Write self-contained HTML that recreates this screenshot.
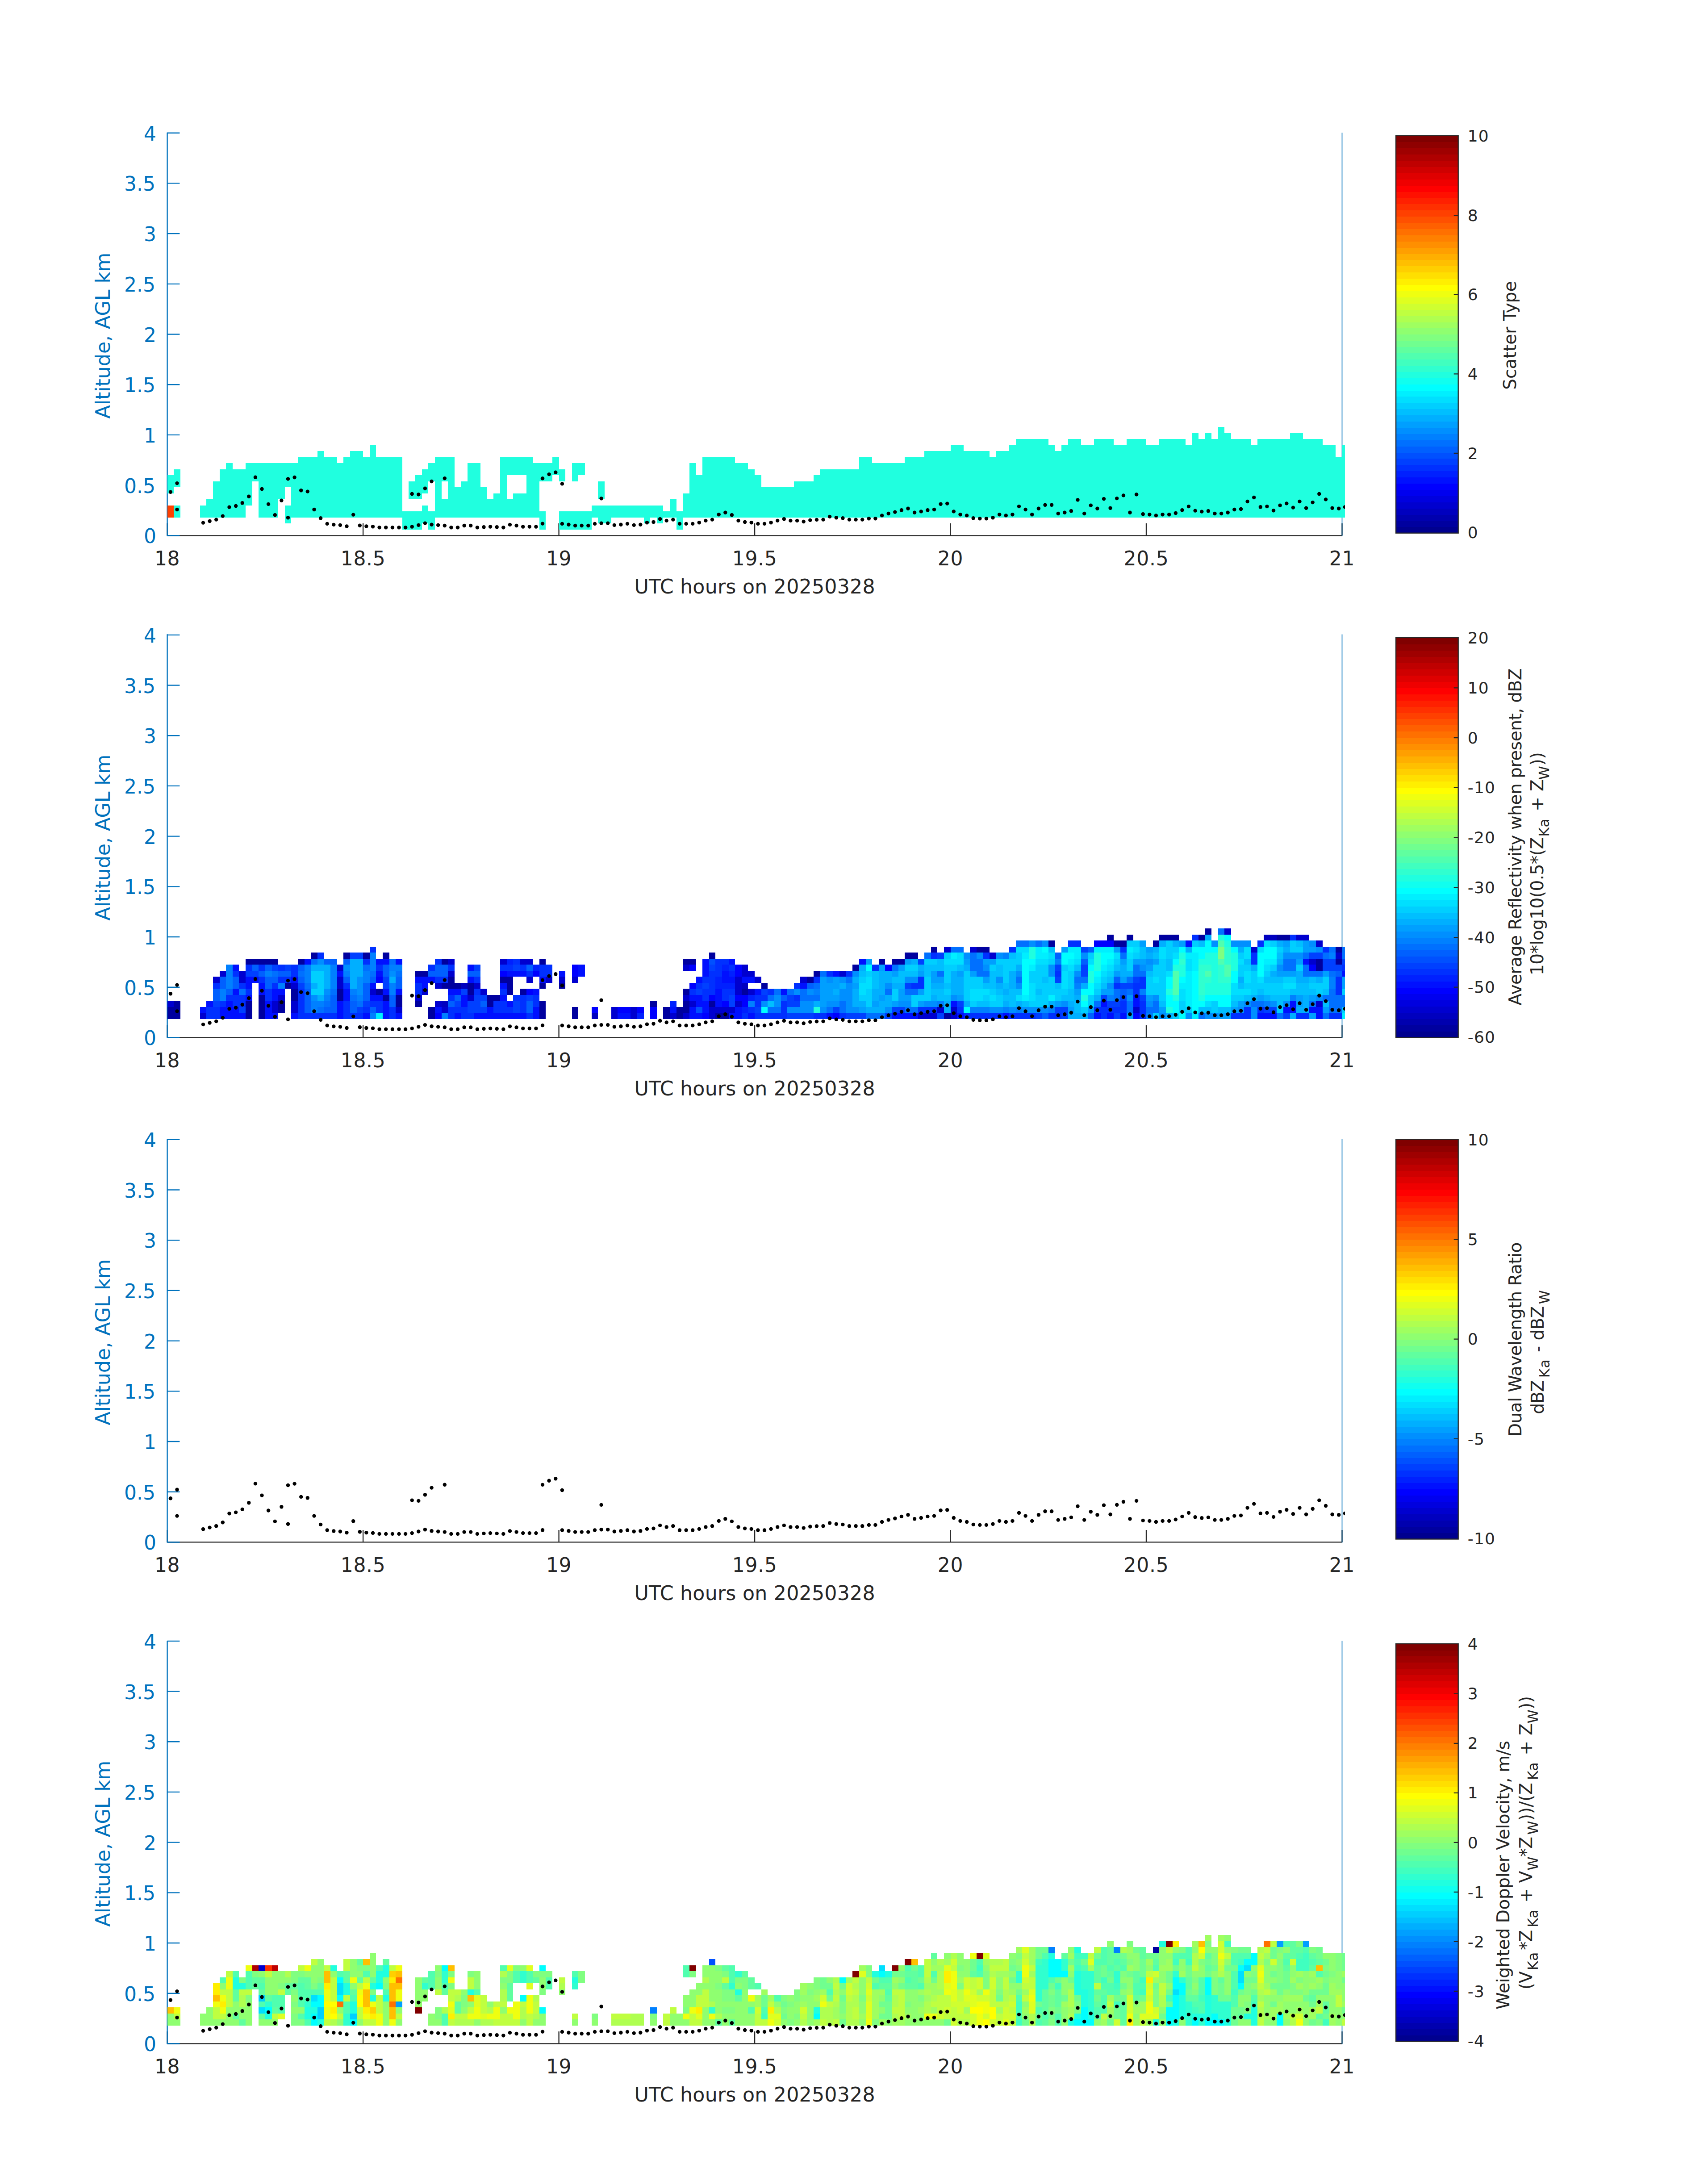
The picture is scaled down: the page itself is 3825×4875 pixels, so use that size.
<!DOCTYPE html>
<html><head><meta charset="utf-8"><title>Radar scatter type, reflectivity, DWR and Doppler velocity</title>
<style>html,body{margin:0;padding:0;background:#fff}svg{display:block}text{font-family:'DejaVu Sans','Liberation Sans',sans-serif}</style></head><body>
<svg width="3825" height="4875" viewBox="0 0 3825 4875">
<rect width="3825" height="4875" fill="#fff"/>
<defs>
<clipPath id="cp0"><rect x="374.6" y="298" width="2637.4" height="901.3"/></clipPath>
<clipPath id="cp1"><rect x="374.6" y="1421.5" width="2637.4" height="901.9"/></clipPath>
<clipPath id="cp2"><rect x="374.6" y="2551.5" width="2637.4" height="901.9"/></clipPath>
<clipPath id="cp3"><rect x="374.6" y="3675.4" width="2637.4" height="901"/></clipPath>
</defs>
<path d="M374.6 1199.3v-27.5M813.1 1199.3v-27.5M1251.6 1199.3v-27.5M1690.1 1199.3v-27.5M2128.5 1199.3v-27.5M2567 1199.3v-27.5M3005.5 1199.3v-27.5" stroke="#262626" stroke-width="2.35" fill="none"/>
<path d="M374.6 1199.3h27.8M374.6 1086.6h27.8M374.6 973.9h27.8M374.6 861.2h27.8M374.6 748.5h27.8M374.6 635.8h27.8M374.6 523.1h27.8M374.6 410.4h27.8M374.6 297.7h27.8" stroke="#0072BD" stroke-width="2.35" fill="none"/>
<path d="M374.6 2323.4v-27.5M813.1 2323.4v-27.5M1251.6 2323.4v-27.5M1690.1 2323.4v-27.5M2128.5 2323.4v-27.5M2567 2323.4v-27.5M3005.5 2323.4v-27.5" stroke="#262626" stroke-width="2.35" fill="none"/>
<path d="M374.6 2323.4h27.8M374.6 2210.7h27.8M374.6 2098h27.8M374.6 1985.3h27.8M374.6 1872.6h27.8M374.6 1759.9h27.8M374.6 1647.2h27.8M374.6 1534.5h27.8M374.6 1421.8h27.8" stroke="#0072BD" stroke-width="2.35" fill="none"/>
<path d="M374.6 3453.4v-27.5M813.1 3453.4v-27.5M1251.6 3453.4v-27.5M1690.1 3453.4v-27.5M2128.5 3453.4v-27.5M2567 3453.4v-27.5M3005.5 3453.4v-27.5" stroke="#262626" stroke-width="2.35" fill="none"/>
<path d="M374.6 3453.4h27.8M374.6 3340.7h27.8M374.6 3228h27.8M374.6 3115.3h27.8M374.6 3002.6h27.8M374.6 2889.9h27.8M374.6 2777.2h27.8M374.6 2664.5h27.8M374.6 2551.8h27.8" stroke="#0072BD" stroke-width="2.35" fill="none"/>
<path d="M374.6 4576.4v-27.5M813.1 4576.4v-27.5M1251.6 4576.4v-27.5M1690.1 4576.4v-27.5M2128.5 4576.4v-27.5M2567 4576.4v-27.5M3005.5 4576.4v-27.5" stroke="#262626" stroke-width="2.35" fill="none"/>
<path d="M374.6 4576.4h27.8M374.6 4463.7h27.8M374.6 4351h27.8M374.6 4238.3h27.8M374.6 4125.6h27.8M374.6 4012.9h27.8M374.6 3900.2h27.8M374.6 3787.5h27.8M374.6 3674.8h27.8" stroke="#0072BD" stroke-width="2.35" fill="none"/>
<path d="M374.6 1199.3H3005.5" stroke="#262626" stroke-width="2.35" fill="none"/>
<path d="M3005.5 297V1200.5" stroke="#0072BD" stroke-width="1.7" fill="none"/>
<path d="M374.6 296.8V1200.5M374.6 1199.3h27.8" stroke="#0072BD" stroke-width="2.35" fill="none"/>
<g fill="#0072BD" font-size="44" text-anchor="end">
<text x="349.9" y="1216.3">0</text>
<text x="348.1" y="1103.6">0.5</text>
<text x="349.9" y="990.9">1</text>
<text x="348.1" y="878.2">1.5</text>
<text x="349.9" y="765.5">2</text>
<text x="348.1" y="652.8">2.5</text>
<text x="349.9" y="540.1">3</text>
<text x="348.1" y="427.4">3.5</text>
<text x="349.9" y="314.7">4</text>
</g>
<text transform="translate(245.9 937.5) rotate(-90)" fill="#0072BD" font-size="44.4" letter-spacing="-0.11">Altitude, AGL km</text>
<g fill="#262626" font-size="44" text-anchor="middle" letter-spacing="0.7">
<text x="374.6" y="1265.6">18</text>
<text x="813.1" y="1265.6">18.5</text>
<text x="1251.6" y="1265.6">19</text>
<text x="1690.1" y="1265.6">19.5</text>
<text x="2128.5" y="1265.6">20</text>
<text x="2567" y="1265.6">20.5</text>
<text x="3005.5" y="1265.6">21</text>
</g>
<text x="1420.4" y="1328.9" fill="#262626" font-size="44.3" letter-spacing="0.20">UTC hours on 20250328</text>
<path d="M374.6 2323.4H3005.5" stroke="#262626" stroke-width="2.35" fill="none"/>
<path d="M3005.5 1420.5V2324.6" stroke="#0072BD" stroke-width="1.7" fill="none"/>
<path d="M374.6 1420.3V2324.6M374.6 2323.4h27.8" stroke="#0072BD" stroke-width="2.35" fill="none"/>
<g fill="#0072BD" font-size="44" text-anchor="end">
<text x="349.9" y="2340.4">0</text>
<text x="348.1" y="2227.7">0.5</text>
<text x="349.9" y="2115">1</text>
<text x="348.1" y="2002.3">1.5</text>
<text x="349.9" y="1889.6">2</text>
<text x="348.1" y="1776.9">2.5</text>
<text x="349.9" y="1664.2">3</text>
<text x="348.1" y="1551.5">3.5</text>
<text x="349.9" y="1438.8">4</text>
</g>
<text transform="translate(245.9 2061.6) rotate(-90)" fill="#0072BD" font-size="44.4" letter-spacing="-0.11">Altitude, AGL km</text>
<g fill="#262626" font-size="44" text-anchor="middle" letter-spacing="0.7">
<text x="374.6" y="2389.7">18</text>
<text x="813.1" y="2389.7">18.5</text>
<text x="1251.6" y="2389.7">19</text>
<text x="1690.1" y="2389.7">19.5</text>
<text x="2128.5" y="2389.7">20</text>
<text x="2567" y="2389.7">20.5</text>
<text x="3005.5" y="2389.7">21</text>
</g>
<text x="1420.4" y="2453" fill="#262626" font-size="44.3" letter-spacing="0.20">UTC hours on 20250328</text>
<path d="M374.6 3453.4H3005.5" stroke="#262626" stroke-width="2.35" fill="none"/>
<path d="M3005.5 2550.5V3454.6" stroke="#0072BD" stroke-width="1.7" fill="none"/>
<path d="M374.6 2550.3V3454.6M374.6 3453.4h27.8" stroke="#0072BD" stroke-width="2.35" fill="none"/>
<g fill="#0072BD" font-size="44" text-anchor="end">
<text x="349.9" y="3470.4">0</text>
<text x="348.1" y="3357.7">0.5</text>
<text x="349.9" y="3245">1</text>
<text x="348.1" y="3132.3">1.5</text>
<text x="349.9" y="3019.6">2</text>
<text x="348.1" y="2906.9">2.5</text>
<text x="349.9" y="2794.2">3</text>
<text x="348.1" y="2681.5">3.5</text>
<text x="349.9" y="2568.8">4</text>
</g>
<text transform="translate(245.9 3191.6) rotate(-90)" fill="#0072BD" font-size="44.4" letter-spacing="-0.11">Altitude, AGL km</text>
<g fill="#262626" font-size="44" text-anchor="middle" letter-spacing="0.7">
<text x="374.6" y="3519.7">18</text>
<text x="813.1" y="3519.7">18.5</text>
<text x="1251.6" y="3519.7">19</text>
<text x="1690.1" y="3519.7">19.5</text>
<text x="2128.5" y="3519.7">20</text>
<text x="2567" y="3519.7">20.5</text>
<text x="3005.5" y="3519.7">21</text>
</g>
<text x="1420.4" y="3583" fill="#262626" font-size="44.3" letter-spacing="0.20">UTC hours on 20250328</text>
<path d="M374.6 4576.4H3005.5" stroke="#262626" stroke-width="2.35" fill="none"/>
<path d="M3005.5 3674.4V4577.6" stroke="#0072BD" stroke-width="1.7" fill="none"/>
<path d="M374.6 3674.2V4577.6M374.6 4576.4h27.8" stroke="#0072BD" stroke-width="2.35" fill="none"/>
<g fill="#0072BD" font-size="44" text-anchor="end">
<text x="349.9" y="4593.4">0</text>
<text x="348.1" y="4480.7">0.5</text>
<text x="349.9" y="4368">1</text>
<text x="348.1" y="4255.3">1.5</text>
<text x="349.9" y="4142.6">2</text>
<text x="348.1" y="4029.9">2.5</text>
<text x="349.9" y="3917.2">3</text>
<text x="348.1" y="3804.5">3.5</text>
<text x="349.9" y="3691.8">4</text>
</g>
<text transform="translate(245.9 4314.6) rotate(-90)" fill="#0072BD" font-size="44.4" letter-spacing="-0.11">Altitude, AGL km</text>
<g fill="#262626" font-size="44" text-anchor="middle" letter-spacing="0.7">
<text x="374.6" y="4642.7">18</text>
<text x="813.1" y="4642.7">18.5</text>
<text x="1251.6" y="4642.7">19</text>
<text x="1690.1" y="4642.7">19.5</text>
<text x="2128.5" y="4642.7">20</text>
<text x="2567" y="4642.7">20.5</text>
<text x="3005.5" y="4642.7">21</text>
</g>
<text x="1420.4" y="4706" fill="#262626" font-size="44.3" letter-spacing="0.20">UTC hours on 20250328</text>
<g shape-rendering="crispEdges" clip-path="url(#cp0)">
<path fill="#20FFDF" d="M374.6 1064.2H389.2V1104.7H374.6ZM389.2 1131.8H403.8V1158.8H389.2ZM389.2 1050.6H403.8V1091.2H389.2ZM447.7 1131.8H462.3V1158.8H447.7ZM462.3 1118.2H476.9V1158.8H462.3ZM476.9 1077.7H491.5V1158.8H476.9ZM491.5 1050.6H506.1V1158.8H491.5ZM506.1 1037.1H520.8V1158.8H506.1ZM520.8 1050.6H535.4V1158.8H520.8ZM535.4 1050.6H550V1158.8H535.4ZM550 1037.1H564.6V1131.8H550ZM564.6 1037.1H579.2V1077.7H564.6ZM579.2 1037.1H593.8V1158.8H579.2ZM593.8 1037.1H608.5V1158.8H593.8ZM608.5 1037.1H623.1V1158.8H608.5ZM623.1 1037.1H637.7V1118.2H623.1ZM637.7 1131.8H652.3V1172.3H637.7ZM637.7 1037.1H652.3V1091.2H637.7ZM652.3 1037.1H666.9V1158.8H652.3ZM666.9 1023.6H681.5V1158.8H666.9ZM681.5 1023.6H696.2V1158.8H681.5ZM696.2 1023.6H710.8V1158.8H696.2ZM710.8 1010.1H725.4V1158.8H710.8ZM725.4 1023.6H740V1158.8H725.4ZM740 1023.6H754.6V1158.8H740ZM754.6 1037.1H769.2V1158.8H754.6ZM769.2 1023.6H783.9V1158.8H769.2ZM783.9 1010.1H798.5V1158.8H783.9ZM798.5 1010.1H813.1V1158.8H798.5ZM813.1 1023.6H827.7V1158.8H813.1ZM827.7 996.6H842.3V1158.8H827.7ZM842.3 1023.6H856.9V1158.8H842.3ZM856.9 1023.6H871.5V1158.8H856.9ZM871.5 1023.6H886.2V1158.8H871.5ZM886.2 1023.6H900.8V1158.8H886.2ZM900.8 1145.3H915.4V1185.8H900.8ZM915.4 1145.3H930V1185.8H915.4ZM915.4 1077.7H930V1118.2H915.4ZM930 1145.3H944.6V1185.8H930ZM930 1064.2H944.6V1118.2H930ZM944.6 1131.8H959.2V1172.3H944.6ZM944.6 1050.6H959.2V1104.7H944.6ZM959.2 1145.3H973.9V1185.8H959.2ZM959.2 1037.1H973.9V1077.7H959.2ZM973.9 1023.6H988.5V1158.8H973.9ZM988.5 1118.2H1003.1V1158.8H988.5ZM988.5 1023.6H1003.1V1077.7H988.5ZM1003.1 1023.6H1017.7V1158.8H1003.1ZM1017.7 1091.2H1032.3V1158.8H1017.7ZM1032.3 1077.7H1046.9V1158.8H1032.3ZM1046.9 1037.1H1061.6V1158.8H1046.9ZM1061.6 1037.1H1076.2V1158.8H1061.6ZM1076.2 1091.2H1090.8V1158.8H1076.2ZM1090.8 1118.2H1105.4V1158.8H1090.8ZM1105.4 1104.7H1120V1158.8H1105.4ZM1120 1023.6H1134.6V1158.8H1120ZM1134.6 1118.2H1149.3V1158.8H1134.6ZM1134.6 1023.6H1149.3V1064.2H1134.6ZM1149.3 1104.7H1163.9V1158.8H1149.3ZM1149.3 1023.6H1163.9V1064.2H1149.3ZM1163.9 1104.7H1178.5V1158.8H1163.9ZM1163.9 1023.6H1178.5V1064.2H1163.9ZM1178.5 1023.6H1193.1V1158.8H1178.5ZM1193.1 1037.1H1207.7V1158.8H1193.1ZM1207.7 1145.3H1222.3V1185.8H1207.7ZM1207.7 1037.1H1222.3V1077.7H1207.7ZM1222.3 1037.1H1237V1077.7H1222.3ZM1237 1023.6H1251.6V1064.2H1237ZM1251.6 1145.3H1266.2V1185.8H1251.6ZM1251.6 1050.6H1266.2V1077.7H1251.6ZM1266.2 1145.3H1280.8V1185.8H1266.2ZM1280.8 1145.3H1295.4V1185.8H1280.8ZM1280.8 1037.1H1295.4V1077.7H1280.8ZM1295.4 1145.3H1310V1185.8H1295.4ZM1295.4 1037.1H1310V1064.2H1295.4ZM1310 1145.3H1324.6V1185.8H1310ZM1324.6 1131.8H1339.3V1158.8H1324.6ZM1339.3 1131.8H1353.9V1172.3H1339.3ZM1339.3 1077.7H1353.9V1118.2H1339.3ZM1353.9 1131.8H1368.5V1172.3H1353.9ZM1368.5 1131.8H1383.1V1158.8H1368.5ZM1383.1 1131.8H1397.7V1158.8H1383.1ZM1397.7 1131.8H1412.3V1158.8H1397.7ZM1412.3 1131.8H1427V1158.8H1412.3ZM1427 1131.8H1441.6V1158.8H1427ZM1441.6 1131.8H1456.2V1172.3H1441.6ZM1456.2 1131.8H1470.8V1158.8H1456.2ZM1470.8 1131.8H1485.4V1172.3H1470.8ZM1485.4 1145.3H1500V1158.8H1485.4ZM1500 1118.2H1514.7V1158.8H1500ZM1514.7 1145.3H1529.3V1185.8H1514.7ZM1529.3 1104.7H1543.9V1158.8H1529.3ZM1543.9 1037.1H1558.5V1158.8H1543.9ZM1558.5 1064.2H1573.1V1158.8H1558.5ZM1573.1 1023.6H1587.7V1158.8H1573.1ZM1587.7 1023.6H1602.4V1158.8H1587.7ZM1602.4 1023.6H1617V1158.8H1602.4ZM1617 1023.6H1631.6V1158.8H1617ZM1631.6 1023.6H1646.2V1158.8H1631.6ZM1646.2 1037.1H1660.8V1158.8H1646.2ZM1660.8 1037.1H1675.4V1158.8H1660.8ZM1675.4 1050.6H1690.1V1158.8H1675.4ZM1690.1 1064.2H1704.7V1158.8H1690.1ZM1704.7 1091.2H1719.3V1158.8H1704.7ZM1719.3 1091.2H1733.9V1158.8H1719.3ZM1733.9 1091.2H1748.5V1158.8H1733.9ZM1748.5 1091.2H1763.1V1158.8H1748.5ZM1763.1 1091.2H1777.7V1158.8H1763.1ZM1777.7 1077.7H1792.4V1158.8H1777.7ZM1792.4 1077.7H1807V1158.8H1792.4ZM1807 1077.7H1821.6V1158.8H1807ZM1821.6 1064.2H1836.2V1158.8H1821.6ZM1836.2 1050.6H1850.8V1158.8H1836.2ZM1850.8 1050.6H1865.4V1158.8H1850.8ZM1865.4 1050.6H1880.1V1158.8H1865.4ZM1880.1 1050.6H1894.7V1158.8H1880.1ZM1894.7 1050.6H1909.3V1158.8H1894.7ZM1909.3 1050.6H1923.9V1158.8H1909.3ZM1923.9 1023.6H1938.5V1158.8H1923.9ZM1938.5 1023.6H1953.1V1158.8H1938.5ZM1953.1 1037.1H1967.8V1158.8H1953.1ZM1967.8 1037.1H1982.4V1158.8H1967.8ZM1982.4 1037.1H1997V1158.8H1982.4ZM1997 1037.1H2011.6V1158.8H1997ZM2011.6 1037.1H2026.2V1158.8H2011.6ZM2026.2 1023.6H2040.8V1158.8H2026.2ZM2040.8 1023.6H2055.5V1158.8H2040.8ZM2055.5 1023.6H2070.1V1158.8H2055.5ZM2070.1 1010.1H2084.7V1158.8H2070.1ZM2084.7 1010.1H2099.3V1158.8H2084.7ZM2099.3 1010.1H2113.9V1158.8H2099.3ZM2113.9 1010.1H2128.5V1158.8H2113.9ZM2128.5 996.6H2143.1V1158.8H2128.5ZM2143.1 996.6H2157.8V1158.8H2143.1ZM2157.8 1010.1H2172.4V1158.8H2157.8ZM2172.4 1010.1H2187V1158.8H2172.4ZM2187 1010.1H2201.6V1158.8H2187ZM2201.6 1010.1H2216.2V1158.8H2201.6ZM2216.2 1023.6H2230.8V1158.8H2216.2ZM2230.8 1010.1H2245.5V1158.8H2230.8ZM2245.5 1010.1H2260.1V1158.8H2245.5ZM2260.1 996.6H2274.7V1158.8H2260.1ZM2274.7 983H2289.3V1158.8H2274.7ZM2289.3 983H2303.9V1158.8H2289.3ZM2303.9 983H2318.5V1158.8H2303.9ZM2318.5 983H2333.2V1158.8H2318.5ZM2333.2 983H2347.8V1158.8H2333.2ZM2347.8 996.6H2362.4V1158.8H2347.8ZM2362.4 1010.1H2377V1158.8H2362.4ZM2377 996.6H2391.6V1158.8H2377ZM2391.6 983H2406.2V1158.8H2391.6ZM2406.2 983H2420.9V1158.8H2406.2ZM2420.9 996.6H2435.5V1158.8H2420.9ZM2435.5 996.6H2450.1V1158.8H2435.5ZM2450.1 983H2464.7V1158.8H2450.1ZM2464.7 983H2479.3V1158.8H2464.7ZM2479.3 983H2493.9V1158.8H2479.3ZM2493.9 996.6H2508.6V1158.8H2493.9ZM2508.6 996.6H2523.2V1158.8H2508.6ZM2523.2 983H2537.8V1158.8H2523.2ZM2537.8 983H2552.4V1158.8H2537.8ZM2552.4 983H2567V1158.8H2552.4ZM2567 996.6H2581.6V1158.8H2567ZM2581.6 996.6H2596.2V1158.8H2581.6ZM2596.2 983H2610.9V1158.8H2596.2ZM2610.9 983H2625.5V1158.8H2610.9ZM2625.5 983H2640.1V1158.8H2625.5ZM2640.1 983H2654.7V1158.8H2640.1ZM2654.7 996.6H2669.3V1158.8H2654.7ZM2669.3 969.5H2683.9V1158.8H2669.3ZM2683.9 983H2698.6V1158.8H2683.9ZM2698.6 969.5H2713.2V1158.8H2698.6ZM2713.2 983H2727.8V1158.8H2713.2ZM2727.8 956H2742.4V1158.8H2727.8ZM2742.4 969.5H2757V1158.8H2742.4ZM2757 983H2771.6V1158.8H2757ZM2771.6 983H2786.3V1158.8H2771.6ZM2786.3 983H2800.9V1158.8H2786.3ZM2800.9 996.6H2815.5V1158.8H2800.9ZM2815.5 983H2830.1V1158.8H2815.5ZM2830.1 983H2844.7V1158.8H2830.1ZM2844.7 983H2859.3V1158.8H2844.7ZM2859.3 983H2874V1158.8H2859.3ZM2874 983H2888.6V1158.8H2874ZM2888.6 969.5H2903.2V1158.8H2888.6ZM2903.2 969.5H2917.8V1158.8H2903.2ZM2917.8 983H2932.4V1158.8H2917.8ZM2932.4 983H2947V1158.8H2932.4ZM2947 983H2961.7V1158.8H2947ZM2961.7 996.6H2976.3V1158.8H2961.7ZM2976.3 996.6H2990.9V1158.8H2976.3ZM2990.9 1023.6H3005.5V1158.8H2990.9ZM3005.5 996.6H3012V1158.8H3005.5Z"/>
<path fill="#FF4000" d="M374.6 1131.8H389.2V1158.8H374.6Z"/>
</g>
<g shape-rendering="crispEdges" clip-path="url(#cp1)">
<path fill="#00009F" d="M374.6 2254.8H389.2V2281.8H374.6ZM389.2 2241.2H403.8V2281.8H389.2ZM550 2241.2H564.6V2281.8H550ZM550 2146.6H564.6V2160.1H550ZM564.6 2146.6H579.2V2160.1H564.6ZM579.2 2227.7H593.8V2281.8H579.2ZM579.2 2146.6H593.8V2160.1H579.2ZM593.8 2146.6H608.5V2160.1H593.8ZM608.5 2146.6H623.1V2160.1H608.5ZM623.1 2241.2H637.7V2268.3H623.1ZM637.7 2200.7H652.3V2214.2H637.7ZM652.3 2214.2H666.9V2241.2H652.3ZM666.9 2146.6H681.5V2160.1H666.9ZM696.2 2133.1H710.8V2146.6H696.2ZM754.6 2214.2H769.2V2241.2H754.6ZM769.2 2133.1H783.9V2146.6H769.2ZM813.1 2133.1H827.7V2146.6H813.1ZM842.3 2214.2H856.9V2227.7H842.3ZM856.9 2227.7H871.5V2241.2H856.9ZM856.9 2133.1H871.5V2146.6H856.9ZM886.2 2227.7H900.8V2254.8H886.2ZM930 2241.2H944.6V2254.8H930ZM930 2173.6H944.6V2187.2H930ZM944.6 2173.6H959.2V2187.2H944.6ZM959.2 2254.8H973.9V2281.8H959.2ZM988.5 2200.7H1003.1V2214.2H988.5ZM988.5 2146.6H1003.1V2160.1H988.5ZM1003.1 2187.2H1017.7V2214.2H1003.1ZM1017.7 2200.7H1032.3V2214.2H1017.7ZM1046.9 2200.7H1061.6V2227.7H1046.9ZM1090.8 2227.7H1105.4V2254.8H1090.8ZM1105.4 2227.7H1120V2241.2H1105.4ZM1120 2187.2H1134.6V2200.7H1120ZM1134.6 2187.2H1149.3V2227.7H1134.6ZM1163.9 2214.2H1178.5V2227.7H1163.9ZM1207.7 2241.2H1222.3V2281.8H1207.7ZM1207.7 2200.7H1222.3V2214.2H1207.7ZM1207.7 2146.6H1222.3V2160.1H1207.7ZM1251.6 2200.7H1266.2V2214.2H1251.6ZM1280.8 2254.8H1295.4V2281.8H1280.8ZM1456.2 2241.2H1470.8V2254.8H1456.2ZM1485.4 2254.8H1500V2281.8H1485.4ZM1514.7 2254.8H1529.3V2281.8H1514.7ZM1529.3 2241.2H1543.9V2268.3H1529.3ZM1529.3 2214.2H1543.9V2227.7H1529.3ZM1529.3 2146.6H1543.9V2160.1H1529.3ZM1543.9 2146.6H1558.5V2160.1H1543.9ZM1587.7 2241.2H1602.4V2254.8H1587.7ZM1587.7 2133.1H1602.4V2146.6H1587.7ZM1602.4 2268.3H1617V2281.8H1602.4ZM1617 2268.3H1631.6V2281.8H1617ZM1660.8 2214.2H1675.4V2227.7H1660.8ZM1704.7 2200.7H1719.3V2214.2H1704.7ZM1807 2187.2H1821.6V2200.7H1807ZM1821.6 2173.6H1836.2V2187.2H1821.6ZM1909.3 2160.1H1923.9V2173.6H1909.3ZM1967.8 2146.6H1982.4V2160.1H1967.8ZM1997 2146.6H2011.6V2160.1H1997ZM2011.6 2146.6H2026.2V2160.1H2011.6ZM2026.2 2133.1H2040.8V2146.6H2026.2ZM2040.8 2133.1H2055.5V2146.6H2040.8ZM2084.7 2119.6H2099.3V2133.1H2084.7ZM2113.9 2268.3H2128.5V2281.8H2113.9ZM2187 2119.6H2201.6V2133.1H2187ZM2201.6 2119.6H2216.2V2133.1H2201.6ZM2347.8 2106H2362.4V2119.6H2347.8ZM2479.3 2092.5H2493.9V2106H2479.3ZM2493.9 2106H2508.6V2119.6H2493.9ZM2508.6 2106H2523.2V2119.6H2508.6ZM2523.2 2092.5H2537.8V2106H2523.2ZM2581.6 2106H2596.2V2119.6H2581.6ZM2596.2 2092.5H2610.9V2106H2596.2ZM2610.9 2092.5H2625.5V2106H2610.9ZM2625.5 2092.5H2640.1V2106H2625.5ZM2683.9 2092.5H2698.6V2106H2683.9ZM2698.6 2079H2713.2V2092.5H2698.6ZM2859.3 2092.5H2874V2106H2859.3ZM2874 2092.5H2888.6V2106H2874ZM2947 2146.6H2961.7V2173.6H2947ZM2990.9 2146.6H3005.5V2160.1H2990.9ZM2990.9 2119.6H3005.5V2133.1H2990.9Z"/>
<path fill="#0000BF" d="M988.5 2241.2H1003.1V2254.8H988.5ZM1032.3 2200.7H1046.9V2214.2H1032.3ZM1324.6 2268.3H1339.3V2281.8H1324.6ZM1660.8 2200.7H1675.4V2214.2H1660.8ZM2830.1 2092.5H2844.7V2106H2830.1ZM2844.7 2092.5H2859.3V2106H2844.7Z"/>
<path fill="#0000CF" d="M374.6 2241.2H389.2V2254.8H374.6ZM447.7 2268.3H462.3V2281.8H447.7ZM476.9 2187.2H491.5V2200.7H476.9ZM491.5 2173.6H506.1V2187.2H491.5ZM535.4 2173.6H550V2200.7H535.4ZM608.5 2241.2H623.1V2268.3H608.5ZM623.1 2227.7H637.7V2241.2H623.1ZM652.3 2241.2H666.9V2268.3H652.3ZM652.3 2200.7H666.9V2214.2H652.3ZM754.6 2187.2H769.2V2214.2H754.6ZM754.6 2160.1H769.2V2173.6H754.6ZM827.7 2214.2H842.3V2227.7H827.7ZM886.2 2254.8H900.8V2268.3H886.2ZM930 2227.7H944.6V2241.2H930ZM944.6 2214.2H959.2V2227.7H944.6ZM973.9 2241.2H988.5V2254.8H973.9ZM973.9 2200.7H988.5V2214.2H973.9ZM988.5 2254.8H1003.1V2268.3H988.5ZM1003.1 2173.6H1017.7V2187.2H1003.1ZM1003.1 2146.6H1017.7V2160.1H1003.1ZM1046.9 2227.7H1061.6V2241.2H1046.9ZM1061.6 2200.7H1076.2V2214.2H1061.6ZM1076.2 2214.2H1090.8V2227.7H1076.2ZM1120 2146.6H1134.6V2160.1H1120ZM1163.9 2146.6H1178.5V2160.1H1163.9ZM1178.5 2187.2H1193.1V2200.7H1178.5ZM1178.5 2146.6H1193.1V2160.1H1178.5ZM1222.3 2187.2H1237V2200.7H1222.3ZM1251.6 2187.2H1266.2V2200.7H1251.6ZM1280.8 2187.2H1295.4V2200.7H1280.8ZM1368.5 2254.8H1383.1V2281.8H1368.5ZM1412.3 2254.8H1427V2281.8H1412.3ZM1500 2268.3H1514.7V2281.8H1500ZM1529.3 2268.3H1543.9V2281.8H1529.3ZM1529.3 2227.7H1543.9V2241.2H1529.3ZM1529.3 2160.1H1543.9V2173.6H1529.3ZM1543.9 2241.2H1558.5V2254.8H1543.9ZM1587.7 2254.8H1602.4V2281.8H1587.7ZM1602.4 2254.8H1617V2268.3H1602.4ZM1617 2254.8H1631.6V2268.3H1617ZM1631.6 2254.8H1646.2V2268.3H1631.6ZM1646.2 2241.2H1660.8V2254.8H1646.2ZM1646.2 2187.2H1660.8V2227.7H1646.2ZM1660.8 2160.1H1675.4V2187.2H1660.8ZM1675.4 2214.2H1690.1V2227.7H1675.4ZM1675.4 2173.6H1690.1V2187.2H1675.4ZM1690.1 2187.2H1704.7V2200.7H1690.1ZM1792.4 2187.2H1807V2200.7H1792.4ZM1880.1 2173.6H1894.7V2187.2H1880.1ZM2055.5 2268.3H2070.1V2281.8H2055.5ZM2070.1 2268.3H2084.7V2281.8H2070.1ZM2084.7 2268.3H2099.3V2281.8H2084.7ZM2099.3 2254.8H2113.9V2268.3H2099.3ZM2113.9 2119.6H2128.5V2133.1H2113.9ZM2128.5 2254.8H2143.1V2281.8H2128.5ZM2172.4 2119.6H2187V2133.1H2172.4ZM2216.2 2133.1H2230.8V2146.6H2216.2ZM2537.8 2254.8H2552.4V2268.3H2537.8ZM2742.4 2079H2757V2092.5H2742.4ZM2800.9 2119.6H2815.5V2133.1H2800.9ZM2903.2 2092.5H2917.8V2106H2903.2ZM2917.8 2092.5H2932.4V2106H2917.8ZM2932.4 2146.6H2947V2160.1H2932.4ZM2947 2241.2H2961.7V2254.8H2947ZM2947 2106H2961.7V2119.6H2947ZM2990.9 2133.1H3005.5V2146.6H2990.9Z"/>
<path fill="#0000FF" d="M842.3 2187.2H856.9V2200.7H842.3ZM973.9 2268.3H988.5V2281.8H973.9ZM1120 2173.6H1134.6V2187.2H1120ZM1178.5 2214.2H1193.1V2227.7H1178.5ZM1193.1 2173.6H1207.7V2187.2H1193.1ZM1280.8 2160.1H1295.4V2187.2H1280.8ZM1324.6 2254.8H1339.3V2268.3H1324.6ZM1383.1 2254.8H1397.7V2268.3H1383.1ZM1397.7 2254.8H1412.3V2268.3H1397.7ZM1427 2254.8H1441.6V2268.3H1427ZM1456.2 2254.8H1470.8V2281.8H1456.2ZM1543.9 2200.7H1558.5V2214.2H1543.9ZM1543.9 2160.1H1558.5V2173.6H1543.9ZM1573.1 2268.3H1587.7V2281.8H1573.1ZM1587.7 2227.7H1602.4V2241.2H1587.7ZM1617 2241.2H1631.6V2254.8H1617ZM1646.2 2227.7H1660.8V2241.2H1646.2ZM1646.2 2160.1H1660.8V2187.2H1646.2ZM1660.8 2227.7H1675.4V2254.8H1660.8ZM1865.4 2268.3H1880.1V2281.8H1865.4ZM1982.4 2160.1H1997V2173.6H1982.4ZM2450.1 2106H2464.7V2119.6H2450.1ZM2464.7 2106H2479.3V2119.6H2464.7ZM2479.3 2106H2493.9V2119.6H2479.3ZM2537.8 2268.3H2552.4V2281.8H2537.8ZM2932.4 2160.1H2947V2173.6H2932.4Z"/>
<path fill="#0010FF" d="M447.7 2254.8H462.3V2268.3H447.7ZM462.3 2241.2H476.9V2254.8H462.3ZM491.5 2254.8H506.1V2281.8H491.5ZM506.1 2241.2H520.8V2281.8H506.1ZM520.8 2254.8H535.4V2281.8H520.8ZM520.8 2214.2H535.4V2227.7H520.8ZM520.8 2160.1H535.4V2173.6H520.8ZM535.4 2268.3H550V2281.8H535.4ZM550 2227.7H564.6V2241.2H550ZM550 2187.2H564.6V2214.2H550ZM564.6 2187.2H579.2V2200.7H564.6ZM579.2 2200.7H593.8V2227.7H579.2ZM593.8 2241.2H608.5V2281.8H593.8ZM608.5 2268.3H623.1V2281.8H608.5ZM608.5 2214.2H623.1V2241.2H608.5ZM623.1 2214.2H637.7V2227.7H623.1ZM652.3 2268.3H666.9V2281.8H652.3ZM652.3 2187.2H666.9V2200.7H652.3ZM681.5 2146.6H696.2V2160.1H681.5ZM754.6 2241.2H769.2V2281.8H754.6ZM754.6 2173.6H769.2V2187.2H754.6ZM769.2 2214.2H783.9V2241.2H769.2ZM813.1 2268.3H827.7V2281.8H813.1ZM827.7 2227.7H842.3V2241.2H827.7ZM827.7 2200.7H842.3V2214.2H827.7ZM842.3 2227.7H856.9V2241.2H842.3ZM842.3 2173.6H856.9V2187.2H842.3ZM842.3 2146.6H856.9V2160.1H842.3ZM856.9 2241.2H871.5V2281.8H856.9ZM856.9 2214.2H871.5V2227.7H856.9ZM856.9 2146.6H871.5V2160.1H856.9ZM886.2 2268.3H900.8V2281.8H886.2ZM886.2 2214.2H900.8V2227.7H886.2ZM886.2 2146.6H900.8V2160.1H886.2ZM930 2187.2H944.6V2200.7H930ZM944.6 2187.2H959.2V2214.2H944.6ZM959.2 2187.2H973.9V2200.7H959.2ZM973.9 2254.8H988.5V2268.3H973.9ZM1003.1 2214.2H1017.7V2227.7H1003.1ZM1017.7 2268.3H1032.3V2281.8H1017.7ZM1017.7 2214.2H1032.3V2227.7H1017.7ZM1032.3 2227.7H1046.9V2254.8H1032.3ZM1046.9 2187.2H1061.6V2200.7H1046.9ZM1046.9 2160.1H1061.6V2173.6H1046.9ZM1061.6 2268.3H1076.2V2281.8H1061.6ZM1076.2 2268.3H1090.8V2281.8H1076.2ZM1090.8 2254.8H1105.4V2281.8H1090.8ZM1105.4 2268.3H1120V2281.8H1105.4ZM1120 2268.3H1134.6V2281.8H1120ZM1120 2227.7H1134.6V2241.2H1120ZM1120 2200.7H1134.6V2214.2H1120ZM1134.6 2268.3H1149.3V2281.8H1134.6ZM1134.6 2241.2H1149.3V2254.8H1134.6ZM1134.6 2173.6H1149.3V2187.2H1134.6ZM1149.3 2268.3H1163.9V2281.8H1149.3ZM1149.3 2173.6H1163.9V2187.2H1149.3ZM1163.9 2268.3H1178.5V2281.8H1163.9ZM1163.9 2173.6H1178.5V2187.2H1163.9ZM1193.1 2254.8H1207.7V2281.8H1193.1ZM1193.1 2214.2H1207.7V2227.7H1193.1ZM1207.7 2187.2H1222.3V2200.7H1207.7ZM1251.6 2173.6H1266.2V2187.2H1251.6ZM1295.4 2160.1H1310V2187.2H1295.4ZM1383.1 2268.3H1397.7V2281.8H1383.1ZM1397.7 2268.3H1412.3V2281.8H1397.7ZM1500 2254.8H1514.7V2268.3H1500ZM1543.9 2254.8H1558.5V2281.8H1543.9ZM1543.9 2227.7H1558.5V2241.2H1543.9ZM1558.5 2268.3H1573.1V2281.8H1558.5ZM1558.5 2227.7H1573.1V2254.8H1558.5ZM1558.5 2187.2H1573.1V2200.7H1558.5ZM1573.1 2241.2H1587.7V2268.3H1573.1ZM1573.1 2146.6H1587.7V2187.2H1573.1ZM1602.4 2214.2H1617V2254.8H1602.4ZM1617 2173.6H1631.6V2200.7H1617ZM1631.6 2268.3H1646.2V2281.8H1631.6ZM1631.6 2187.2H1646.2V2200.7H1631.6ZM1631.6 2146.6H1646.2V2160.1H1631.6ZM1646.2 2254.8H1660.8V2281.8H1646.2ZM1660.8 2187.2H1675.4V2200.7H1660.8ZM1675.4 2268.3H1690.1V2281.8H1675.4ZM1675.4 2187.2H1690.1V2200.7H1675.4ZM1690.1 2214.2H1704.7V2227.7H1690.1ZM1748.5 2214.2H1763.1V2227.7H1748.5ZM1792.4 2200.7H1807V2214.2H1792.4ZM1850.8 2268.3H1865.4V2281.8H1850.8ZM1865.4 2173.6H1880.1V2187.2H1865.4ZM1923.9 2146.6H1938.5V2160.1H1923.9ZM1997 2268.3H2011.6V2281.8H1997ZM2011.6 2268.3H2026.2V2281.8H2011.6ZM2026.2 2268.3H2040.8V2281.8H2026.2ZM2040.8 2268.3H2055.5V2281.8H2040.8ZM2128.5 2241.2H2143.1V2254.8H2128.5ZM2143.1 2268.3H2157.8V2281.8H2143.1ZM2245.5 2268.3H2260.1V2281.8H2245.5ZM2450.1 2268.3H2464.7V2281.8H2450.1ZM2464.7 2241.2H2479.3V2254.8H2464.7ZM2479.3 2268.3H2493.9V2281.8H2479.3ZM2508.6 2268.3H2523.2V2281.8H2508.6ZM2537.8 2227.7H2552.4V2254.8H2537.8ZM2654.7 2106H2669.3V2119.6H2654.7ZM2815.5 2268.3H2830.1V2281.8H2815.5ZM2830.1 2268.3H2844.7V2281.8H2830.1ZM2844.7 2268.3H2859.3V2281.8H2844.7ZM2874 2254.8H2888.6V2268.3H2874ZM2888.6 2241.2H2903.2V2268.3H2888.6ZM2917.8 2146.6H2932.4V2160.1H2917.8ZM2932.4 2254.8H2947V2268.3H2932.4ZM2947 2254.8H2961.7V2281.8H2947ZM3005.5 2173.6H3012V2187.2H3005.5Z"/>
<path fill="#0020FF" d="M1134.6 2146.6H1149.3V2160.1H1134.6ZM1193.1 2160.1H1207.7V2173.6H1193.1ZM1427 2268.3H1441.6V2281.8H1427ZM1500 2241.2H1514.7V2254.8H1500ZM1602.4 2187.2H1617V2214.2H1602.4ZM1617 2200.7H1631.6V2214.2H1617ZM1617 2160.1H1631.6V2173.6H1617ZM1631.6 2200.7H1646.2V2214.2H1631.6ZM1631.6 2173.6H1646.2V2187.2H1631.6ZM1660.8 2254.8H1675.4V2268.3H1660.8ZM1675.4 2227.7H1690.1V2241.2H1675.4Z"/>
<path fill="#0030FF" d="M462.3 2254.8H476.9V2281.8H462.3ZM476.9 2254.8H491.5V2281.8H476.9ZM476.9 2200.7H491.5V2214.2H476.9ZM491.5 2241.2H506.1V2254.8H491.5ZM506.1 2227.7H520.8V2241.2H506.1ZM520.8 2227.7H535.4V2254.8H520.8ZM520.8 2173.6H535.4V2187.2H520.8ZM535.4 2227.7H550V2254.8H535.4ZM535.4 2200.7H550V2214.2H535.4ZM550 2214.2H564.6V2227.7H550ZM550 2160.1H564.6V2173.6H550ZM579.2 2187.2H593.8V2200.7H579.2ZM579.2 2160.1H593.8V2173.6H579.2ZM593.8 2214.2H608.5V2241.2H593.8ZM608.5 2200.7H623.1V2214.2H608.5ZM623.1 2187.2H637.7V2200.7H623.1ZM623.1 2160.1H637.7V2173.6H623.1ZM637.7 2187.2H652.3V2200.7H637.7ZM652.3 2160.1H666.9V2187.2H652.3ZM666.9 2214.2H681.5V2281.8H666.9ZM681.5 2268.3H696.2V2281.8H681.5ZM696.2 2268.3H710.8V2281.8H696.2ZM710.8 2268.3H725.4V2281.8H710.8ZM710.8 2133.1H725.4V2146.6H710.8ZM725.4 2268.3H740V2281.8H725.4ZM740 2268.3H754.6V2281.8H740ZM769.2 2241.2H783.9V2281.8H769.2ZM769.2 2200.7H783.9V2214.2H769.2ZM783.9 2268.3H798.5V2281.8H783.9ZM798.5 2268.3H813.1V2281.8H798.5ZM813.1 2254.8H827.7V2268.3H813.1ZM813.1 2146.6H827.7V2160.1H813.1ZM827.7 2241.2H842.3V2254.8H827.7ZM827.7 2119.6H842.3V2133.1H827.7ZM842.3 2241.2H856.9V2268.3H842.3ZM842.3 2160.1H856.9V2173.6H842.3ZM871.5 2254.8H886.2V2281.8H871.5ZM930 2200.7H944.6V2227.7H930ZM959.2 2160.1H973.9V2173.6H959.2ZM973.9 2187.2H988.5V2200.7H973.9ZM973.9 2146.6H988.5V2160.1H973.9ZM988.5 2187.2H1003.1V2200.7H988.5ZM1003.1 2254.8H1017.7V2281.8H1003.1ZM1003.1 2227.7H1017.7V2241.2H1003.1ZM1003.1 2160.1H1017.7V2173.6H1003.1ZM1017.7 2254.8H1032.3V2268.3H1017.7ZM1032.3 2254.8H1046.9V2281.8H1032.3ZM1046.9 2268.3H1061.6V2281.8H1046.9ZM1061.6 2214.2H1076.2V2227.7H1061.6ZM1061.6 2187.2H1076.2V2200.7H1061.6ZM1105.4 2241.2H1120V2268.3H1105.4ZM1120 2241.2H1134.6V2268.3H1120ZM1120 2214.2H1134.6V2227.7H1120ZM1120 2160.1H1134.6V2173.6H1120ZM1134.6 2254.8H1149.3V2268.3H1134.6ZM1134.6 2160.1H1149.3V2173.6H1134.6ZM1149.3 2227.7H1163.9V2241.2H1149.3ZM1149.3 2146.6H1163.9V2160.1H1149.3ZM1163.9 2227.7H1178.5V2268.3H1163.9ZM1163.9 2160.1H1178.5V2173.6H1163.9ZM1178.5 2268.3H1193.1V2281.8H1178.5ZM1178.5 2173.6H1193.1V2187.2H1178.5ZM1193.1 2227.7H1207.7V2254.8H1193.1ZM1207.7 2160.1H1222.3V2187.2H1207.7ZM1222.3 2160.1H1237V2187.2H1222.3ZM1543.9 2214.2H1558.5V2227.7H1543.9ZM1558.5 2200.7H1573.1V2214.2H1558.5ZM1573.1 2214.2H1587.7V2241.2H1573.1ZM1573.1 2187.2H1587.7V2200.7H1573.1ZM1587.7 2173.6H1602.4V2227.7H1587.7ZM1602.4 2146.6H1617V2187.2H1602.4ZM1617 2214.2H1631.6V2241.2H1617ZM1617 2146.6H1631.6V2160.1H1617ZM1631.6 2214.2H1646.2V2227.7H1631.6ZM1631.6 2160.1H1646.2V2173.6H1631.6ZM1660.8 2268.3H1675.4V2281.8H1660.8ZM1675.4 2254.8H1690.1V2268.3H1675.4ZM1690.1 2268.3H1704.7V2281.8H1690.1ZM1690.1 2227.7H1704.7V2254.8H1690.1ZM1704.7 2268.3H1719.3V2281.8H1704.7ZM1704.7 2227.7H1719.3V2241.2H1704.7ZM1719.3 2268.3H1733.9V2281.8H1719.3ZM1719.3 2214.2H1733.9V2227.7H1719.3ZM1733.9 2268.3H1748.5V2281.8H1733.9ZM1748.5 2241.2H1763.1V2281.8H1748.5ZM1777.7 2227.7H1792.4V2241.2H1777.7ZM1777.7 2200.7H1792.4V2214.2H1777.7ZM1821.6 2268.3H1836.2V2281.8H1821.6ZM1821.6 2187.2H1836.2V2200.7H1821.6ZM1836.2 2268.3H1850.8V2281.8H1836.2ZM1850.8 2173.6H1865.4V2187.2H1850.8ZM1880.1 2268.3H1894.7V2281.8H1880.1ZM1894.7 2173.6H1909.3V2187.2H1894.7ZM1953.1 2160.1H1967.8V2173.6H1953.1ZM2040.8 2200.7H2055.5V2214.2H2040.8ZM2055.5 2254.8H2070.1V2268.3H2055.5ZM2055.5 2187.2H2070.1V2214.2H2055.5ZM2070.1 2254.8H2084.7V2268.3H2070.1ZM2084.7 2254.8H2099.3V2268.3H2084.7ZM2084.7 2133.1H2099.3V2146.6H2084.7ZM2143.1 2254.8H2157.8V2268.3H2143.1ZM2157.8 2268.3H2172.4V2281.8H2157.8ZM2172.4 2268.3H2187V2281.8H2172.4ZM2187 2268.3H2201.6V2281.8H2187ZM2201.6 2268.3H2216.2V2281.8H2201.6ZM2201.6 2133.1H2216.2V2146.6H2201.6ZM2216.2 2268.3H2230.8V2281.8H2216.2ZM2230.8 2268.3H2245.5V2281.8H2230.8ZM2260.1 2268.3H2274.7V2281.8H2260.1ZM2260.1 2119.6H2274.7V2133.1H2260.1ZM2274.7 2268.3H2289.3V2281.8H2274.7ZM2289.3 2268.3H2303.9V2281.8H2289.3ZM2303.9 2268.3H2318.5V2281.8H2303.9ZM2347.8 2268.3H2362.4V2281.8H2347.8ZM2362.4 2268.3H2377V2281.8H2362.4ZM2362.4 2173.6H2377V2187.2H2362.4ZM2391.6 2106H2406.2V2119.6H2391.6ZM2406.2 2106H2420.9V2119.6H2406.2ZM2450.1 2254.8H2464.7V2268.3H2450.1ZM2464.7 2254.8H2479.3V2281.8H2464.7ZM2479.3 2254.8H2493.9V2268.3H2479.3ZM2493.9 2254.8H2508.6V2268.3H2493.9ZM2493.9 2200.7H2508.6V2214.2H2493.9ZM2508.6 2241.2H2523.2V2268.3H2508.6ZM2508.6 2119.6H2523.2V2133.1H2508.6ZM2537.8 2200.7H2552.4V2227.7H2537.8ZM2552.4 2241.2H2567V2281.8H2552.4ZM2552.4 2187.2H2567V2214.2H2552.4ZM2669.3 2092.5H2683.9V2106H2669.3ZM2757 2268.3H2771.6V2281.8H2757ZM2771.6 2268.3H2786.3V2281.8H2771.6ZM2786.3 2254.8H2800.9V2281.8H2786.3ZM2800.9 2133.1H2815.5V2160.1H2800.9ZM2815.5 2254.8H2830.1V2268.3H2815.5ZM2815.5 2106H2830.1V2119.6H2815.5ZM2888.6 2092.5H2903.2V2106H2888.6ZM2903.2 2268.3H2917.8V2281.8H2903.2ZM2917.8 2268.3H2932.4V2281.8H2917.8ZM2961.7 2119.6H2976.3V2133.1H2961.7ZM2976.3 2268.3H2990.9V2281.8H2976.3ZM2990.9 2268.3H3005.5V2281.8H2990.9ZM2990.9 2187.2H3005.5V2227.7H2990.9ZM3005.5 2160.1H3012V2173.6H3005.5Z"/>
<path fill="#0040FF" d="M476.9 2241.2H491.5V2254.8H476.9ZM535.4 2254.8H550V2268.3H535.4ZM550 2173.6H564.6V2187.2H550ZM564.6 2173.6H579.2V2187.2H564.6ZM608.5 2160.1H623.1V2173.6H608.5ZM637.7 2160.1H652.3V2173.6H637.7ZM666.9 2200.7H681.5V2214.2H666.9ZM783.9 2133.1H798.5V2146.6H783.9ZM798.5 2254.8H813.1V2268.3H798.5ZM798.5 2133.1H813.1V2146.6H798.5ZM813.1 2241.2H827.7V2254.8H813.1ZM856.9 2187.2H871.5V2214.2H856.9ZM1017.7 2241.2H1032.3V2254.8H1017.7ZM1032.3 2214.2H1046.9V2227.7H1032.3ZM1046.9 2241.2H1061.6V2268.3H1046.9ZM1061.6 2227.7H1076.2V2268.3H1061.6ZM1061.6 2160.1H1076.2V2173.6H1061.6ZM1076.2 2254.8H1090.8V2268.3H1076.2ZM1076.2 2227.7H1090.8V2241.2H1076.2ZM1149.3 2241.2H1163.9V2268.3H1149.3ZM1149.3 2160.1H1163.9V2173.6H1149.3ZM1178.5 2227.7H1193.1V2241.2H1178.5ZM1558.5 2214.2H1573.1V2227.7H1558.5ZM1573.1 2200.7H1587.7V2214.2H1573.1ZM1587.7 2160.1H1602.4V2173.6H1587.7ZM1631.6 2227.7H1646.2V2254.8H1631.6ZM1690.1 2254.8H1704.7V2268.3H1690.1ZM1704.7 2214.2H1719.3V2227.7H1704.7ZM1763.1 2268.3H1777.7V2281.8H1763.1ZM1763.1 2227.7H1777.7V2254.8H1763.1ZM1777.7 2268.3H1792.4V2281.8H1777.7ZM1777.7 2241.2H1792.4V2254.8H1777.7ZM1792.4 2268.3H1807V2281.8H1792.4ZM1807 2268.3H1821.6V2281.8H1807ZM1865.4 2254.8H1880.1V2268.3H1865.4ZM1894.7 2268.3H1909.3V2281.8H1894.7ZM1909.3 2268.3H1923.9V2281.8H1909.3ZM1923.9 2268.3H1938.5V2281.8H1923.9ZM1982.4 2268.3H1997V2281.8H1982.4ZM1997 2254.8H2011.6V2268.3H1997ZM2011.6 2254.8H2026.2V2268.3H2011.6ZM2026.2 2200.7H2040.8V2214.2H2026.2ZM2055.5 2146.6H2070.1V2160.1H2055.5ZM2099.3 2268.3H2113.9V2281.8H2099.3ZM2099.3 2133.1H2113.9V2146.6H2099.3ZM2143.1 2241.2H2157.8V2254.8H2143.1ZM2318.5 2268.3H2333.2V2281.8H2318.5ZM2362.4 2254.8H2377V2268.3H2362.4ZM2362.4 2187.2H2377V2200.7H2362.4ZM2362.4 2160.1H2377V2173.6H2362.4ZM2377 2254.8H2391.6V2281.8H2377ZM2420.9 2160.1H2435.5V2187.2H2420.9ZM2420.9 2119.6H2435.5V2133.1H2420.9ZM2464.7 2227.7H2479.3V2241.2H2464.7ZM2479.3 2241.2H2493.9V2254.8H2479.3ZM2493.9 2268.3H2508.6V2281.8H2493.9ZM2493.9 2241.2H2508.6V2254.8H2493.9ZM2508.6 2227.7H2523.2V2241.2H2508.6ZM2508.6 2200.7H2523.2V2214.2H2508.6ZM2523.2 2200.7H2537.8V2214.2H2523.2ZM2537.8 2187.2H2552.4V2200.7H2537.8ZM2552.4 2227.7H2567V2241.2H2552.4ZM2830.1 2254.8H2844.7V2268.3H2830.1ZM2844.7 2254.8H2859.3V2268.3H2844.7ZM2874 2268.3H2888.6V2281.8H2874ZM2932.4 2133.1H2947V2146.6H2932.4ZM2947 2133.1H2961.7V2146.6H2947ZM2961.7 2146.6H2976.3V2173.6H2961.7ZM2976.3 2146.6H2990.9V2173.6H2976.3ZM2990.9 2160.1H3005.5V2173.6H2990.9ZM3005.5 2146.6H3012V2160.1H3005.5Z"/>
<path fill="#0050FF" d="M1558.5 2254.8H1573.1V2268.3H1558.5ZM1587.7 2146.6H1602.4V2160.1H1587.7Z"/>
<path fill="#0060FF" d="M476.9 2214.2H491.5V2241.2H476.9ZM491.5 2187.2H506.1V2214.2H491.5ZM506.1 2214.2H520.8V2227.7H506.1ZM520.8 2187.2H535.4V2214.2H520.8ZM564.6 2160.1H579.2V2173.6H564.6ZM579.2 2173.6H593.8V2187.2H579.2ZM593.8 2187.2H608.5V2214.2H593.8ZM593.8 2160.1H608.5V2173.6H593.8ZM608.5 2187.2H623.1V2200.7H608.5ZM623.1 2173.6H637.7V2187.2H623.1ZM637.7 2173.6H652.3V2187.2H637.7ZM666.9 2187.2H681.5V2200.7H666.9ZM666.9 2160.1H681.5V2173.6H666.9ZM681.5 2214.2H696.2V2268.3H681.5ZM725.4 2254.8H740V2268.3H725.4ZM725.4 2146.6H740V2160.1H725.4ZM740 2227.7H754.6V2268.3H740ZM740 2146.6H754.6V2160.1H740ZM769.2 2187.2H783.9V2200.7H769.2ZM769.2 2146.6H783.9V2160.1H769.2ZM783.9 2241.2H798.5V2268.3H783.9ZM813.1 2200.7H827.7V2241.2H813.1ZM827.7 2254.8H842.3V2268.3H827.7ZM827.7 2187.2H842.3V2200.7H827.7ZM856.9 2160.1H871.5V2187.2H856.9ZM871.5 2227.7H886.2V2254.8H871.5ZM886.2 2187.2H900.8V2214.2H886.2ZM959.2 2173.6H973.9V2187.2H959.2ZM973.9 2160.1H988.5V2187.2H973.9ZM988.5 2160.1H1003.1V2187.2H988.5ZM1003.1 2241.2H1017.7V2254.8H1003.1ZM1017.7 2227.7H1032.3V2241.2H1017.7ZM1046.9 2173.6H1061.6V2187.2H1046.9ZM1061.6 2173.6H1076.2V2187.2H1061.6ZM1076.2 2241.2H1090.8V2254.8H1076.2ZM1178.5 2241.2H1193.1V2268.3H1178.5ZM1178.5 2160.1H1193.1V2173.6H1178.5ZM1748.5 2227.7H1763.1V2241.2H1748.5ZM1807 2200.7H1821.6V2214.2H1807ZM2333.2 2268.3H2347.8V2281.8H2333.2ZM2362.4 2133.1H2377V2146.6H2362.4ZM2420.9 2146.6H2435.5V2160.1H2420.9ZM2435.5 2268.3H2450.1V2281.8H2435.5ZM2435.5 2119.6H2450.1V2133.1H2435.5ZM2493.9 2187.2H2508.6V2200.7H2493.9ZM2508.6 2214.2H2523.2V2227.7H2508.6ZM2990.9 2173.6H3005.5V2187.2H2990.9Z"/>
<path fill="#0070FF" d="M535.4 2214.2H550V2227.7H535.4ZM608.5 2173.6H623.1V2187.2H608.5ZM666.9 2173.6H681.5V2187.2H666.9ZM681.5 2200.7H696.2V2214.2H681.5ZM696.2 2146.6H710.8V2160.1H696.2ZM710.8 2254.8H725.4V2268.3H710.8ZM725.4 2241.2H740V2254.8H725.4ZM740 2214.2H754.6V2227.7H740ZM783.9 2227.7H798.5V2241.2H783.9ZM798.5 2241.2H813.1V2254.8H798.5ZM813.1 2160.1H827.7V2173.6H813.1ZM827.7 2173.6H842.3V2187.2H827.7ZM871.5 2146.6H886.2V2160.1H871.5ZM886.2 2173.6H900.8V2187.2H886.2ZM1719.3 2254.8H1733.9V2268.3H1719.3ZM1719.3 2227.7H1733.9V2241.2H1719.3ZM1733.9 2254.8H1748.5V2268.3H1733.9ZM1733.9 2214.2H1748.5V2227.7H1733.9ZM1763.1 2214.2H1777.7V2227.7H1763.1ZM1792.4 2214.2H1807V2241.2H1792.4ZM1807 2227.7H1821.6V2241.2H1807ZM1821.6 2227.7H1836.2V2241.2H1821.6ZM1821.6 2200.7H1836.2V2214.2H1821.6ZM1836.2 2173.6H1850.8V2187.2H1836.2ZM1850.8 2254.8H1865.4V2268.3H1850.8ZM1880.1 2241.2H1894.7V2268.3H1880.1ZM1894.7 2187.2H1909.3V2200.7H1894.7ZM1938.5 2268.3H1953.1V2281.8H1938.5ZM1953.1 2268.3H1967.8V2281.8H1953.1ZM1967.8 2268.3H1982.4V2281.8H1967.8ZM1982.4 2214.2H1997V2227.7H1982.4ZM1997 2160.1H2011.6V2173.6H1997ZM2026.2 2254.8H2040.8V2268.3H2026.2ZM2026.2 2214.2H2040.8V2227.7H2026.2ZM2040.8 2254.8H2055.5V2268.3H2040.8ZM2040.8 2214.2H2055.5V2227.7H2040.8ZM2070.1 2133.1H2084.7V2146.6H2070.1ZM2099.3 2173.6H2113.9V2187.2H2099.3ZM2128.5 2119.6H2143.1V2133.1H2128.5ZM2143.1 2119.6H2157.8V2133.1H2143.1ZM2172.4 2133.1H2187V2173.6H2172.4ZM2187 2146.6H2201.6V2187.2H2187ZM2201.6 2173.6H2216.2V2187.2H2201.6ZM2274.7 2187.2H2289.3V2200.7H2274.7ZM2274.7 2106H2289.3V2119.6H2274.7ZM2289.3 2106H2303.9V2119.6H2289.3ZM2318.5 2106H2333.2V2119.6H2318.5ZM2406.2 2187.2H2420.9V2200.7H2406.2ZM2420.9 2187.2H2435.5V2200.7H2420.9ZM2450.1 2241.2H2464.7V2254.8H2450.1ZM2493.9 2214.2H2508.6V2241.2H2493.9ZM2508.6 2133.1H2523.2V2146.6H2508.6ZM2523.2 2241.2H2537.8V2268.3H2523.2ZM2523.2 2214.2H2537.8V2227.7H2523.2ZM2523.2 2187.2H2537.8V2200.7H2523.2ZM2537.8 2160.1H2552.4V2187.2H2537.8ZM2552.4 2173.6H2567V2187.2H2552.4ZM2567 2254.8H2581.6V2268.3H2567ZM2581.6 2241.2H2596.2V2268.3H2581.6ZM2683.9 2268.3H2698.6V2281.8H2683.9ZM2727.8 2079H2742.4V2092.5H2727.8ZM2800.9 2241.2H2815.5V2254.8H2800.9ZM2815.5 2241.2H2830.1V2254.8H2815.5ZM2859.3 2268.3H2874V2281.8H2859.3ZM2874 2146.6H2888.6V2173.6H2874ZM2888.6 2146.6H2903.2V2173.6H2888.6ZM2917.8 2160.1H2932.4V2187.2H2917.8ZM2917.8 2133.1H2932.4V2146.6H2917.8ZM2932.4 2241.2H2947V2254.8H2932.4ZM2932.4 2173.6H2947V2187.2H2932.4ZM2947 2173.6H2961.7V2187.2H2947ZM2961.7 2268.3H2976.3V2281.8H2961.7ZM2961.7 2227.7H2976.3V2241.2H2961.7ZM2961.7 2133.1H2976.3V2146.6H2961.7ZM2976.3 2214.2H2990.9V2268.3H2976.3ZM2976.3 2173.6H2990.9V2187.2H2976.3ZM2976.3 2119.6H2990.9V2133.1H2976.3ZM2990.9 2227.7H3005.5V2268.3H2990.9ZM3005.5 2227.7H3012V2254.8H3005.5ZM3005.5 2119.6H3012V2146.6H3005.5Z"/>
<path fill="#0080FF" d="M491.5 2214.2H506.1V2241.2H491.5ZM506.1 2160.1H520.8V2214.2H506.1ZM593.8 2173.6H608.5V2187.2H593.8ZM623.1 2200.7H637.7V2214.2H623.1ZM681.5 2160.1H696.2V2200.7H681.5ZM696.2 2241.2H710.8V2268.3H696.2ZM710.8 2241.2H725.4V2254.8H710.8ZM725.4 2227.7H740V2241.2H725.4ZM740 2160.1H754.6V2214.2H740ZM769.2 2173.6H783.9V2187.2H769.2ZM783.9 2214.2H798.5V2227.7H783.9ZM798.5 2227.7H813.1V2241.2H798.5ZM813.1 2173.6H827.7V2200.7H813.1ZM827.7 2268.3H842.3V2281.8H827.7ZM827.7 2133.1H842.3V2173.6H827.7ZM871.5 2200.7H886.2V2227.7H871.5ZM871.5 2160.1H886.2V2173.6H871.5ZM886.2 2160.1H900.8V2173.6H886.2ZM988.5 2268.3H1003.1V2281.8H988.5ZM1675.4 2241.2H1690.1V2254.8H1675.4ZM1821.6 2214.2H1836.2V2227.7H1821.6ZM2099.3 2241.2H2113.9V2254.8H2099.3ZM2172.4 2254.8H2187V2268.3H2172.4ZM2187 2254.8H2201.6V2268.3H2187ZM2201.6 2254.8H2216.2V2268.3H2201.6ZM2245.5 2254.8H2260.1V2268.3H2245.5ZM2245.5 2133.1H2260.1V2146.6H2245.5ZM2274.7 2254.8H2289.3V2268.3H2274.7ZM2347.8 2254.8H2362.4V2268.3H2347.8ZM2362.4 2146.6H2377V2160.1H2362.4ZM2406.2 2200.7H2420.9V2214.2H2406.2ZM2479.3 2227.7H2493.9V2241.2H2479.3ZM2552.4 2214.2H2567V2227.7H2552.4ZM2567 2268.3H2581.6V2281.8H2567ZM2830.1 2241.2H2844.7V2254.8H2830.1ZM2888.6 2227.7H2903.2V2241.2H2888.6ZM2976.3 2187.2H2990.9V2214.2H2976.3ZM2976.3 2133.1H2990.9V2146.6H2976.3Z"/>
<path fill="#008FFF" d="M696.2 2227.7H710.8V2241.2H696.2ZM710.8 2146.6H725.4V2160.1H710.8ZM725.4 2214.2H740V2227.7H725.4ZM769.2 2160.1H783.9V2173.6H769.2ZM798.5 2187.2H813.1V2227.7H798.5ZM871.5 2173.6H886.2V2187.2H871.5ZM1704.7 2241.2H1719.3V2254.8H1704.7ZM1733.9 2227.7H1748.5V2254.8H1733.9ZM1763.1 2254.8H1777.7V2268.3H1763.1ZM1777.7 2254.8H1792.4V2268.3H1777.7ZM1777.7 2214.2H1792.4V2227.7H1777.7ZM1792.4 2241.2H1807V2268.3H1792.4ZM1807 2241.2H1821.6V2268.3H1807ZM1807 2214.2H1821.6V2227.7H1807ZM1836.2 2254.8H1850.8V2268.3H1836.2ZM1850.8 2241.2H1865.4V2254.8H1850.8ZM1850.8 2187.2H1865.4V2200.7H1850.8ZM1865.4 2241.2H1880.1V2254.8H1865.4ZM1880.1 2214.2H1894.7V2241.2H1880.1ZM1880.1 2187.2H1894.7V2200.7H1880.1ZM1894.7 2200.7H1909.3V2268.3H1894.7ZM1909.3 2254.8H1923.9V2268.3H1909.3ZM1909.3 2173.6H1923.9V2187.2H1909.3ZM1982.4 2254.8H1997V2268.3H1982.4ZM1982.4 2200.7H1997V2214.2H1982.4ZM2011.6 2241.2H2026.2V2254.8H2011.6ZM2026.2 2241.2H2040.8V2254.8H2026.2ZM2026.2 2187.2H2040.8V2200.7H2026.2ZM2040.8 2187.2H2055.5V2200.7H2040.8ZM2070.1 2241.2H2084.7V2254.8H2070.1ZM2084.7 2241.2H2099.3V2254.8H2084.7ZM2128.5 2227.7H2143.1V2241.2H2128.5ZM2157.8 2133.1H2172.4V2146.6H2157.8ZM2187 2133.1H2201.6V2146.6H2187ZM2201.6 2160.1H2216.2V2173.6H2201.6ZM2216.2 2254.8H2230.8V2268.3H2216.2ZM2230.8 2254.8H2245.5V2268.3H2230.8ZM2230.8 2187.2H2245.5V2200.7H2230.8ZM2230.8 2133.1H2245.5V2146.6H2230.8ZM2260.1 2254.8H2274.7V2268.3H2260.1ZM2274.7 2200.7H2289.3V2214.2H2274.7ZM2274.7 2173.6H2289.3V2187.2H2274.7ZM2289.3 2254.8H2303.9V2268.3H2289.3ZM2303.9 2254.8H2318.5V2268.3H2303.9ZM2303.9 2106H2318.5V2119.6H2303.9ZM2318.5 2254.8H2333.2V2268.3H2318.5ZM2333.2 2254.8H2347.8V2268.3H2333.2ZM2333.2 2106H2347.8V2119.6H2333.2ZM2347.8 2160.1H2362.4V2187.2H2347.8ZM2377 2241.2H2391.6V2254.8H2377ZM2406.2 2173.6H2420.9V2187.2H2406.2ZM2420.9 2133.1H2435.5V2146.6H2420.9ZM2479.3 2200.7H2493.9V2214.2H2479.3ZM2523.2 2227.7H2537.8V2241.2H2523.2ZM2552.4 2160.1H2567V2173.6H2552.4ZM2567 2241.2H2581.6V2254.8H2567ZM2567 2146.6H2581.6V2160.1H2567ZM2581.6 2227.7H2596.2V2241.2H2581.6ZM2596.2 2268.3H2610.9V2281.8H2596.2ZM2654.7 2268.3H2669.3V2281.8H2654.7ZM2698.6 2268.3H2713.2V2281.8H2698.6ZM2713.2 2268.3H2727.8V2281.8H2713.2ZM2713.2 2106H2727.8V2119.6H2713.2ZM2757 2106H2771.6V2119.6H2757ZM2771.6 2254.8H2786.3V2268.3H2771.6ZM2771.6 2106H2786.3V2119.6H2771.6ZM2786.3 2241.2H2800.9V2254.8H2786.3ZM2786.3 2106H2800.9V2119.6H2786.3ZM2800.9 2254.8H2815.5V2281.8H2800.9ZM2844.7 2241.2H2859.3V2254.8H2844.7ZM2859.3 2160.1H2874V2173.6H2859.3ZM2874 2241.2H2888.6V2254.8H2874ZM2874 2133.1H2888.6V2146.6H2874ZM2888.6 2133.1H2903.2V2146.6H2888.6ZM2903.2 2133.1H2917.8V2146.6H2903.2ZM2932.4 2106H2947V2119.6H2932.4ZM2947 2227.7H2961.7V2241.2H2947ZM2947 2119.6H2961.7V2133.1H2947Z"/>
<path fill="#009FFF" d="M1836.2 2187.2H1850.8V2254.8H1836.2ZM1850.8 2200.7H1865.4V2241.2H1850.8ZM1865.4 2227.7H1880.1V2241.2H1865.4ZM1865.4 2187.2H1880.1V2214.2H1865.4ZM1909.3 2200.7H1923.9V2214.2H1909.3ZM1923.9 2254.8H1938.5V2268.3H1923.9ZM1938.5 2146.6H1953.1V2160.1H1938.5ZM1953.1 2241.2H1967.8V2254.8H1953.1ZM1967.8 2227.7H1982.4V2241.2H1967.8ZM1967.8 2160.1H1982.4V2173.6H1967.8ZM1997 2241.2H2011.6V2254.8H1997ZM1997 2173.6H2011.6V2187.2H1997ZM2011.6 2214.2H2026.2V2241.2H2011.6ZM2011.6 2160.1H2026.2V2173.6H2011.6ZM2026.2 2227.7H2040.8V2241.2H2026.2ZM2026.2 2146.6H2040.8V2160.1H2026.2ZM2055.5 2241.2H2070.1V2254.8H2055.5ZM2055.5 2214.2H2070.1V2227.7H2055.5ZM2055.5 2173.6H2070.1V2187.2H2055.5ZM2084.7 2173.6H2099.3V2200.7H2084.7ZM2099.3 2187.2H2113.9V2200.7H2099.3ZM2143.1 2227.7H2157.8V2241.2H2143.1ZM2143.1 2173.6H2157.8V2187.2H2143.1ZM2157.8 2146.6H2172.4V2160.1H2157.8ZM2172.4 2173.6H2187V2187.2H2172.4ZM2201.6 2187.2H2216.2V2200.7H2201.6ZM2201.6 2146.6H2216.2V2160.1H2201.6ZM2216.2 2146.6H2230.8V2160.1H2216.2ZM2362.4 2241.2H2377V2254.8H2362.4ZM2377 2119.6H2391.6V2133.1H2377ZM2391.6 2254.8H2406.2V2268.3H2391.6ZM2406.2 2214.2H2420.9V2227.7H2406.2ZM2435.5 2254.8H2450.1V2268.3H2435.5ZM2464.7 2214.2H2479.3V2227.7H2464.7ZM2479.3 2214.2H2493.9V2227.7H2479.3ZM2493.9 2173.6H2508.6V2187.2H2493.9ZM2493.9 2119.6H2508.6V2133.1H2493.9ZM2508.6 2187.2H2523.2V2200.7H2508.6ZM2508.6 2146.6H2523.2V2160.1H2508.6ZM2523.2 2268.3H2537.8V2281.8H2523.2ZM2537.8 2146.6H2552.4V2160.1H2537.8ZM2552.4 2146.6H2567V2160.1H2552.4ZM2552.4 2106H2567V2119.6H2552.4ZM2567 2227.7H2581.6V2241.2H2567ZM2567 2160.1H2581.6V2173.6H2567ZM2567 2119.6H2581.6V2133.1H2567ZM2581.6 2146.6H2596.2V2160.1H2581.6ZM2596.2 2254.8H2610.9V2268.3H2596.2ZM2640.1 2106H2654.7V2119.6H2640.1ZM2727.8 2268.3H2742.4V2281.8H2727.8ZM2742.4 2268.3H2757V2281.8H2742.4ZM2757 2254.8H2771.6V2268.3H2757ZM2771.6 2241.2H2786.3V2254.8H2771.6ZM2815.5 2227.7H2830.1V2241.2H2815.5ZM2859.3 2173.6H2874V2187.2H2859.3ZM2874 2173.6H2888.6V2187.2H2874ZM2874 2106H2888.6V2119.6H2874ZM2888.6 2173.6H2903.2V2187.2H2888.6ZM2903.2 2227.7H2917.8V2254.8H2903.2ZM2903.2 2146.6H2917.8V2160.1H2903.2ZM2917.8 2106H2932.4V2133.1H2917.8ZM2932.4 2268.3H2947V2281.8H2932.4ZM2932.4 2227.7H2947V2241.2H2932.4ZM2932.4 2119.6H2947V2133.1H2932.4ZM2961.7 2254.8H2976.3V2268.3H2961.7ZM2961.7 2173.6H2976.3V2187.2H2961.7ZM3005.5 2187.2H3012V2214.2H3005.5Z"/>
<path fill="#00AFFF" d="M696.2 2200.7H710.8V2214.2H696.2ZM696.2 2160.1H710.8V2173.6H696.2ZM710.8 2227.7H725.4V2241.2H710.8ZM710.8 2160.1H725.4V2173.6H710.8ZM725.4 2160.1H740V2214.2H725.4ZM783.9 2146.6H798.5V2214.2H783.9ZM798.5 2146.6H813.1V2187.2H798.5ZM871.5 2187.2H886.2V2200.7H871.5ZM1821.6 2241.2H1836.2V2254.8H1821.6ZM1865.4 2214.2H1880.1V2227.7H1865.4ZM1880.1 2200.7H1894.7V2214.2H1880.1ZM1909.3 2214.2H1923.9V2254.8H1909.3ZM1909.3 2187.2H1923.9V2200.7H1909.3ZM1923.9 2241.2H1938.5V2254.8H1923.9ZM1923.9 2160.1H1938.5V2173.6H1923.9ZM1938.5 2254.8H1953.1V2268.3H1938.5ZM1953.1 2254.8H1967.8V2268.3H1953.1ZM1953.1 2214.2H1967.8V2241.2H1953.1ZM1967.8 2241.2H1982.4V2268.3H1967.8ZM1967.8 2173.6H1982.4V2227.7H1967.8ZM1982.4 2227.7H1997V2254.8H1982.4ZM1982.4 2173.6H1997V2200.7H1982.4ZM1997 2200.7H2011.6V2214.2H1997ZM2011.6 2200.7H2026.2V2214.2H2011.6ZM2040.8 2146.6H2055.5V2160.1H2040.8ZM2055.5 2160.1H2070.1V2173.6H2055.5ZM2084.7 2227.7H2099.3V2241.2H2084.7ZM2084.7 2200.7H2099.3V2214.2H2084.7ZM2099.3 2200.7H2113.9V2214.2H2099.3ZM2113.9 2241.2H2128.5V2268.3H2113.9ZM2128.5 2173.6H2143.1V2227.7H2128.5ZM2143.1 2187.2H2157.8V2227.7H2143.1ZM2157.8 2241.2H2172.4V2254.8H2157.8ZM2157.8 2160.1H2172.4V2173.6H2157.8ZM2230.8 2200.7H2245.5V2214.2H2230.8ZM2245.5 2241.2H2260.1V2254.8H2245.5ZM2245.5 2214.2H2260.1V2227.7H2245.5ZM2260.1 2173.6H2274.7V2214.2H2260.1ZM2274.7 2241.2H2289.3V2254.8H2274.7ZM2274.7 2160.1H2289.3V2173.6H2274.7ZM2347.8 2241.2H2362.4V2254.8H2347.8ZM2391.6 2268.3H2406.2V2281.8H2391.6ZM2391.6 2241.2H2406.2V2254.8H2391.6ZM2406.2 2268.3H2420.9V2281.8H2406.2ZM2406.2 2227.7H2420.9V2241.2H2406.2ZM2420.9 2268.3H2435.5V2281.8H2420.9ZM2420.9 2200.7H2435.5V2214.2H2420.9ZM2450.1 2227.7H2464.7V2241.2H2450.1ZM2508.6 2160.1H2523.2V2187.2H2508.6ZM2523.2 2173.6H2537.8V2187.2H2523.2ZM2567 2133.1H2581.6V2146.6H2567ZM2581.6 2119.6H2596.2V2133.1H2581.6ZM2596.2 2106H2610.9V2119.6H2596.2ZM2610.9 2268.3H2625.5V2281.8H2610.9ZM2625.5 2106H2640.1V2119.6H2625.5ZM2654.7 2119.6H2669.3V2133.1H2654.7ZM2698.6 2092.5H2713.2V2106H2698.6ZM2771.6 2187.2H2786.3V2200.7H2771.6ZM2771.6 2119.6H2786.3V2133.1H2771.6ZM2800.9 2227.7H2815.5V2241.2H2800.9ZM2800.9 2160.1H2815.5V2173.6H2800.9ZM2830.1 2227.7H2844.7V2241.2H2830.1ZM2844.7 2173.6H2859.3V2187.2H2844.7ZM2859.3 2146.6H2874V2160.1H2859.3ZM2859.3 2106H2874V2119.6H2859.3ZM2874 2119.6H2888.6V2133.1H2874ZM2888.6 2268.3H2903.2V2281.8H2888.6ZM2903.2 2254.8H2917.8V2268.3H2903.2ZM2903.2 2173.6H2917.8V2200.7H2903.2ZM2917.8 2227.7H2932.4V2268.3H2917.8ZM2917.8 2187.2H2932.4V2200.7H2917.8ZM2947 2187.2H2961.7V2200.7H2947Z"/>
<path fill="#00BFFF" d="M1719.3 2241.2H1733.9V2254.8H1719.3ZM1923.9 2173.6H1938.5V2187.2H1923.9ZM1953.1 2173.6H1967.8V2214.2H1953.1ZM1997 2187.2H2011.6V2200.7H1997ZM2011.6 2173.6H2026.2V2200.7H2011.6ZM2026.2 2173.6H2040.8V2187.2H2026.2ZM2040.8 2173.6H2055.5V2187.2H2040.8ZM2070.1 2160.1H2084.7V2187.2H2070.1ZM2084.7 2214.2H2099.3V2227.7H2084.7ZM2084.7 2160.1H2099.3V2173.6H2084.7ZM2099.3 2214.2H2113.9V2241.2H2099.3ZM2099.3 2146.6H2113.9V2173.6H2099.3ZM2113.9 2227.7H2128.5V2241.2H2113.9ZM2113.9 2200.7H2128.5V2214.2H2113.9ZM2143.1 2160.1H2157.8V2173.6H2143.1ZM2187 2241.2H2201.6V2254.8H2187ZM2201.6 2241.2H2216.2V2254.8H2201.6ZM2201.6 2200.7H2216.2V2214.2H2201.6ZM2216.2 2173.6H2230.8V2214.2H2216.2ZM2230.8 2214.2H2245.5V2227.7H2230.8ZM2230.8 2160.1H2245.5V2187.2H2230.8ZM2245.5 2227.7H2260.1V2241.2H2245.5ZM2245.5 2200.7H2260.1V2214.2H2245.5ZM2260.1 2214.2H2274.7V2254.8H2260.1ZM2260.1 2133.1H2274.7V2146.6H2260.1ZM2274.7 2214.2H2289.3V2227.7H2274.7ZM2289.3 2241.2H2303.9V2254.8H2289.3ZM2318.5 2214.2H2333.2V2227.7H2318.5ZM2333.2 2187.2H2347.8V2200.7H2333.2ZM2347.8 2119.6H2362.4V2133.1H2347.8ZM2362.4 2200.7H2377V2214.2H2362.4ZM2377 2227.7H2391.6V2241.2H2377ZM2391.6 2214.2H2406.2V2241.2H2391.6ZM2406.2 2241.2H2420.9V2268.3H2406.2ZM2406.2 2160.1H2420.9V2173.6H2406.2ZM2464.7 2200.7H2479.3V2214.2H2464.7ZM2479.3 2187.2H2493.9V2200.7H2479.3ZM2493.9 2160.1H2508.6V2173.6H2493.9ZM2552.4 2119.6H2567V2146.6H2552.4ZM2567 2173.6H2581.6V2187.2H2567ZM2581.6 2133.1H2596.2V2146.6H2581.6ZM2596.2 2241.2H2610.9V2254.8H2596.2ZM2610.9 2146.6H2625.5V2173.6H2610.9ZM2683.9 2254.8H2698.6V2268.3H2683.9ZM2683.9 2106H2698.6V2119.6H2683.9ZM2698.6 2254.8H2713.2V2268.3H2698.6ZM2727.8 2254.8H2742.4V2268.3H2727.8ZM2742.4 2254.8H2757V2268.3H2742.4ZM2757 2241.2H2771.6V2254.8H2757ZM2771.6 2200.7H2786.3V2214.2H2771.6ZM2786.3 2227.7H2800.9V2241.2H2786.3ZM2786.3 2146.6H2800.9V2160.1H2786.3ZM2815.5 2214.2H2830.1V2227.7H2815.5ZM2830.1 2187.2H2844.7V2200.7H2830.1ZM2844.7 2227.7H2859.3V2241.2H2844.7ZM2844.7 2187.2H2859.3V2200.7H2844.7ZM2859.3 2227.7H2874V2254.8H2859.3ZM2859.3 2187.2H2874V2200.7H2859.3ZM2859.3 2133.1H2874V2146.6H2859.3ZM2874 2227.7H2888.6V2241.2H2874ZM2888.6 2214.2H2903.2V2227.7H2888.6ZM2903.2 2200.7H2917.8V2227.7H2903.2ZM2903.2 2106H2917.8V2119.6H2903.2ZM2917.8 2200.7H2932.4V2227.7H2917.8ZM2932.4 2214.2H2947V2227.7H2932.4ZM2932.4 2187.2H2947V2200.7H2932.4ZM2961.7 2241.2H2976.3V2254.8H2961.7ZM2961.7 2214.2H2976.3V2227.7H2961.7Z"/>
<path fill="#00CFFF" d="M696.2 2214.2H710.8V2227.7H696.2ZM696.2 2173.6H710.8V2200.7H696.2ZM710.8 2173.6H725.4V2227.7H710.8ZM1923.9 2227.7H1938.5V2241.2H1923.9ZM1923.9 2187.2H1938.5V2200.7H1923.9ZM1938.5 2214.2H1953.1V2254.8H1938.5ZM1938.5 2173.6H1953.1V2187.2H1938.5ZM1997 2214.2H2011.6V2241.2H1997ZM2026.2 2160.1H2040.8V2173.6H2026.2ZM2040.8 2227.7H2055.5V2254.8H2040.8ZM2040.8 2160.1H2055.5V2173.6H2040.8ZM2055.5 2227.7H2070.1V2241.2H2055.5ZM2070.1 2187.2H2084.7V2241.2H2070.1ZM2070.1 2146.6H2084.7V2160.1H2070.1ZM2084.7 2146.6H2099.3V2160.1H2084.7ZM2113.9 2214.2H2128.5V2227.7H2113.9ZM2113.9 2160.1H2128.5V2200.7H2113.9ZM2113.9 2133.1H2128.5V2146.6H2113.9ZM2128.5 2160.1H2143.1V2173.6H2128.5ZM2157.8 2173.6H2172.4V2241.2H2157.8ZM2172.4 2241.2H2187V2254.8H2172.4ZM2172.4 2187.2H2187V2214.2H2172.4ZM2187 2187.2H2201.6V2214.2H2187ZM2201.6 2227.7H2216.2V2241.2H2201.6ZM2216.2 2241.2H2230.8V2254.8H2216.2ZM2216.2 2214.2H2230.8V2227.7H2216.2ZM2216.2 2160.1H2230.8V2173.6H2216.2ZM2230.8 2227.7H2245.5V2254.8H2230.8ZM2230.8 2146.6H2245.5V2160.1H2230.8ZM2245.5 2146.6H2260.1V2200.7H2245.5ZM2260.1 2146.6H2274.7V2173.6H2260.1ZM2274.7 2133.1H2289.3V2160.1H2274.7ZM2303.9 2241.2H2318.5V2254.8H2303.9ZM2303.9 2173.6H2318.5V2200.7H2303.9ZM2318.5 2227.7H2333.2V2254.8H2318.5ZM2318.5 2160.1H2333.2V2214.2H2318.5ZM2333.2 2200.7H2347.8V2254.8H2333.2ZM2333.2 2160.1H2347.8V2187.2H2333.2ZM2347.8 2187.2H2362.4V2227.7H2347.8ZM2347.8 2146.6H2362.4V2160.1H2347.8ZM2362.4 2214.2H2377V2241.2H2362.4ZM2377 2214.2H2391.6V2227.7H2377ZM2377 2160.1H2391.6V2173.6H2377ZM2391.6 2173.6H2406.2V2214.2H2391.6ZM2420.9 2254.8H2435.5V2268.3H2420.9ZM2435.5 2227.7H2450.1V2254.8H2435.5ZM2435.5 2133.1H2450.1V2146.6H2435.5ZM2450.1 2214.2H2464.7V2227.7H2450.1ZM2464.7 2187.2H2479.3V2200.7H2464.7ZM2479.3 2173.6H2493.9V2187.2H2479.3ZM2493.9 2146.6H2508.6V2160.1H2493.9ZM2523.2 2146.6H2537.8V2173.6H2523.2ZM2523.2 2106H2537.8V2119.6H2523.2ZM2537.8 2133.1H2552.4V2146.6H2537.8ZM2537.8 2106H2552.4V2119.6H2537.8ZM2567 2187.2H2581.6V2227.7H2567ZM2581.6 2268.3H2596.2V2281.8H2581.6ZM2581.6 2200.7H2596.2V2227.7H2581.6ZM2581.6 2160.1H2596.2V2187.2H2581.6ZM2596.2 2146.6H2610.9V2241.2H2596.2ZM2610.9 2106H2625.5V2146.6H2610.9ZM2625.5 2268.3H2640.1V2281.8H2625.5ZM2625.5 2119.6H2640.1V2133.1H2625.5ZM2640.1 2241.2H2654.7V2268.3H2640.1ZM2654.7 2254.8H2669.3V2268.3H2654.7ZM2669.3 2106H2683.9V2119.6H2669.3ZM2713.2 2241.2H2727.8V2268.3H2713.2ZM2757 2227.7H2771.6V2241.2H2757ZM2771.6 2227.7H2786.3V2241.2H2771.6ZM2771.6 2160.1H2786.3V2187.2H2771.6ZM2771.6 2133.1H2786.3V2146.6H2771.6ZM2786.3 2200.7H2800.9V2214.2H2786.3ZM2786.3 2160.1H2800.9V2173.6H2786.3ZM2800.9 2173.6H2815.5V2227.7H2800.9ZM2815.5 2200.7H2830.1V2214.2H2815.5ZM2830.1 2200.7H2844.7V2227.7H2830.1ZM2830.1 2173.6H2844.7V2187.2H2830.1ZM2844.7 2200.7H2859.3V2227.7H2844.7ZM2844.7 2160.1H2859.3V2173.6H2844.7ZM2844.7 2106H2859.3V2119.6H2844.7ZM2859.3 2254.8H2874V2268.3H2859.3ZM2859.3 2200.7H2874V2227.7H2859.3ZM2859.3 2119.6H2874V2133.1H2859.3ZM2874 2214.2H2888.6V2227.7H2874ZM2874 2187.2H2888.6V2200.7H2874ZM2888.6 2187.2H2903.2V2200.7H2888.6ZM2888.6 2106H2903.2V2133.1H2888.6ZM2903.2 2160.1H2917.8V2173.6H2903.2ZM2903.2 2119.6H2917.8V2133.1H2903.2ZM2932.4 2200.7H2947V2214.2H2932.4ZM2947 2200.7H2961.7V2227.7H2947ZM2961.7 2187.2H2976.3V2214.2H2961.7ZM3005.5 2254.8H3012V2268.3H3005.5ZM3005.5 2214.2H3012V2227.7H3005.5Z"/>
<path fill="#00DFFF" d="M1923.9 2200.7H1938.5V2227.7H1923.9ZM1938.5 2187.2H1953.1V2214.2H1938.5ZM2113.9 2146.6H2128.5V2160.1H2113.9ZM2128.5 2146.6H2143.1V2160.1H2128.5ZM2143.1 2133.1H2157.8V2160.1H2143.1ZM2172.4 2214.2H2187V2241.2H2172.4ZM2187 2214.2H2201.6V2241.2H2187ZM2201.6 2214.2H2216.2V2227.7H2201.6ZM2216.2 2227.7H2230.8V2241.2H2216.2ZM2274.7 2227.7H2289.3V2241.2H2274.7ZM2274.7 2119.6H2289.3V2133.1H2274.7ZM2289.3 2119.6H2303.9V2133.1H2289.3ZM2303.9 2200.7H2318.5V2241.2H2303.9ZM2318.5 2146.6H2333.2V2160.1H2318.5ZM2333.2 2146.6H2347.8V2160.1H2333.2ZM2347.8 2133.1H2362.4V2146.6H2347.8ZM2377 2173.6H2391.6V2214.2H2377ZM2391.6 2160.1H2406.2V2173.6H2391.6ZM2406.2 2146.6H2420.9V2160.1H2406.2ZM2435.5 2146.6H2450.1V2160.1H2435.5ZM2450.1 2200.7H2464.7V2214.2H2450.1ZM2464.7 2173.6H2479.3V2187.2H2464.7ZM2479.3 2160.1H2493.9V2173.6H2479.3ZM2493.9 2133.1H2508.6V2146.6H2493.9ZM2523.2 2133.1H2537.8V2146.6H2523.2ZM2537.8 2119.6H2552.4V2133.1H2537.8ZM2581.6 2187.2H2596.2V2200.7H2581.6ZM2596.2 2119.6H2610.9V2146.6H2596.2ZM2610.9 2173.6H2625.5V2187.2H2610.9ZM2625.5 2133.1H2640.1V2146.6H2625.5ZM2640.1 2214.2H2654.7V2241.2H2640.1ZM2654.7 2146.6H2669.3V2173.6H2654.7ZM2698.6 2241.2H2713.2V2254.8H2698.6ZM2757 2200.7H2771.6V2227.7H2757ZM2771.6 2214.2H2786.3V2227.7H2771.6ZM2771.6 2146.6H2786.3V2160.1H2771.6ZM2786.3 2214.2H2800.9V2227.7H2786.3ZM2786.3 2173.6H2800.9V2200.7H2786.3ZM2786.3 2119.6H2800.9V2146.6H2786.3ZM2815.5 2187.2H2830.1V2200.7H2815.5ZM2815.5 2119.6H2830.1V2133.1H2815.5ZM2830.1 2160.1H2844.7V2173.6H2830.1ZM2830.1 2106H2844.7V2119.6H2830.1ZM2874 2200.7H2888.6V2214.2H2874ZM2888.6 2200.7H2903.2V2214.2H2888.6Z"/>
<path fill="#00EFFF" d="M842.3 2268.3H856.9V2281.8H842.3ZM2128.5 2133.1H2143.1V2146.6H2128.5ZM2289.3 2227.7H2303.9V2241.2H2289.3ZM2289.3 2133.1H2303.9V2146.6H2289.3ZM2303.9 2160.1H2318.5V2173.6H2303.9ZM2318.5 2119.6H2333.2V2146.6H2318.5ZM2333.2 2133.1H2347.8V2146.6H2333.2ZM2347.8 2227.7H2362.4V2241.2H2347.8ZM2391.6 2146.6H2406.2V2160.1H2391.6ZM2391.6 2119.6H2406.2V2133.1H2391.6ZM2406.2 2119.6H2420.9V2146.6H2406.2ZM2450.1 2187.2H2464.7V2200.7H2450.1ZM2450.1 2119.6H2464.7V2133.1H2450.1ZM2464.7 2160.1H2479.3V2173.6H2464.7ZM2464.7 2119.6H2479.3V2133.1H2464.7ZM2479.3 2146.6H2493.9V2160.1H2479.3ZM2479.3 2119.6H2493.9V2133.1H2479.3ZM2523.2 2119.6H2537.8V2133.1H2523.2ZM2640.1 2200.7H2654.7V2214.2H2640.1ZM2654.7 2173.6H2669.3V2254.8H2654.7ZM2654.7 2133.1H2669.3V2146.6H2654.7ZM2669.3 2268.3H2683.9V2281.8H2669.3ZM2669.3 2133.1H2683.9V2173.6H2669.3ZM2830.1 2146.6H2844.7V2160.1H2830.1ZM2844.7 2146.6H2859.3V2160.1H2844.7ZM3005.5 2268.3H3012V2281.8H3005.5Z"/>
<path fill="#00FFFF" d="M1704.7 2254.8H1719.3V2268.3H1704.7ZM1938.5 2160.1H1953.1V2173.6H1938.5ZM2157.8 2254.8H2172.4V2268.3H2157.8ZM2289.3 2146.6H2303.9V2227.7H2289.3ZM2303.9 2146.6H2318.5V2160.1H2303.9ZM2333.2 2119.6H2347.8V2133.1H2333.2ZM2377 2133.1H2391.6V2160.1H2377ZM2391.6 2133.1H2406.2V2146.6H2391.6ZM2420.9 2241.2H2435.5V2254.8H2420.9ZM2420.9 2214.2H2435.5V2227.7H2420.9ZM2435.5 2200.7H2450.1V2227.7H2435.5ZM2435.5 2160.1H2450.1V2173.6H2435.5ZM2450.1 2173.6H2464.7V2187.2H2450.1ZM2464.7 2133.1H2479.3V2160.1H2464.7ZM2479.3 2133.1H2493.9V2146.6H2479.3ZM2610.9 2227.7H2625.5V2254.8H2610.9ZM2610.9 2187.2H2625.5V2214.2H2610.9ZM2625.5 2241.2H2640.1V2268.3H2625.5ZM2625.5 2146.6H2640.1V2160.1H2625.5ZM2640.1 2268.3H2654.7V2281.8H2640.1ZM2640.1 2187.2H2654.7V2200.7H2640.1ZM2640.1 2119.6H2654.7V2133.1H2640.1ZM2669.3 2173.6H2683.9V2268.3H2669.3ZM2669.3 2119.6H2683.9V2133.1H2669.3ZM2683.9 2241.2H2698.6V2254.8H2683.9ZM2683.9 2119.6H2698.6V2146.6H2683.9ZM2698.6 2227.7H2713.2V2241.2H2698.6ZM2698.6 2106H2713.2V2133.1H2698.6ZM2713.2 2227.7H2727.8V2241.2H2713.2ZM2713.2 2119.6H2727.8V2133.1H2713.2ZM2727.8 2227.7H2742.4V2254.8H2727.8ZM2742.4 2227.7H2757V2254.8H2742.4ZM2742.4 2092.5H2757V2106H2742.4ZM2757 2173.6H2771.6V2200.7H2757ZM2757 2119.6H2771.6V2133.1H2757ZM2815.5 2133.1H2830.1V2187.2H2815.5ZM2830.1 2119.6H2844.7V2146.6H2830.1ZM2844.7 2119.6H2859.3V2146.6H2844.7Z"/>
<path fill="#20FFDF" d="M1821.6 2254.8H1836.2V2268.3H1821.6ZM2303.9 2119.6H2318.5V2146.6H2303.9ZM2420.9 2227.7H2435.5V2241.2H2420.9ZM2435.5 2173.6H2450.1V2200.7H2435.5ZM2450.1 2133.1H2464.7V2173.6H2450.1ZM2610.9 2254.8H2625.5V2268.3H2610.9ZM2610.9 2214.2H2625.5V2227.7H2610.9ZM2625.5 2227.7H2640.1V2241.2H2625.5ZM2625.5 2160.1H2640.1V2173.6H2625.5ZM2640.1 2160.1H2654.7V2187.2H2640.1ZM2640.1 2133.1H2654.7V2146.6H2640.1ZM2683.9 2227.7H2698.6V2241.2H2683.9ZM2683.9 2146.6H2698.6V2160.1H2683.9ZM2698.6 2200.7H2713.2V2227.7H2698.6ZM2698.6 2133.1H2713.2V2160.1H2698.6ZM2713.2 2133.1H2727.8V2227.7H2713.2ZM2727.8 2200.7H2742.4V2227.7H2727.8ZM2727.8 2092.5H2742.4V2106H2727.8ZM2742.4 2200.7H2757V2227.7H2742.4ZM2742.4 2106H2757V2119.6H2742.4ZM2757 2133.1H2771.6V2173.6H2757Z"/>
<path fill="#30FFCF" d="M2640.1 2146.6H2654.7V2160.1H2640.1ZM2683.9 2160.1H2698.6V2227.7H2683.9ZM2698.6 2187.2H2713.2V2200.7H2698.6ZM2698.6 2160.1H2713.2V2173.6H2698.6ZM2727.8 2160.1H2742.4V2200.7H2727.8ZM2742.4 2187.2H2757V2200.7H2742.4ZM2742.4 2119.6H2757V2160.1H2742.4Z"/>
<path fill="#50FFAF" d="M2625.5 2173.6H2640.1V2227.7H2625.5ZM2698.6 2173.6H2713.2V2187.2H2698.6ZM2727.8 2146.6H2742.4V2160.1H2727.8ZM2727.8 2106H2742.4V2119.6H2727.8ZM2742.4 2160.1H2757V2187.2H2742.4Z"/>
<path fill="#80FF80" d="M2727.8 2119.6H2742.4V2146.6H2727.8Z"/>
</g>
<g shape-rendering="crispEdges" clip-path="url(#cp3)">
<path fill="#00009F" d="M2581.6 4359.9H2596.2V4373.5H2581.6Z"/>
<path fill="#0000CF" d="M579.2 4400.5H593.8V4414H579.2Z"/>
<path fill="#0050FF" d="M1587.7 4387H1602.4V4400.5H1587.7Z"/>
<path fill="#0080FF" d="M1456.2 4495.1H1470.8V4508.7H1456.2ZM2347.8 4359.9H2362.4V4373.5H2347.8ZM2493.9 4359.9H2508.6V4373.5H2493.9Z"/>
<path fill="#009FFF" d="M886.2 4481.6H900.8V4495.1H886.2ZM2859.3 4346.4H2874V4359.9H2859.3ZM2917.8 4346.4H2932.4V4359.9H2917.8Z"/>
<path fill="#00CFFF" d="M579.2 4468.1H593.8V4481.6H579.2ZM710.8 4495.1H725.4V4522.2H710.8ZM783.9 4508.7H798.5V4522.2H783.9Z"/>
<path fill="#00DFFF" d="M579.2 4495.1H593.8V4508.7H579.2ZM696.2 4468.1H710.8V4481.6H696.2ZM754.6 4441.1H769.2V4468.1H754.6ZM1967.8 4400.5H1982.4V4414H1967.8ZM2625.5 4454.6H2640.1V4468.1H2625.5ZM2771.6 4414H2786.3V4441.1H2771.6ZM2786.3 4400.5H2800.9V4414H2786.3Z"/>
<path fill="#00FFFF" d="M593.8 4495.1H608.5V4508.7H593.8ZM696.2 4508.7H710.8V4535.7H696.2ZM696.2 4481.6H710.8V4495.1H696.2ZM710.8 4468.1H725.4V4495.1H710.8ZM754.6 4468.1H769.2V4481.6H754.6ZM754.6 4427.5H769.2V4441.1H754.6ZM783.9 4522.2H798.5V4535.7H783.9ZM842.3 4441.1H856.9V4454.6H842.3ZM988.5 4400.5H1003.1V4414H988.5ZM1163.9 4468.1H1178.5V4481.6H1163.9ZM1207.7 4495.1H1222.3V4508.7H1207.7ZM1207.7 4400.5H1222.3V4414H1207.7ZM1821.6 4508.7H1836.2V4522.2H1821.6ZM1880.1 4427.5H1894.7V4441.1H1880.1ZM1967.8 4414H1982.4V4427.5H1967.8ZM2347.8 4387H2362.4V4427.5H2347.8ZM2362.4 4387H2377V4427.5H2362.4ZM2377 4414H2391.6V4427.5H2377ZM2406.2 4522.2H2420.9V4535.7H2406.2ZM2420.9 4495.1H2435.5V4535.7H2420.9ZM2435.5 4522.2H2450.1V4535.7H2435.5ZM2610.9 4495.1H2625.5V4535.7H2610.9ZM2625.5 4468.1H2640.1V4522.2H2625.5ZM2625.5 4427.5H2640.1V4454.6H2625.5ZM2640.1 4441.1H2654.7V4468.1H2640.1ZM2669.3 4522.2H2683.9V4535.7H2669.3ZM2698.6 4522.2H2713.2V4535.7H2698.6ZM2698.6 4427.5H2713.2V4468.1H2698.6ZM2713.2 4508.7H2727.8V4535.7H2713.2ZM2727.8 4522.2H2742.4V4535.7H2727.8ZM2771.6 4441.1H2786.3V4454.6H2771.6ZM2771.6 4400.5H2786.3V4414H2771.6ZM2786.3 4387H2800.9V4400.5H2786.3ZM2800.9 4373.5H2815.5V4400.5H2800.9ZM2859.3 4508.7H2874V4535.7H2859.3Z"/>
<path fill="#20FFDF" d="M520.8 4427.5H535.4V4454.6H520.8ZM535.4 4441.1H550V4454.6H535.4ZM593.8 4508.7H608.5V4522.2H593.8ZM681.5 4495.1H696.2V4522.2H681.5ZM696.2 4495.1H710.8V4508.7H696.2ZM710.8 4522.2H725.4V4535.7H710.8ZM740 4400.5H754.6V4414H740ZM769.2 4441.1H783.9V4468.1H769.2ZM783.9 4481.6H798.5V4508.7H783.9ZM827.7 4468.1H842.3V4481.6H827.7ZM827.7 4441.1H842.3V4454.6H827.7ZM842.3 4414H856.9V4441.1H842.3ZM856.9 4468.1H871.5V4481.6H856.9ZM856.9 4400.5H871.5V4427.5H856.9ZM1046.9 4454.6H1061.6V4468.1H1046.9ZM1280.8 4427.5H1295.4V4441.1H1280.8ZM1646.2 4454.6H1660.8V4468.1H1646.2ZM1821.6 4495.1H1836.2V4508.7H1821.6ZM1953.1 4414H1967.8V4427.5H1953.1ZM1982.4 4414H1997V4427.5H1982.4ZM2347.8 4373.5H2362.4V4387H2347.8ZM2391.6 4522.2H2406.2V4535.7H2391.6ZM2406.2 4508.7H2420.9V4522.2H2406.2ZM2406.2 4414H2420.9V4468.1H2406.2ZM2406.2 4359.9H2420.9V4373.5H2406.2ZM2420.9 4454.6H2435.5V4495.1H2420.9ZM2435.5 4508.7H2450.1V4522.2H2435.5ZM2581.6 4522.2H2596.2V4535.7H2581.6ZM2596.2 4346.4H2610.9V4359.9H2596.2ZM2625.5 4522.2H2640.1V4535.7H2625.5ZM2640.1 4468.1H2654.7V4522.2H2640.1ZM2669.3 4508.7H2683.9V4522.2H2669.3ZM2683.9 4508.7H2698.6V4522.2H2683.9ZM2698.6 4468.1H2713.2V4522.2H2698.6ZM2742.4 4522.2H2757V4535.7H2742.4ZM2786.3 4508.7H2800.9V4522.2H2786.3ZM2800.9 4495.1H2815.5V4535.7H2800.9Z"/>
<path fill="#30FFCF" d="M593.8 4481.6H608.5V4495.1H593.8ZM681.5 4481.6H696.2V4495.1H681.5ZM769.2 4508.7H783.9V4535.7H769.2ZM944.6 4441.1H959.2V4454.6H944.6ZM988.5 4414H1003.1V4441.1H988.5ZM1163.9 4414H1178.5V4441.1H1163.9ZM1280.8 4441.1H1295.4V4454.6H1280.8ZM1587.7 4495.1H1602.4V4508.7H1587.7ZM1631.6 4441.1H1646.2V4454.6H1631.6ZM1646.2 4414H1660.8V4427.5H1646.2ZM2274.7 4414H2289.3V4441.1H2274.7ZM2318.5 4400.5H2333.2V4481.6H2318.5ZM2333.2 4387H2347.8V4454.6H2333.2ZM2377 4387H2391.6V4414H2377ZM2420.9 4414H2435.5V4454.6H2420.9ZM2435.5 4414H2450.1V4508.7H2435.5ZM2493.9 4414H2508.6V4441.1H2493.9ZM2625.5 4414H2640.1V4427.5H2625.5ZM2640.1 4427.5H2654.7V4441.1H2640.1ZM2654.7 4481.6H2669.3V4535.7H2654.7ZM2683.9 4522.2H2698.6V4535.7H2683.9ZM2713.2 4468.1H2727.8V4508.7H2713.2ZM2727.8 4481.6H2742.4V4522.2H2727.8ZM2742.4 4481.6H2757V4522.2H2742.4Z"/>
<path fill="#40FFBF" d="M1704.7 4508.7H1719.3V4522.2H1704.7ZM2187 4400.5H2201.6V4414H2187ZM2274.7 4522.2H2289.3V4535.7H2274.7ZM2274.7 4481.6H2289.3V4508.7H2274.7ZM2318.5 4387H2333.2V4400.5H2318.5ZM2362.4 4441.1H2377V4454.6H2362.4ZM2406.2 4400.5H2420.9V4414H2406.2ZM2406.2 4373.5H2420.9V4387H2406.2ZM2420.9 4373.5H2435.5V4387H2420.9ZM2464.7 4427.5H2479.3V4441.1H2464.7ZM2493.9 4481.6H2508.6V4495.1H2493.9ZM2493.9 4441.1H2508.6V4454.6H2493.9ZM2552.4 4454.6H2567V4468.1H2552.4ZM2552.4 4427.5H2567V4441.1H2552.4ZM2610.9 4468.1H2625.5V4481.6H2610.9ZM2625.5 4387H2640.1V4400.5H2625.5ZM2654.7 4387H2669.3V4400.5H2654.7ZM2669.3 4495.1H2683.9V4508.7H2669.3ZM2683.9 4468.1H2698.6V4481.6H2683.9ZM2742.4 4346.4H2757V4359.9H2742.4ZM2757 4454.6H2771.6V4468.1H2757ZM2771.6 4387H2786.3V4400.5H2771.6ZM2800.9 4481.6H2815.5V4495.1H2800.9ZM2903.2 4387H2917.8V4414H2903.2ZM2917.8 4373.5H2932.4V4414H2917.8ZM2961.7 4522.2H2976.3V4535.7H2961.7Z"/>
<path fill="#50FFAF" d="M491.5 4427.5H506.1V4441.1H491.5ZM520.8 4414H535.4V4427.5H520.8ZM550 4414H564.6V4454.6H550ZM579.2 4481.6H593.8V4495.1H579.2ZM579.2 4441.1H593.8V4454.6H579.2ZM608.5 4468.1H623.1V4495.1H608.5ZM623.1 4468.1H637.7V4508.7H623.1ZM666.9 4508.7H681.5V4522.2H666.9ZM666.9 4441.1H681.5V4495.1H666.9ZM681.5 4522.2H696.2V4535.7H681.5ZM681.5 4454.6H696.2V4481.6H681.5ZM696.2 4454.6H710.8V4468.1H696.2ZM710.8 4454.6H725.4V4468.1H710.8ZM754.6 4414H769.2V4427.5H754.6ZM769.2 4481.6H783.9V4508.7H769.2ZM783.9 4468.1H798.5V4481.6H783.9ZM813.1 4414H827.7V4427.5H813.1ZM842.3 4400.5H856.9V4414H842.3ZM856.9 4454.6H871.5V4468.1H856.9ZM959.2 4414H973.9V4454.6H959.2ZM988.5 4508.7H1003.1V4535.7H988.5ZM988.5 4441.1H1003.1V4454.6H988.5ZM1061.6 4454.6H1076.2V4468.1H1061.6ZM1120 4400.5H1134.6V4414H1120ZM1149.3 4414H1163.9V4441.1H1149.3ZM1178.5 4414H1193.1V4441.1H1178.5ZM1222.3 4427.5H1237V4454.6H1222.3ZM1280.8 4414H1295.4V4427.5H1280.8ZM1529.3 4400.5H1543.9V4427.5H1529.3ZM1631.6 4400.5H1646.2V4441.1H1631.6ZM1675.4 4495.1H1690.1V4508.7H1675.4ZM1690.1 4441.1H1704.7V4454.6H1690.1ZM1704.7 4495.1H1719.3V4508.7H1704.7ZM1733.9 4468.1H1748.5V4481.6H1733.9ZM1850.8 4454.6H1865.4V4468.1H1850.8ZM1953.1 4441.1H1967.8V4454.6H1953.1ZM1967.8 4427.5H1982.4V4441.1H1967.8ZM1982.4 4454.6H1997V4468.1H1982.4ZM1982.4 4427.5H1997V4441.1H1982.4ZM2026.2 4427.5H2040.8V4441.1H2026.2ZM2026.2 4400.5H2040.8V4414H2026.2ZM2055.5 4441.1H2070.1V4454.6H2055.5ZM2055.5 4400.5H2070.1V4427.5H2055.5ZM2084.7 4414H2099.3V4427.5H2084.7ZM2187 4414H2201.6V4427.5H2187ZM2187 4387H2201.6V4400.5H2187ZM2274.7 4508.7H2289.3V4522.2H2274.7ZM2274.7 4468.1H2289.3V4481.6H2274.7ZM2318.5 4522.2H2333.2V4535.7H2318.5ZM2318.5 4495.1H2333.2V4508.7H2318.5ZM2333.2 4508.7H2347.8V4522.2H2333.2ZM2333.2 4373.5H2347.8V4387H2333.2ZM2347.8 4427.5H2362.4V4441.1H2347.8ZM2362.4 4508.7H2377V4535.7H2362.4ZM2406.2 4387H2420.9V4400.5H2406.2ZM2420.9 4400.5H2435.5V4414H2420.9ZM2450.1 4495.1H2464.7V4522.2H2450.1ZM2450.1 4387H2464.7V4400.5H2450.1ZM2464.7 4468.1H2479.3V4508.7H2464.7ZM2464.7 4441.1H2479.3V4454.6H2464.7ZM2464.7 4359.9H2479.3V4400.5H2464.7ZM2479.3 4441.1H2493.9V4468.1H2479.3ZM2479.3 4400.5H2493.9V4414H2479.3ZM2493.9 4454.6H2508.6V4468.1H2493.9ZM2493.9 4387H2508.6V4400.5H2493.9ZM2508.6 4400.5H2523.2V4414H2508.6ZM2537.8 4441.1H2552.4V4468.1H2537.8ZM2552.4 4441.1H2567V4454.6H2552.4ZM2581.6 4400.5H2596.2V4414H2581.6ZM2625.5 4373.5H2640.1V4387H2625.5ZM2640.1 4373.5H2654.7V4387H2640.1ZM2654.7 4359.9H2669.3V4387H2654.7ZM2669.3 4481.6H2683.9V4495.1H2669.3ZM2683.9 4481.6H2698.6V4508.7H2683.9ZM2683.9 4427.5H2698.6V4468.1H2683.9ZM2757 4468.1H2771.6V4495.1H2757ZM2757 4414H2771.6V4454.6H2757ZM2757 4373.5H2771.6V4400.5H2757ZM2771.6 4373.5H2786.3V4387H2771.6ZM2786.3 4373.5H2800.9V4387H2786.3ZM2800.9 4468.1H2815.5V4481.6H2800.9ZM2874 4387H2888.6V4400.5H2874ZM2874 4346.4H2888.6V4359.9H2874ZM2903.2 4373.5H2917.8V4387H2903.2ZM2917.8 4359.9H2932.4V4373.5H2917.8ZM2932.4 4387H2947V4400.5H2932.4ZM2947 4414H2961.7V4427.5H2947Z"/>
<path fill="#60FF9F" d="M520.8 4508.7H535.4V4522.2H520.8ZM520.8 4454.6H535.4V4481.6H520.8ZM535.4 4522.2H550V4535.7H535.4ZM564.6 4427.5H579.2V4454.6H564.6ZM579.2 4508.7H593.8V4522.2H579.2ZM579.2 4454.6H593.8V4468.1H579.2ZM579.2 4427.5H593.8V4441.1H579.2ZM593.8 4468.1H608.5V4481.6H593.8ZM608.5 4495.1H623.1V4508.7H608.5ZM637.7 4441.1H652.3V4468.1H637.7ZM652.3 4441.1H666.9V4454.6H652.3ZM666.9 4427.5H681.5V4441.1H666.9ZM681.5 4427.5H696.2V4454.6H681.5ZM710.8 4441.1H725.4V4454.6H710.8ZM769.2 4414H783.9V4441.1H769.2ZM783.9 4454.6H798.5V4468.1H783.9ZM798.5 4427.5H813.1V4441.1H798.5ZM798.5 4387H813.1V4400.5H798.5ZM827.7 4427.5H842.3V4441.1H827.7ZM856.9 4387H871.5V4400.5H856.9ZM944.6 4427.5H959.2V4441.1H944.6ZM988.5 4454.6H1003.1V4468.1H988.5ZM1017.7 4481.6H1032.3V4508.7H1017.7ZM1134.6 4441.1H1149.3V4481.6H1134.6ZM1193.1 4427.5H1207.7V4441.1H1193.1ZM1602.4 4522.2H1617V4535.7H1602.4ZM1617 4441.1H1631.6V4454.6H1617ZM1617 4400.5H1631.6V4414H1617ZM1631.6 4522.2H1646.2V4535.7H1631.6ZM1646.2 4468.1H1660.8V4481.6H1646.2ZM1660.8 4414H1675.4V4427.5H1660.8ZM1675.4 4427.5H1690.1V4454.6H1675.4ZM1967.8 4441.1H1982.4V4454.6H1967.8ZM1982.4 4468.1H1997V4481.6H1982.4ZM1982.4 4441.1H1997V4454.6H1982.4ZM2026.2 4441.1H2040.8V4454.6H2026.2ZM2026.2 4414H2040.8V4427.5H2026.2ZM2040.8 4414H2055.5V4454.6H2040.8ZM2084.7 4373.5H2099.3V4387H2084.7ZM2172.4 4414H2187V4427.5H2172.4ZM2333.2 4522.2H2347.8V4535.7H2333.2ZM2333.2 4454.6H2347.8V4508.7H2333.2ZM2362.4 4454.6H2377V4495.1H2362.4ZM2377 4373.5H2391.6V4387H2377ZM2450.1 4481.6H2464.7V4495.1H2450.1ZM2450.1 4454.6H2464.7V4468.1H2450.1ZM2450.1 4400.5H2464.7V4441.1H2450.1ZM2464.7 4454.6H2479.3V4468.1H2464.7ZM2479.3 4414H2493.9V4427.5H2479.3ZM2479.3 4359.9H2493.9V4400.5H2479.3ZM2493.9 4400.5H2508.6V4414H2493.9ZM2493.9 4373.5H2508.6V4387H2493.9ZM2508.6 4481.6H2523.2V4535.7H2508.6ZM2508.6 4387H2523.2V4400.5H2508.6ZM2537.8 4468.1H2552.4V4481.6H2537.8ZM2537.8 4414H2552.4V4441.1H2537.8ZM2552.4 4359.9H2567V4387H2552.4ZM2581.6 4387H2596.2V4400.5H2581.6ZM2654.7 4468.1H2669.3V4481.6H2654.7ZM2654.7 4427.5H2669.3V4454.6H2654.7ZM2669.3 4468.1H2683.9V4481.6H2669.3ZM2698.6 4400.5H2713.2V4414H2698.6ZM2698.6 4373.5H2713.2V4387H2698.6ZM2727.8 4427.5H2742.4V4441.1H2727.8ZM2771.6 4508.7H2786.3V4522.2H2771.6ZM2874 4400.5H2888.6V4414H2874ZM2874 4373.5H2888.6V4387H2874ZM2888.6 4346.4H2903.2V4387H2888.6ZM2903.2 4359.9H2917.8V4373.5H2903.2ZM2932.4 4468.1H2947V4481.6H2932.4ZM2932.4 4400.5H2947V4414H2932.4ZM2932.4 4373.5H2947V4387H2932.4ZM2947 4508.7H2961.7V4522.2H2947ZM2947 4387H2961.7V4400.5H2947ZM2961.7 4481.6H2976.3V4508.7H2961.7Z"/>
<path fill="#70FF8F" d="M1704.7 4468.1H1719.3V4495.1H1704.7ZM1748.5 4508.7H1763.1V4522.2H1748.5ZM1748.5 4481.6H1763.1V4495.1H1748.5ZM1836.2 4427.5H1850.8V4454.6H1836.2ZM1850.8 4468.1H1865.4V4481.6H1850.8ZM1850.8 4441.1H1865.4V4454.6H1850.8ZM1880.1 4522.2H1894.7V4535.7H1880.1ZM1880.1 4468.1H1894.7V4481.6H1880.1ZM1880.1 4441.1H1894.7V4454.6H1880.1ZM1953.1 4427.5H1967.8V4441.1H1953.1ZM1967.8 4508.7H1982.4V4522.2H1967.8ZM1967.8 4481.6H1982.4V4495.1H1967.8ZM1982.4 4481.6H1997V4522.2H1982.4ZM1997 4414H2011.6V4427.5H1997ZM2011.6 4441.1H2026.2V4454.6H2011.6ZM2011.6 4414H2026.2V4427.5H2011.6ZM2040.8 4400.5H2055.5V4414H2040.8ZM2055.5 4427.5H2070.1V4441.1H2055.5ZM2084.7 4427.5H2099.3V4441.1H2084.7ZM2113.9 4522.2H2128.5V4535.7H2113.9ZM2172.4 4387H2187V4414H2172.4ZM2230.8 4468.1H2245.5V4481.6H2230.8ZM2260.1 4427.5H2274.7V4441.1H2260.1ZM2260.1 4400.5H2274.7V4414H2260.1ZM2274.7 4454.6H2289.3V4468.1H2274.7ZM2289.3 4522.2H2303.9V4535.7H2289.3ZM2318.5 4508.7H2333.2V4522.2H2318.5ZM2318.5 4481.6H2333.2V4495.1H2318.5ZM2318.5 4359.9H2333.2V4387H2318.5ZM2333.2 4359.9H2347.8V4373.5H2333.2ZM2347.8 4508.7H2362.4V4522.2H2347.8ZM2347.8 4468.1H2362.4V4495.1H2347.8ZM2347.8 4441.1H2362.4V4454.6H2347.8ZM2362.4 4495.1H2377V4508.7H2362.4ZM2362.4 4427.5H2377V4441.1H2362.4ZM2377 4468.1H2391.6V4481.6H2377ZM2391.6 4427.5H2406.2V4441.1H2391.6ZM2391.6 4387H2406.2V4400.5H2391.6ZM2406.2 4468.1H2420.9V4481.6H2406.2ZM2420.9 4387H2435.5V4400.5H2420.9ZM2450.1 4468.1H2464.7V4481.6H2450.1ZM2450.1 4373.5H2464.7V4387H2450.1ZM2464.7 4400.5H2479.3V4427.5H2464.7ZM2479.3 4522.2H2493.9V4535.7H2479.3ZM2479.3 4427.5H2493.9V4441.1H2479.3ZM2493.9 4495.1H2508.6V4522.2H2493.9ZM2493.9 4468.1H2508.6V4481.6H2493.9ZM2508.6 4468.1H2523.2V4481.6H2508.6ZM2508.6 4441.1H2523.2V4454.6H2508.6ZM2508.6 4373.5H2523.2V4387H2508.6ZM2523.2 4414H2537.8V4427.5H2523.2ZM2537.8 4359.9H2552.4V4373.5H2537.8ZM2552.4 4468.1H2567V4481.6H2552.4ZM2552.4 4387H2567V4427.5H2552.4ZM2567 4373.5H2581.6V4387H2567ZM2581.6 4441.1H2596.2V4454.6H2581.6ZM2581.6 4373.5H2596.2V4387H2581.6ZM2596.2 4508.7H2610.9V4522.2H2596.2ZM2610.9 4481.6H2625.5V4495.1H2610.9ZM2610.9 4454.6H2625.5V4468.1H2610.9ZM2610.9 4414H2625.5V4441.1H2610.9ZM2625.5 4400.5H2640.1V4414H2625.5ZM2654.7 4454.6H2669.3V4468.1H2654.7ZM2654.7 4400.5H2669.3V4427.5H2654.7ZM2698.6 4414H2713.2V4427.5H2698.6ZM2698.6 4387H2713.2V4400.5H2698.6ZM2713.2 4400.5H2727.8V4414H2713.2ZM2727.8 4441.1H2742.4V4481.6H2727.8ZM2742.4 4468.1H2757V4481.6H2742.4ZM2742.4 4400.5H2757V4414H2742.4ZM2757 4495.1H2771.6V4535.7H2757ZM2757 4400.5H2771.6V4414H2757ZM2771.6 4495.1H2786.3V4508.7H2771.6ZM2771.6 4454.6H2786.3V4468.1H2771.6ZM2771.6 4359.9H2786.3V4373.5H2771.6ZM2786.3 4427.5H2800.9V4441.1H2786.3ZM2786.3 4359.9H2800.9V4373.5H2786.3ZM2800.9 4454.6H2815.5V4468.1H2800.9ZM2800.9 4427.5H2815.5V4441.1H2800.9ZM2844.7 4481.6H2859.3V4495.1H2844.7ZM2844.7 4441.1H2859.3V4454.6H2844.7ZM2844.7 4414H2859.3V4427.5H2844.7ZM2844.7 4359.9H2859.3V4387H2844.7ZM2859.3 4441.1H2874V4468.1H2859.3ZM2874 4414H2888.6V4454.6H2874ZM2917.8 4468.1H2932.4V4481.6H2917.8ZM2932.4 4522.2H2947V4535.7H2932.4ZM2932.4 4481.6H2947V4495.1H2932.4ZM2932.4 4454.6H2947V4468.1H2932.4ZM2947 4454.6H2961.7V4468.1H2947ZM2947 4359.9H2961.7V4387H2947ZM2961.7 4508.7H2976.3V4522.2H2961.7ZM2961.7 4441.1H2976.3V4468.1H2961.7ZM2961.7 4414H2976.3V4427.5H2961.7ZM2961.7 4387H2976.3V4400.5H2961.7ZM3005.5 4495.1H3012V4508.7H3005.5ZM3005.5 4427.5H3012V4441.1H3005.5ZM3005.5 4373.5H3012V4414H3005.5Z"/>
<path fill="#800000" d="M930 4495.1H944.6V4508.7H930ZM1543.9 4400.5H1558.5V4414H1543.9ZM1909.3 4414H1923.9V4427.5H1909.3ZM1997 4400.5H2011.6V4414H1997ZM2026.2 4387H2040.8V4400.5H2026.2ZM2187 4373.5H2201.6V4387H2187ZM2610.9 4346.4H2625.5V4359.9H2610.9Z"/>
<path fill="#80FF80" d="M535.4 4427.5H550V4441.1H535.4ZM550 4468.1H564.6V4481.6H550ZM564.6 4414H579.2V4427.5H564.6ZM623.1 4441.1H637.7V4454.6H623.1ZM652.3 4508.7H666.9V4535.7H652.3ZM652.3 4481.6H666.9V4495.1H652.3ZM652.3 4454.6H666.9V4468.1H652.3ZM652.3 4414H666.9V4441.1H652.3ZM666.9 4522.2H681.5V4535.7H666.9ZM666.9 4414H681.5V4427.5H666.9ZM696.2 4441.1H710.8V4454.6H696.2ZM710.8 4427.5H725.4V4441.1H710.8ZM798.5 4400.5H813.1V4414H798.5ZM813.1 4400.5H827.7V4414H813.1ZM827.7 4454.6H842.3V4468.1H827.7ZM856.9 4441.1H871.5V4454.6H856.9ZM973.9 4495.1H988.5V4522.2H973.9ZM973.9 4414H988.5V4427.5H973.9ZM1003.1 4441.1H1017.7V4454.6H1003.1ZM1003.1 4414H1017.7V4427.5H1003.1ZM1032.3 4468.1H1046.9V4495.1H1032.3ZM1046.9 4414H1061.6V4427.5H1046.9ZM1120 4427.5H1134.6V4441.1H1120ZM1134.6 4414H1149.3V4441.1H1134.6ZM1149.3 4400.5H1163.9V4414H1149.3ZM1193.1 4414H1207.7V4427.5H1193.1ZM1207.7 4454.6H1222.3V4468.1H1207.7ZM1207.7 4414H1222.3V4427.5H1207.7ZM1222.3 4414H1237V4427.5H1222.3ZM1295.4 4414H1310V4441.1H1295.4ZM1324.6 4508.7H1339.3V4522.2H1324.6ZM1456.2 4508.7H1470.8V4522.2H1456.2ZM1529.3 4495.1H1543.9V4508.7H1529.3ZM1543.9 4414H1558.5V4427.5H1543.9ZM1602.4 4441.1H1617V4454.6H1602.4ZM1602.4 4400.5H1617V4414H1602.4ZM1617 4495.1H1631.6V4508.7H1617ZM1617 4454.6H1631.6V4481.6H1617ZM1617 4414H1631.6V4427.5H1617ZM1631.6 4495.1H1646.2V4508.7H1631.6ZM1631.6 4454.6H1646.2V4481.6H1631.6ZM1646.2 4427.5H1660.8V4441.1H1646.2ZM1660.8 4427.5H1675.4V4454.6H1660.8ZM1748.5 4495.1H1763.1V4508.7H1748.5ZM1748.5 4468.1H1763.1V4481.6H1748.5ZM1763.1 4522.2H1777.7V4535.7H1763.1ZM1763.1 4481.6H1777.7V4495.1H1763.1ZM1777.7 4508.7H1792.4V4522.2H1777.7ZM1777.7 4454.6H1792.4V4481.6H1777.7ZM1807 4454.6H1821.6V4468.1H1807ZM1821.6 4427.5H1836.2V4454.6H1821.6ZM1880.1 4481.6H1894.7V4508.7H1880.1ZM1923.9 4468.1H1938.5V4481.6H1923.9ZM1938.5 4400.5H1953.1V4427.5H1938.5ZM1953.1 4522.2H1967.8V4535.7H1953.1ZM2026.2 4481.6H2040.8V4495.1H2026.2ZM2055.5 4468.1H2070.1V4481.6H2055.5ZM2143.1 4441.1H2157.8V4454.6H2143.1ZM2143.1 4400.5H2157.8V4414H2143.1ZM2201.6 4414H2216.2V4454.6H2201.6ZM2230.8 4454.6H2245.5V4468.1H2230.8ZM2260.1 4387H2274.7V4400.5H2260.1ZM2274.7 4400.5H2289.3V4414H2274.7ZM2274.7 4373.5H2289.3V4387H2274.7ZM2347.8 4522.2H2362.4V4535.7H2347.8ZM2347.8 4495.1H2362.4V4508.7H2347.8ZM2347.8 4454.6H2362.4V4468.1H2347.8ZM2406.2 4481.6H2420.9V4508.7H2406.2ZM2508.6 4414H2523.2V4427.5H2508.6ZM2523.2 4387H2537.8V4400.5H2523.2ZM2523.2 4346.4H2537.8V4359.9H2523.2ZM2581.6 4454.6H2596.2V4495.1H2581.6ZM2640.1 4359.9H2654.7V4373.5H2640.1ZM2669.3 4454.6H2683.9V4468.1H2669.3ZM2669.3 4427.5H2683.9V4441.1H2669.3ZM2683.9 4387H2698.6V4400.5H2683.9ZM2698.6 4346.4H2713.2V4359.9H2698.6ZM2713.2 4427.5H2727.8V4468.1H2713.2ZM2713.2 4373.5H2727.8V4400.5H2713.2ZM2757 4359.9H2771.6V4373.5H2757ZM2786.3 4481.6H2800.9V4508.7H2786.3ZM2786.3 4441.1H2800.9V4468.1H2786.3ZM2800.9 4414H2815.5V4427.5H2800.9ZM2830.1 4387H2844.7V4400.5H2830.1ZM2859.3 4387H2874V4441.1H2859.3ZM2859.3 4359.9H2874V4373.5H2859.3ZM2888.6 4441.1H2903.2V4468.1H2888.6ZM2903.2 4454.6H2917.8V4468.1H2903.2ZM2903.2 4427.5H2917.8V4441.1H2903.2ZM2903.2 4346.4H2917.8V4359.9H2903.2ZM2932.4 4359.9H2947V4373.5H2932.4ZM2947 4522.2H2961.7V4535.7H2947ZM2961.7 4427.5H2976.3V4441.1H2961.7ZM2961.7 4400.5H2976.3V4414H2961.7ZM2976.3 4414H2990.9V4427.5H2976.3ZM2990.9 4373.5H3005.5V4414H2990.9Z"/>
<path fill="#8FFF70" d="M374.6 4508.7H389.2V4535.7H374.6ZM389.2 4522.2H403.8V4535.7H389.2ZM447.7 4508.7H462.3V4535.7H447.7ZM462.3 4495.1H476.9V4535.7H462.3ZM476.9 4522.2H491.5V4535.7H476.9ZM491.5 4522.2H506.1V4535.7H491.5ZM491.5 4441.1H506.1V4454.6H491.5ZM506.1 4495.1H520.8V4535.7H506.1ZM520.8 4522.2H535.4V4535.7H520.8ZM520.8 4481.6H535.4V4508.7H520.8ZM535.4 4495.1H550V4522.2H535.4ZM550 4481.6H564.6V4535.7H550ZM579.2 4522.2H593.8V4535.7H579.2ZM579.2 4414H593.8V4427.5H579.2ZM593.8 4522.2H608.5V4535.7H593.8ZM593.8 4427.5H608.5V4468.1H593.8ZM608.5 4522.2H623.1V4535.7H608.5ZM608.5 4414H623.1V4468.1H608.5ZM623.1 4414H637.7V4441.1H623.1ZM637.7 4427.5H652.3V4441.1H637.7ZM652.3 4495.1H666.9V4508.7H652.3ZM652.3 4468.1H666.9V4481.6H652.3ZM666.9 4495.1H681.5V4508.7H666.9ZM681.5 4414H696.2V4427.5H681.5ZM696.2 4400.5H710.8V4441.1H696.2ZM710.8 4387H725.4V4427.5H710.8ZM740 4414H754.6V4427.5H740ZM754.6 4522.2H769.2V4535.7H754.6ZM754.6 4495.1H769.2V4508.7H754.6ZM783.9 4441.1H798.5V4454.6H783.9ZM783.9 4387H798.5V4427.5H783.9ZM798.5 4522.2H813.1V4535.7H798.5ZM798.5 4414H813.1V4427.5H798.5ZM827.7 4373.5H842.3V4427.5H827.7ZM856.9 4481.6H871.5V4535.7H856.9ZM856.9 4427.5H871.5V4441.1H856.9ZM886.2 4522.2H900.8V4535.7H886.2ZM886.2 4495.1H900.8V4508.7H886.2ZM930 4427.5H944.6V4495.1H930ZM944.6 4454.6H959.2V4481.6H944.6ZM959.2 4508.7H973.9V4535.7H959.2ZM973.9 4522.2H988.5V4535.7H973.9ZM973.9 4427.5H988.5V4454.6H973.9ZM973.9 4400.5H988.5V4414H973.9ZM1032.3 4495.1H1046.9V4508.7H1032.3ZM1032.3 4454.6H1046.9V4468.1H1032.3ZM1046.9 4481.6H1061.6V4495.1H1046.9ZM1061.6 4522.2H1076.2V4535.7H1061.6ZM1061.6 4414H1076.2V4454.6H1061.6ZM1090.8 4481.6H1105.4V4495.1H1090.8ZM1120 4495.1H1134.6V4508.7H1120ZM1120 4441.1H1134.6V4454.6H1120ZM1163.9 4522.2H1178.5V4535.7H1163.9ZM1163.9 4400.5H1178.5V4414H1163.9ZM1193.1 4522.2H1207.7V4535.7H1193.1ZM1207.7 4508.7H1222.3V4535.7H1207.7ZM1207.7 4427.5H1222.3V4454.6H1207.7ZM1251.6 4454.6H1266.2V4468.1H1251.6ZM1280.8 4522.2H1295.4V4535.7H1280.8ZM1324.6 4522.2H1339.3V4535.7H1324.6ZM1456.2 4522.2H1470.8V4535.7H1456.2ZM1500 4508.7H1514.7V4535.7H1500ZM1514.7 4508.7H1529.3V4535.7H1514.7ZM1529.3 4522.2H1543.9V4535.7H1529.3ZM1529.3 4468.1H1543.9V4495.1H1529.3ZM1543.9 4454.6H1558.5V4495.1H1543.9ZM1558.5 4441.1H1573.1V4468.1H1558.5ZM1573.1 4495.1H1587.7V4535.7H1573.1ZM1573.1 4441.1H1587.7V4454.6H1573.1ZM1573.1 4400.5H1587.7V4427.5H1573.1ZM1587.7 4522.2H1602.4V4535.7H1587.7ZM1587.7 4400.5H1602.4V4481.6H1587.7ZM1602.4 4454.6H1617V4508.7H1602.4ZM1602.4 4414H1617V4441.1H1602.4ZM1617 4508.7H1631.6V4535.7H1617ZM1617 4481.6H1631.6V4495.1H1617ZM1631.6 4508.7H1646.2V4522.2H1631.6ZM1631.6 4481.6H1646.2V4495.1H1631.6ZM1646.2 4481.6H1660.8V4535.7H1646.2ZM1646.2 4441.1H1660.8V4454.6H1646.2ZM1660.8 4454.6H1675.4V4535.7H1660.8ZM1675.4 4508.7H1690.1V4535.7H1675.4ZM1675.4 4481.6H1690.1V4495.1H1675.4ZM1733.9 4481.6H1748.5V4495.1H1733.9ZM1748.5 4522.2H1763.1V4535.7H1748.5ZM1763.1 4495.1H1777.7V4522.2H1763.1ZM1763.1 4468.1H1777.7V4481.6H1763.1ZM1777.7 4522.2H1792.4V4535.7H1777.7ZM1777.7 4481.6H1792.4V4508.7H1777.7ZM1792.4 4468.1H1807V4481.6H1792.4ZM1807 4468.1H1821.6V4535.7H1807ZM1807 4441.1H1821.6V4454.6H1807ZM1821.6 4481.6H1836.2V4495.1H1821.6ZM1821.6 4454.6H1836.2V4468.1H1821.6ZM1850.8 4427.5H1865.4V4441.1H1850.8ZM1880.1 4508.7H1894.7V4522.2H1880.1ZM1880.1 4454.6H1894.7V4468.1H1880.1ZM1923.9 4522.2H1938.5V4535.7H1923.9ZM1923.9 4481.6H1938.5V4508.7H1923.9ZM1923.9 4427.5H1938.5V4468.1H1923.9ZM1967.8 4495.1H1982.4V4508.7H1967.8ZM1967.8 4468.1H1982.4V4481.6H1967.8ZM1982.4 4522.2H1997V4535.7H1982.4ZM1997 4441.1H2011.6V4454.6H1997ZM2011.6 4427.5H2026.2V4441.1H2011.6ZM2011.6 4400.5H2026.2V4414H2011.6ZM2026.2 4522.2H2040.8V4535.7H2026.2ZM2026.2 4495.1H2040.8V4508.7H2026.2ZM2026.2 4454.6H2040.8V4481.6H2026.2ZM2040.8 4454.6H2055.5V4535.7H2040.8ZM2055.5 4508.7H2070.1V4535.7H2055.5ZM2055.5 4481.6H2070.1V4495.1H2055.5ZM2070.1 4522.2H2084.7V4535.7H2070.1ZM2084.7 4522.2H2099.3V4535.7H2084.7ZM2084.7 4387H2099.3V4400.5H2084.7ZM2099.3 4522.2H2113.9V4535.7H2099.3ZM2113.9 4373.5H2128.5V4387H2113.9ZM2143.1 4414H2157.8V4427.5H2143.1ZM2143.1 4373.5H2157.8V4400.5H2143.1ZM2157.8 4387H2172.4V4427.5H2157.8ZM2201.6 4400.5H2216.2V4414H2201.6ZM2230.8 4427.5H2245.5V4454.6H2230.8ZM2260.1 4441.1H2274.7V4454.6H2260.1ZM2260.1 4414H2274.7V4427.5H2260.1ZM2260.1 4373.5H2274.7V4387H2260.1ZM2274.7 4441.1H2289.3V4454.6H2274.7ZM2274.7 4387H2289.3V4400.5H2274.7ZM2289.3 4508.7H2303.9V4522.2H2289.3ZM2289.3 4481.6H2303.9V4495.1H2289.3ZM2377 4495.1H2391.6V4535.7H2377ZM2377 4427.5H2391.6V4468.1H2377ZM2391.6 4441.1H2406.2V4454.6H2391.6ZM2391.6 4414H2406.2V4427.5H2391.6ZM2391.6 4359.9H2406.2V4373.5H2391.6ZM2450.1 4522.2H2464.7V4535.7H2450.1ZM2479.3 4508.7H2493.9V4522.2H2479.3ZM2479.3 4346.4H2493.9V4359.9H2479.3ZM2508.6 4454.6H2523.2V4468.1H2508.6ZM2508.6 4427.5H2523.2V4441.1H2508.6ZM2523.2 4427.5H2537.8V4454.6H2523.2ZM2523.2 4373.5H2537.8V4387H2523.2ZM2537.8 4508.7H2552.4V4522.2H2537.8ZM2537.8 4481.6H2552.4V4495.1H2537.8ZM2537.8 4373.5H2552.4V4414H2537.8ZM2567 4400.5H2581.6V4414H2567ZM2596.2 4522.2H2610.9V4535.7H2596.2ZM2596.2 4495.1H2610.9V4508.7H2596.2ZM2596.2 4414H2610.9V4441.1H2596.2ZM2596.2 4359.9H2610.9V4400.5H2596.2ZM2610.9 4441.1H2625.5V4454.6H2610.9ZM2610.9 4373.5H2625.5V4387H2610.9ZM2625.5 4359.9H2640.1V4373.5H2625.5ZM2640.1 4522.2H2654.7V4535.7H2640.1ZM2640.1 4387H2654.7V4414H2640.1ZM2669.3 4441.1H2683.9V4454.6H2669.3ZM2669.3 4414H2683.9V4427.5H2669.3ZM2669.3 4359.9H2683.9V4373.5H2669.3ZM2683.9 4400.5H2698.6V4427.5H2683.9ZM2698.6 4359.9H2713.2V4373.5H2698.6ZM2713.2 4414H2727.8V4427.5H2713.2ZM2713.2 4359.9H2727.8V4373.5H2713.2ZM2742.4 4414H2757V4468.1H2742.4ZM2742.4 4387H2757V4400.5H2742.4ZM2742.4 4359.9H2757V4373.5H2742.4ZM2742.4 4332.9H2757V4346.4H2742.4ZM2771.6 4522.2H2786.3V4535.7H2771.6ZM2771.6 4468.1H2786.3V4495.1H2771.6ZM2786.3 4522.2H2800.9V4535.7H2786.3ZM2786.3 4468.1H2800.9V4481.6H2786.3ZM2786.3 4414H2800.9V4427.5H2786.3ZM2800.9 4441.1H2815.5V4454.6H2800.9ZM2800.9 4400.5H2815.5V4414H2800.9ZM2830.1 4522.2H2844.7V4535.7H2830.1ZM2830.1 4468.1H2844.7V4508.7H2830.1ZM2830.1 4400.5H2844.7V4441.1H2830.1ZM2844.7 4522.2H2859.3V4535.7H2844.7ZM2844.7 4468.1H2859.3V4481.6H2844.7ZM2844.7 4427.5H2859.3V4441.1H2844.7ZM2844.7 4400.5H2859.3V4414H2844.7ZM2859.3 4468.1H2874V4481.6H2859.3ZM2859.3 4373.5H2874V4387H2859.3ZM2874 4522.2H2888.6V4535.7H2874ZM2874 4481.6H2888.6V4508.7H2874ZM2874 4454.6H2888.6V4468.1H2874ZM2874 4359.9H2888.6V4373.5H2874ZM2888.6 4481.6H2903.2V4508.7H2888.6ZM2888.6 4400.5H2903.2V4427.5H2888.6ZM2903.2 4481.6H2917.8V4495.1H2903.2ZM2917.8 4481.6H2932.4V4535.7H2917.8ZM2917.8 4414H2932.4V4468.1H2917.8ZM2932.4 4427.5H2947V4441.1H2932.4ZM2947 4468.1H2961.7V4481.6H2947ZM2947 4441.1H2961.7V4454.6H2947ZM2961.7 4468.1H2976.3V4481.6H2961.7ZM2961.7 4373.5H2976.3V4387H2961.7ZM2976.3 4468.1H2990.9V4508.7H2976.3ZM2976.3 4427.5H2990.9V4441.1H2976.3ZM2976.3 4373.5H2990.9V4414H2976.3ZM2990.9 4495.1H3005.5V4535.7H2990.9ZM2990.9 4414H3005.5V4454.6H2990.9ZM3005.5 4508.7H3012V4522.2H3005.5ZM3005.5 4441.1H3012V4481.6H3005.5Z"/>
<path fill="#9FFF60" d="M1690.1 4468.1H1704.7V4495.1H1690.1ZM1704.7 4454.6H1719.3V4468.1H1704.7ZM1719.3 4468.1H1733.9V4481.6H1719.3ZM1792.4 4481.6H1807V4495.1H1792.4ZM1792.4 4441.1H1807V4468.1H1792.4ZM1821.6 4522.2H1836.2V4535.7H1821.6ZM1821.6 4468.1H1836.2V4481.6H1821.6ZM1836.2 4454.6H1850.8V4468.1H1836.2ZM1865.4 4495.1H1880.1V4522.2H1865.4ZM1894.7 4427.5H1909.3V4441.1H1894.7ZM1923.9 4508.7H1938.5V4522.2H1923.9ZM1923.9 4400.5H1938.5V4414H1923.9ZM1953.1 4454.6H1967.8V4522.2H1953.1ZM1967.8 4522.2H1982.4V4535.7H1967.8ZM1967.8 4454.6H1982.4V4468.1H1967.8ZM1997 4522.2H2011.6V4535.7H1997ZM1997 4427.5H2011.6V4441.1H1997ZM2011.6 4522.2H2026.2V4535.7H2011.6ZM2026.2 4508.7H2040.8V4522.2H2026.2ZM2055.5 4495.1H2070.1V4508.7H2055.5ZM2055.5 4454.6H2070.1V4468.1H2055.5ZM2070.1 4468.1H2084.7V4481.6H2070.1ZM2070.1 4441.1H2084.7V4454.6H2070.1ZM2084.7 4495.1H2099.3V4508.7H2084.7ZM2084.7 4441.1H2099.3V4468.1H2084.7ZM2084.7 4400.5H2099.3V4414H2084.7ZM2099.3 4454.6H2113.9V4468.1H2099.3ZM2099.3 4400.5H2113.9V4414H2099.3ZM2113.9 4387H2128.5V4400.5H2113.9ZM2143.1 4427.5H2157.8V4441.1H2143.1ZM2157.8 4495.1H2172.4V4508.7H2157.8ZM2187 4454.6H2201.6V4468.1H2187ZM2201.6 4387H2216.2V4400.5H2201.6ZM2230.8 4495.1H2245.5V4508.7H2230.8ZM2230.8 4414H2245.5V4427.5H2230.8ZM2245.5 4414H2260.1V4427.5H2245.5ZM2260.1 4454.6H2274.7V4468.1H2260.1ZM2274.7 4359.9H2289.3V4373.5H2274.7ZM2289.3 4495.1H2303.9V4508.7H2289.3ZM2289.3 4454.6H2303.9V4468.1H2289.3ZM2303.9 4414H2318.5V4427.5H2303.9ZM2303.9 4359.9H2318.5V4400.5H2303.9ZM2377 4481.6H2391.6V4495.1H2377ZM2391.6 4495.1H2406.2V4508.7H2391.6ZM2391.6 4400.5H2406.2V4414H2391.6ZM2391.6 4373.5H2406.2V4387H2391.6ZM2435.5 4400.5H2450.1V4414H2435.5ZM2464.7 4522.2H2479.3V4535.7H2464.7ZM2479.3 4495.1H2493.9V4508.7H2479.3ZM2479.3 4468.1H2493.9V4481.6H2479.3ZM2523.2 4454.6H2537.8V4468.1H2523.2ZM2523.2 4400.5H2537.8V4414H2523.2ZM2523.2 4359.9H2537.8V4373.5H2523.2ZM2537.8 4522.2H2552.4V4535.7H2537.8ZM2537.8 4495.1H2552.4V4508.7H2537.8ZM2552.4 4481.6H2567V4508.7H2552.4ZM2567 4522.2H2581.6V4535.7H2567ZM2567 4387H2581.6V4400.5H2567ZM2581.6 4427.5H2596.2V4441.1H2581.6ZM2596.2 4400.5H2610.9V4414H2596.2ZM2610.9 4387H2625.5V4414H2610.9ZM2640.1 4414H2654.7V4427.5H2640.1ZM2669.3 4346.4H2683.9V4359.9H2669.3ZM2698.6 4332.9H2713.2V4346.4H2698.6ZM2727.8 4332.9H2742.4V4346.4H2727.8ZM2815.5 4468.1H2830.1V4481.6H2815.5ZM2830.1 4508.7H2844.7V4522.2H2830.1ZM2830.1 4441.1H2844.7V4454.6H2830.1ZM2830.1 4373.5H2844.7V4387H2830.1ZM2844.7 4495.1H2859.3V4522.2H2844.7ZM2844.7 4454.6H2859.3V4468.1H2844.7ZM2859.3 4481.6H2874V4508.7H2859.3ZM2874 4508.7H2888.6V4522.2H2874ZM2874 4468.1H2888.6V4481.6H2874ZM2888.6 4468.1H2903.2V4481.6H2888.6ZM2888.6 4427.5H2903.2V4441.1H2888.6ZM2903.2 4495.1H2917.8V4508.7H2903.2ZM2903.2 4468.1H2917.8V4481.6H2903.2ZM2903.2 4441.1H2917.8V4454.6H2903.2ZM2903.2 4414H2917.8V4427.5H2903.2ZM2932.4 4495.1H2947V4522.2H2932.4ZM2932.4 4441.1H2947V4454.6H2932.4ZM2932.4 4414H2947V4427.5H2932.4ZM2947 4481.6H2961.7V4495.1H2947ZM2947 4427.5H2961.7V4441.1H2947ZM2976.3 4508.7H2990.9V4535.7H2976.3ZM2976.3 4441.1H2990.9V4468.1H2976.3ZM2990.9 4454.6H3005.5V4468.1H2990.9ZM3005.5 4481.6H3012V4495.1H3005.5ZM3005.5 4414H3012V4427.5H3005.5Z"/>
<path fill="#AF0000" d="M564.6 4400.5H579.2V4414H564.6Z"/>
<path fill="#AFFF50" d="M535.4 4468.1H550V4495.1H535.4ZM637.7 4414H652.3V4427.5H637.7ZM740 4522.2H754.6V4535.7H740ZM988.5 4495.1H1003.1V4508.7H988.5ZM1017.7 4522.2H1032.3V4535.7H1017.7ZM1017.7 4468.1H1032.3V4481.6H1017.7ZM1032.3 4522.2H1046.9V4535.7H1032.3ZM1046.9 4522.2H1061.6V4535.7H1046.9ZM1076.2 4522.2H1090.8V4535.7H1076.2ZM1090.8 4522.2H1105.4V4535.7H1090.8ZM1090.8 4495.1H1105.4V4508.7H1090.8ZM1120 4454.6H1134.6V4481.6H1120ZM1120 4414H1134.6V4427.5H1120ZM1163.9 4495.1H1178.5V4522.2H1163.9ZM1193.1 4508.7H1207.7V4522.2H1193.1ZM1193.1 4468.1H1207.7V4481.6H1193.1ZM1251.6 4441.1H1266.2V4454.6H1251.6ZM1368.5 4522.2H1383.1V4535.7H1368.5ZM1383.1 4522.2H1397.7V4535.7H1383.1ZM1397.7 4522.2H1412.3V4535.7H1397.7ZM1412.3 4508.7H1427V4535.7H1412.3ZM1427 4508.7H1441.6V4535.7H1427ZM1573.1 4427.5H1587.7V4441.1H1573.1ZM1587.7 4481.6H1602.4V4495.1H1587.7ZM1602.4 4508.7H1617V4522.2H1602.4ZM1733.9 4495.1H1748.5V4508.7H1733.9ZM1792.4 4522.2H1807V4535.7H1792.4ZM1836.2 4495.1H1850.8V4522.2H1836.2ZM1850.8 4495.1H1865.4V4535.7H1850.8ZM1865.4 4481.6H1880.1V4495.1H1865.4ZM1865.4 4454.6H1880.1V4468.1H1865.4ZM1865.4 4427.5H1880.1V4441.1H1865.4ZM1894.7 4481.6H1909.3V4535.7H1894.7ZM1909.3 4522.2H1923.9V4535.7H1909.3ZM1909.3 4468.1H1923.9V4495.1H1909.3ZM1909.3 4441.1H1923.9V4454.6H1909.3ZM1997 4508.7H2011.6V4522.2H1997ZM1997 4468.1H2011.6V4495.1H1997ZM2070.1 4481.6H2084.7V4508.7H2070.1ZM2070.1 4454.6H2084.7V4468.1H2070.1ZM2070.1 4427.5H2084.7V4441.1H2070.1ZM2084.7 4468.1H2099.3V4481.6H2084.7ZM2099.3 4414H2113.9V4454.6H2099.3ZM2099.3 4387H2113.9V4400.5H2099.3ZM2128.5 4373.5H2143.1V4387H2128.5ZM2143.1 4522.2H2157.8V4535.7H2143.1ZM2157.8 4522.2H2172.4V4535.7H2157.8ZM2216.2 4414H2230.8V4427.5H2216.2ZM2216.2 4387H2230.8V4400.5H2216.2ZM2230.8 4387H2245.5V4400.5H2230.8ZM2245.5 4454.6H2260.1V4481.6H2245.5ZM2303.9 4508.7H2318.5V4535.7H2303.9ZM2391.6 4508.7H2406.2V4522.2H2391.6ZM2391.6 4454.6H2406.2V4495.1H2391.6ZM2508.6 4359.9H2523.2V4373.5H2508.6ZM2596.2 4468.1H2610.9V4495.1H2596.2ZM2669.3 4373.5H2683.9V4400.5H2669.3ZM2727.8 4414H2742.4V4427.5H2727.8ZM2815.5 4495.1H2830.1V4522.2H2815.5ZM2815.5 4454.6H2830.1V4468.1H2815.5ZM2815.5 4387H2830.1V4400.5H2815.5ZM2815.5 4359.9H2830.1V4373.5H2815.5ZM2888.6 4522.2H2903.2V4535.7H2888.6Z"/>
<path fill="#BF0000" d="M608.5 4400.5H623.1V4414H608.5Z"/>
<path fill="#BFFF40" d="M389.2 4508.7H403.8V4522.2H389.2ZM476.9 4495.1H491.5V4522.2H476.9ZM491.5 4508.7H506.1V4522.2H491.5ZM491.5 4454.6H506.1V4468.1H491.5ZM506.1 4454.6H520.8V4495.1H506.1ZM506.1 4414H520.8V4427.5H506.1ZM535.4 4454.6H550V4468.1H535.4ZM550 4454.6H564.6V4468.1H550ZM593.8 4414H608.5V4427.5H593.8ZM608.5 4508.7H623.1V4522.2H608.5ZM623.1 4454.6H637.7V4468.1H623.1ZM666.9 4400.5H681.5V4414H666.9ZM696.2 4387H710.8V4400.5H696.2ZM725.4 4522.2H740V4535.7H725.4ZM725.4 4400.5H740V4414H725.4ZM740 4427.5H754.6V4481.6H740ZM754.6 4508.7H769.2V4522.2H754.6ZM769.2 4468.1H783.9V4481.6H769.2ZM769.2 4387H783.9V4414H769.2ZM798.5 4495.1H813.1V4522.2H798.5ZM798.5 4441.1H813.1V4454.6H798.5ZM813.1 4522.2H827.7V4535.7H813.1ZM813.1 4427.5H827.7V4441.1H813.1ZM827.7 4522.2H842.3V4535.7H827.7ZM842.3 4468.1H856.9V4508.7H842.3ZM871.5 4400.5H886.2V4414H871.5ZM886.2 4508.7H900.8V4522.2H886.2ZM973.9 4454.6H988.5V4468.1H973.9ZM1003.1 4522.2H1017.7V4535.7H1003.1ZM1003.1 4454.6H1017.7V4481.6H1003.1ZM1017.7 4508.7H1032.3V4522.2H1017.7ZM1017.7 4454.6H1032.3V4468.1H1017.7ZM1032.3 4508.7H1046.9V4522.2H1032.3ZM1046.9 4495.1H1061.6V4508.7H1046.9ZM1046.9 4427.5H1061.6V4454.6H1046.9ZM1076.2 4468.1H1090.8V4508.7H1076.2ZM1105.4 4522.2H1120V4535.7H1105.4ZM1105.4 4481.6H1120V4495.1H1105.4ZM1120 4508.7H1134.6V4535.7H1120ZM1120 4481.6H1134.6V4495.1H1120ZM1134.6 4508.7H1149.3V4535.7H1134.6ZM1149.3 4522.2H1163.9V4535.7H1149.3ZM1163.9 4481.6H1178.5V4495.1H1163.9ZM1178.5 4508.7H1193.1V4535.7H1178.5ZM1193.1 4481.6H1207.7V4508.7H1193.1ZM1251.6 4427.5H1266.2V4441.1H1251.6ZM1280.8 4508.7H1295.4V4522.2H1280.8ZM1368.5 4508.7H1383.1V4522.2H1368.5ZM1383.1 4508.7H1397.7V4522.2H1383.1ZM1397.7 4508.7H1412.3V4522.2H1397.7ZM1485.4 4508.7H1500V4535.7H1485.4ZM1500 4495.1H1514.7V4508.7H1500ZM1543.9 4508.7H1558.5V4535.7H1543.9ZM1558.5 4522.2H1573.1V4535.7H1558.5ZM1558.5 4468.1H1573.1V4495.1H1558.5ZM1573.1 4454.6H1587.7V4495.1H1573.1ZM1617 4427.5H1631.6V4441.1H1617ZM1690.1 4508.7H1704.7V4535.7H1690.1ZM1704.7 4522.2H1719.3V4535.7H1704.7ZM1719.3 4481.6H1733.9V4495.1H1719.3ZM1792.4 4508.7H1807V4522.2H1792.4ZM1836.2 4522.2H1850.8V4535.7H1836.2ZM1850.8 4481.6H1865.4V4495.1H1850.8ZM1865.4 4522.2H1880.1V4535.7H1865.4ZM1865.4 4468.1H1880.1V4481.6H1865.4ZM1865.4 4441.1H1880.1V4454.6H1865.4ZM1894.7 4468.1H1909.3V4481.6H1894.7ZM1909.3 4495.1H1923.9V4522.2H1909.3ZM1909.3 4454.6H1923.9V4468.1H1909.3ZM1909.3 4427.5H1923.9V4441.1H1909.3ZM1938.5 4427.5H1953.1V4441.1H1938.5ZM1997 4495.1H2011.6V4508.7H1997ZM1997 4454.6H2011.6V4468.1H1997ZM2011.6 4454.6H2026.2V4522.2H2011.6ZM2070.1 4387H2084.7V4427.5H2070.1ZM2084.7 4481.6H2099.3V4495.1H2084.7ZM2099.3 4468.1H2113.9V4508.7H2099.3ZM2113.9 4508.7H2128.5V4522.2H2113.9ZM2113.9 4468.1H2128.5V4495.1H2113.9ZM2128.5 4495.1H2143.1V4522.2H2128.5ZM2128.5 4400.5H2143.1V4414H2128.5ZM2143.1 4508.7H2157.8V4522.2H2143.1ZM2143.1 4454.6H2157.8V4481.6H2143.1ZM2157.8 4508.7H2172.4V4522.2H2157.8ZM2172.4 4427.5H2187V4454.6H2172.4ZM2216.2 4454.6H2230.8V4495.1H2216.2ZM2216.2 4400.5H2230.8V4414H2216.2ZM2230.8 4508.7H2245.5V4535.7H2230.8ZM2230.8 4481.6H2245.5V4495.1H2230.8ZM2230.8 4400.5H2245.5V4414H2230.8ZM2245.5 4481.6H2260.1V4495.1H2245.5ZM2245.5 4427.5H2260.1V4454.6H2245.5ZM2245.5 4387H2260.1V4414H2245.5ZM2260.1 4522.2H2274.7V4535.7H2260.1ZM2260.1 4495.1H2274.7V4508.7H2260.1ZM2260.1 4468.1H2274.7V4481.6H2260.1ZM2289.3 4468.1H2303.9V4481.6H2289.3ZM2289.3 4441.1H2303.9V4454.6H2289.3ZM2289.3 4373.5H2303.9V4387H2289.3ZM2303.9 4427.5H2318.5V4454.6H2303.9ZM2303.9 4400.5H2318.5V4414H2303.9ZM2435.5 4373.5H2450.1V4387H2435.5ZM2450.1 4441.1H2464.7V4454.6H2450.1ZM2450.1 4359.9H2464.7V4373.5H2450.1ZM2464.7 4508.7H2479.3V4522.2H2464.7ZM2479.3 4481.6H2493.9V4495.1H2479.3ZM2552.4 4522.2H2567V4535.7H2552.4ZM2567 4414H2581.6V4427.5H2567ZM2596.2 4441.1H2610.9V4468.1H2596.2ZM2610.9 4359.9H2625.5V4373.5H2610.9ZM2669.3 4400.5H2683.9V4414H2669.3ZM2727.8 4400.5H2742.4V4414H2727.8ZM2742.4 4373.5H2757V4387H2742.4ZM2815.5 4522.2H2830.1V4535.7H2815.5ZM2815.5 4481.6H2830.1V4495.1H2815.5ZM2815.5 4441.1H2830.1V4454.6H2815.5ZM2815.5 4373.5H2830.1V4387H2815.5ZM2830.1 4454.6H2844.7V4468.1H2830.1ZM2830.1 4359.9H2844.7V4373.5H2830.1ZM2844.7 4346.4H2859.3V4359.9H2844.7ZM2888.6 4508.7H2903.2V4522.2H2888.6ZM2947 4495.1H2961.7V4508.7H2947ZM2990.9 4468.1H3005.5V4495.1H2990.9ZM3005.5 4522.2H3012V4535.7H3005.5Z"/>
<path fill="#CFFF30" d="M1690.1 4495.1H1704.7V4508.7H1690.1ZM1733.9 4522.2H1748.5V4535.7H1733.9ZM1792.4 4495.1H1807V4508.7H1792.4ZM1836.2 4468.1H1850.8V4481.6H1836.2ZM1894.7 4441.1H1909.3V4468.1H1894.7ZM1938.5 4468.1H1953.1V4481.6H1938.5ZM1938.5 4441.1H1953.1V4454.6H1938.5ZM2099.3 4508.7H2113.9V4522.2H2099.3ZM2113.9 4495.1H2128.5V4508.7H2113.9ZM2128.5 4522.2H2143.1V4535.7H2128.5ZM2128.5 4481.6H2143.1V4495.1H2128.5ZM2128.5 4387H2143.1V4400.5H2128.5ZM2143.1 4481.6H2157.8V4508.7H2143.1ZM2157.8 4481.6H2172.4V4495.1H2157.8ZM2157.8 4427.5H2172.4V4454.6H2157.8ZM2172.4 4508.7H2187V4535.7H2172.4ZM2172.4 4454.6H2187V4468.1H2172.4ZM2187 4468.1H2201.6V4481.6H2187ZM2187 4427.5H2201.6V4454.6H2187ZM2201.6 4508.7H2216.2V4522.2H2201.6ZM2201.6 4468.1H2216.2V4481.6H2201.6ZM2216.2 4522.2H2230.8V4535.7H2216.2ZM2216.2 4427.5H2230.8V4454.6H2216.2ZM2245.5 4495.1H2260.1V4522.2H2245.5ZM2260.1 4508.7H2274.7V4522.2H2260.1ZM2260.1 4481.6H2274.7V4495.1H2260.1ZM2289.3 4427.5H2303.9V4441.1H2289.3ZM2289.3 4387H2303.9V4400.5H2289.3ZM2493.9 4522.2H2508.6V4535.7H2493.9ZM2523.2 4468.1H2537.8V4508.7H2523.2ZM2567 4468.1H2581.6V4481.6H2567ZM2567 4441.1H2581.6V4454.6H2567ZM2581.6 4495.1H2596.2V4508.7H2581.6ZM2581.6 4414H2596.2V4427.5H2581.6ZM2683.9 4373.5H2698.6V4387H2683.9ZM2727.8 4387H2742.4V4400.5H2727.8ZM2727.8 4346.4H2742.4V4373.5H2727.8ZM2844.7 4387H2859.3V4400.5H2844.7ZM2888.6 4387H2903.2V4400.5H2888.6ZM2903.2 4508.7H2917.8V4522.2H2903.2Z"/>
<path fill="#DFFF20" d="M623.1 4508.7H637.7V4522.2H623.1ZM1003.1 4495.1H1017.7V4508.7H1003.1ZM1061.6 4468.1H1076.2V4495.1H1061.6ZM1076.2 4508.7H1090.8V4522.2H1076.2ZM1134.6 4400.5H1149.3V4414H1134.6ZM1178.5 4441.1H1193.1V4454.6H1178.5ZM1178.5 4400.5H1193.1V4414H1178.5ZM1558.5 4508.7H1573.1V4522.2H1558.5ZM1719.3 4508.7H1733.9V4522.2H1719.3ZM1733.9 4508.7H1748.5V4522.2H1733.9ZM1923.9 4414H1938.5V4427.5H1923.9ZM1938.5 4481.6H1953.1V4522.2H1938.5ZM1938.5 4454.6H1953.1V4468.1H1938.5ZM2113.9 4441.1H2128.5V4454.6H2113.9ZM2113.9 4400.5H2128.5V4414H2113.9ZM2128.5 4454.6H2143.1V4481.6H2128.5ZM2157.8 4468.1H2172.4V4481.6H2157.8ZM2172.4 4468.1H2187V4495.1H2172.4ZM2201.6 4373.5H2216.2V4387H2201.6ZM2245.5 4522.2H2260.1V4535.7H2245.5ZM2289.3 4359.9H2303.9V4373.5H2289.3ZM2303.9 4481.6H2318.5V4508.7H2303.9ZM2303.9 4454.6H2318.5V4468.1H2303.9ZM2435.5 4387H2450.1V4400.5H2435.5ZM2552.4 4508.7H2567V4522.2H2552.4ZM2567 4508.7H2581.6V4522.2H2567ZM2567 4454.6H2581.6V4468.1H2567ZM2581.6 4508.7H2596.2V4522.2H2581.6ZM2815.5 4427.5H2830.1V4441.1H2815.5ZM2815.5 4400.5H2830.1V4414H2815.5Z"/>
<path fill="#EFFF10" d="M389.2 4495.1H403.8V4508.7H389.2ZM476.9 4481.6H491.5V4495.1H476.9ZM491.5 4495.1H506.1V4508.7H491.5ZM491.5 4468.1H506.1V4481.6H491.5ZM506.1 4427.5H520.8V4454.6H506.1ZM550 4400.5H564.6V4414H550ZM681.5 4400.5H696.2V4414H681.5ZM725.4 4495.1H740V4522.2H725.4ZM725.4 4454.6H740V4481.6H725.4ZM783.9 4427.5H798.5V4441.1H783.9ZM798.5 4454.6H813.1V4468.1H798.5ZM813.1 4508.7H827.7V4522.2H813.1ZM813.1 4441.1H827.7V4454.6H813.1ZM827.7 4481.6H842.3V4495.1H827.7ZM842.3 4508.7H856.9V4535.7H842.3ZM871.5 4522.2H886.2V4535.7H871.5ZM886.2 4454.6H900.8V4481.6H886.2ZM886.2 4400.5H900.8V4414H886.2ZM1003.1 4481.6H1017.7V4495.1H1003.1ZM1003.1 4427.5H1017.7V4441.1H1003.1ZM1046.9 4508.7H1061.6V4522.2H1046.9ZM1061.6 4495.1H1076.2V4522.2H1061.6ZM1090.8 4508.7H1105.4V4522.2H1090.8ZM1105.4 4495.1H1120V4522.2H1105.4ZM1134.6 4495.1H1149.3V4508.7H1134.6ZM1149.3 4481.6H1163.9V4522.2H1149.3ZM1178.5 4468.1H1193.1V4508.7H1178.5ZM1529.3 4508.7H1543.9V4522.2H1529.3ZM1543.9 4495.1H1558.5V4508.7H1543.9ZM1587.7 4508.7H1602.4V4522.2H1587.7ZM1675.4 4468.1H1690.1V4481.6H1675.4ZM1719.3 4522.2H1733.9V4535.7H1719.3ZM1836.2 4481.6H1850.8V4495.1H1836.2ZM1938.5 4522.2H1953.1V4535.7H1938.5ZM2070.1 4508.7H2084.7V4522.2H2070.1ZM2084.7 4508.7H2099.3V4522.2H2084.7ZM2113.9 4454.6H2128.5V4468.1H2113.9ZM2128.5 4414H2143.1V4454.6H2128.5ZM2157.8 4454.6H2172.4V4468.1H2157.8ZM2172.4 4373.5H2187V4387H2172.4ZM2187 4508.7H2201.6V4535.7H2187ZM2187 4481.6H2201.6V4495.1H2187ZM2201.6 4481.6H2216.2V4508.7H2201.6ZM2201.6 4454.6H2216.2V4468.1H2201.6ZM2289.3 4400.5H2303.9V4427.5H2289.3ZM2303.9 4468.1H2318.5V4481.6H2303.9ZM2523.2 4508.7H2537.8V4522.2H2523.2ZM2567 4481.6H2581.6V4508.7H2567ZM2727.8 4373.5H2742.4V4387H2727.8ZM2815.5 4414H2830.1V4427.5H2815.5ZM2903.2 4522.2H2917.8V4535.7H2903.2Z"/>
<path fill="#FF3000" d="M593.8 4400.5H608.5V4414H593.8Z"/>
<path fill="#FF7000" d="M754.6 4481.6H769.2V4495.1H754.6ZM871.5 4481.6H886.2V4495.1H871.5ZM886.2 4427.5H900.8V4441.1H886.2ZM2830.1 4346.4H2844.7V4359.9H2830.1Z"/>
<path fill="#FFBF00" d="M374.6 4495.1H389.2V4508.7H374.6ZM476.9 4468.1H491.5V4481.6H476.9ZM725.4 4414H740V4441.1H725.4ZM813.1 4454.6H827.7V4495.1H813.1ZM813.1 4387H827.7V4400.5H813.1ZM871.5 4495.1H886.2V4522.2H871.5ZM871.5 4441.1H886.2V4481.6H871.5ZM886.2 4441.1H900.8V4454.6H886.2ZM886.2 4414H900.8V4427.5H886.2ZM1003.1 4400.5H1017.7V4414H1003.1ZM1046.9 4468.1H1061.6V4481.6H1046.9ZM2040.8 4387H2055.5V4400.5H2040.8ZM2683.9 4346.4H2698.6V4359.9H2683.9ZM2947 4400.5H2961.7V4414H2947Z"/>
<path fill="#FFCF00" d="M827.7 4495.1H842.3V4508.7H827.7ZM871.5 4414H886.2V4427.5H871.5Z"/>
<path fill="#FFEF00" d="M476.9 4441.1H491.5V4468.1H476.9ZM491.5 4481.6H506.1V4495.1H491.5ZM725.4 4441.1H740V4454.6H725.4ZM740 4495.1H754.6V4508.7H740ZM813.1 4495.1H827.7V4508.7H813.1ZM827.7 4508.7H842.3V4522.2H827.7ZM871.5 4427.5H886.2V4441.1H871.5ZM1003.1 4508.7H1017.7V4522.2H1003.1ZM1558.5 4495.1H1573.1V4508.7H1558.5ZM1719.3 4495.1H1733.9V4508.7H1719.3ZM2113.9 4414H2128.5V4441.1H2113.9ZM2523.2 4522.2H2537.8V4535.7H2523.2ZM2567 4427.5H2581.6V4441.1H2567ZM2625.5 4346.4H2640.1V4359.9H2625.5Z"/>
<path fill="#FFFF00" d="M725.4 4481.6H740V4495.1H725.4ZM740 4508.7H754.6V4522.2H740ZM740 4481.6H754.6V4495.1H740ZM798.5 4468.1H813.1V4495.1H798.5ZM2172.4 4495.1H2187V4508.7H2172.4ZM2187 4495.1H2201.6V4508.7H2187ZM2201.6 4522.2H2216.2V4535.7H2201.6ZM2216.2 4495.1H2230.8V4522.2H2216.2ZM2683.9 4359.9H2698.6V4373.5H2683.9Z"/>
</g>
<g fill="#000" clip-path="url(#cp0)">
<circle cx="381.9" cy="1101.7" r="4.2"/><circle cx="396.5" cy="1082.1" r="4.2"/><circle cx="396.5" cy="1141" r="4.2"/><circle cx="455" cy="1170.6" r="4.2"/><circle cx="469.6" cy="1167" r="4.2"/><circle cx="484.2" cy="1163.6" r="4.2"/><circle cx="498.8" cy="1155.6" r="4.2"/><circle cx="513.5" cy="1135.6" r="4.2"/><circle cx="528.1" cy="1133" r="4.2"/><circle cx="542.7" cy="1126.3" r="4.2"/><circle cx="557.3" cy="1111.7" r="4.2"/><circle cx="571.9" cy="1068.8" r="4.2"/><circle cx="586.5" cy="1095" r="4.2"/><circle cx="601.1" cy="1128.9" r="4.2"/><circle cx="615.8" cy="1153.3" r="4.2"/><circle cx="630.4" cy="1120.7" r="4.2"/><circle cx="645" cy="1072.4" r="4.2"/><circle cx="645" cy="1159.2" r="4.2"/><circle cx="659.6" cy="1069" r="4.2"/><circle cx="674.2" cy="1098.3" r="4.2"/><circle cx="688.8" cy="1100.6" r="4.2"/><circle cx="703.5" cy="1141" r="4.2"/><circle cx="718.1" cy="1160.3" r="4.2"/><circle cx="732.7" cy="1172.9" r="4.2"/><circle cx="747.3" cy="1174.9" r="4.2"/><circle cx="761.9" cy="1175.9" r="4.2"/><circle cx="776.5" cy="1178.5" r="4.2"/><circle cx="791.2" cy="1152.6" r="4.2"/><circle cx="805.8" cy="1176.7" r="4.2"/><circle cx="820.4" cy="1178.5" r="4.2"/><circle cx="835" cy="1179.3" r="4.2"/><circle cx="849.6" cy="1181.3" r="4.2"/><circle cx="864.2" cy="1181.3" r="4.2"/><circle cx="878.9" cy="1181.3" r="4.2"/><circle cx="893.5" cy="1181.3" r="4.2"/><circle cx="908.1" cy="1181.3" r="4.2"/><circle cx="922.7" cy="1179.5" r="4.2"/><circle cx="937.3" cy="1175.9" r="4.2"/><circle cx="951.9" cy="1171.6" r="4.2"/><circle cx="966.6" cy="1174.7" r="4.2"/><circle cx="981.2" cy="1175.9" r="4.2"/><circle cx="995.8" cy="1177" r="4.2"/><circle cx="1010.4" cy="1181.3" r="4.2"/><circle cx="1025" cy="1181.3" r="4.2"/><circle cx="1039.6" cy="1177" r="4.2"/><circle cx="1054.2" cy="1177" r="4.2"/><circle cx="1068.9" cy="1181.3" r="4.2"/><circle cx="1083.5" cy="1180.3" r="4.2"/><circle cx="1098.1" cy="1179.5" r="4.2"/><circle cx="1112.7" cy="1180.3" r="4.2"/><circle cx="1127.3" cy="1181.3" r="4.2"/><circle cx="1141.9" cy="1174.9" r="4.2"/><circle cx="1156.6" cy="1177" r="4.2"/><circle cx="1171.2" cy="1179.5" r="4.2"/><circle cx="1185.8" cy="1179.5" r="4.2"/><circle cx="1200.4" cy="1179.5" r="4.2"/><circle cx="1215" cy="1172.6" r="4.2"/><circle cx="922.7" cy="1106" r="4.2"/><circle cx="937.3" cy="1107.3" r="4.2"/><circle cx="951.9" cy="1093.7" r="4.2"/><circle cx="966.6" cy="1078" r="4.2"/><circle cx="995.8" cy="1071.1" r="4.2"/><circle cx="1215" cy="1071.3" r="4.2"/><circle cx="1229.6" cy="1062.1" r="4.2"/><circle cx="1244.3" cy="1057.7" r="4.2"/><circle cx="1258.9" cy="1083.4" r="4.2"/><circle cx="1258.9" cy="1172.9" r="4.2"/><circle cx="1273.5" cy="1174.7" r="4.2"/><circle cx="1288.1" cy="1177" r="4.2"/><circle cx="1302.7" cy="1177" r="4.2"/><circle cx="1317.3" cy="1177" r="4.2"/><circle cx="1332" cy="1172.9" r="4.2"/><circle cx="1346.6" cy="1171.6" r="4.2"/><circle cx="1346.6" cy="1116.3" r="4.2"/><circle cx="1361.2" cy="1171.6" r="4.2"/><circle cx="1375.8" cy="1175.9" r="4.2"/><circle cx="1390.4" cy="1174.7" r="4.2"/><circle cx="1405" cy="1172.9" r="4.2"/><circle cx="1419.7" cy="1175.9" r="4.2"/><circle cx="1434.3" cy="1174.7" r="4.2"/><circle cx="1448.9" cy="1170.3" r="4.2"/><circle cx="1463.5" cy="1169" r="4.2"/><circle cx="1478.1" cy="1162.3" r="4.2"/><circle cx="1492.7" cy="1165.9" r="4.2"/><circle cx="1507.3" cy="1163.6" r="4.2"/><circle cx="1522" cy="1172.9" r="4.2"/><circle cx="1536.6" cy="1172.9" r="4.2"/><circle cx="1551.2" cy="1172.9" r="4.2"/><circle cx="1565.8" cy="1170.3" r="4.2"/><circle cx="1580.4" cy="1165.9" r="4.2"/><circle cx="1595" cy="1163.6" r="4.2"/><circle cx="1609.7" cy="1152.3" r="4.2"/><circle cx="1624.3" cy="1147.7" r="4.2"/><circle cx="1638.9" cy="1153.3" r="4.2"/><circle cx="1653.5" cy="1165.9" r="4.2"/><circle cx="1668.1" cy="1169" r="4.2"/><circle cx="1682.7" cy="1170.3" r="4.2"/><circle cx="1697.4" cy="1172.9" r="4.2"/><circle cx="1712" cy="1172.9" r="4.2"/><circle cx="1726.6" cy="1170.3" r="4.2"/><circle cx="1741.2" cy="1165.9" r="4.2"/><circle cx="1755.8" cy="1162.3" r="4.2"/><circle cx="1770.4" cy="1165.9" r="4.2"/><circle cx="1785.1" cy="1165.9" r="4.2"/><circle cx="1799.7" cy="1168" r="4.2"/><circle cx="1814.3" cy="1164.9" r="4.2"/><circle cx="1828.9" cy="1163.9" r="4.2"/><circle cx="1843.5" cy="1163.6" r="4.2"/><circle cx="1858.1" cy="1156.9" r="4.2"/><circle cx="1872.8" cy="1159.2" r="4.2"/><circle cx="1887.4" cy="1160.3" r="4.2"/><circle cx="1902" cy="1163.6" r="4.2"/><circle cx="1916.6" cy="1163.6" r="4.2"/><circle cx="1931.2" cy="1163.6" r="4.2"/><circle cx="1945.8" cy="1161.3" r="4.2"/><circle cx="1960.4" cy="1161.3" r="4.2"/><circle cx="1975.1" cy="1154.4" r="4.2"/><circle cx="1989.7" cy="1150" r="4.2"/><circle cx="2004.3" cy="1146.6" r="4.2"/><circle cx="2018.9" cy="1142.3" r="4.2"/><circle cx="2033.5" cy="1138.7" r="4.2"/><circle cx="2048.1" cy="1147.7" r="4.2"/><circle cx="2062.8" cy="1145.4" r="4.2"/><circle cx="2077.4" cy="1142.3" r="4.2"/><circle cx="2092" cy="1141" r="4.2"/><circle cx="2106.6" cy="1128.7" r="4.2"/><circle cx="2121.2" cy="1127.6" r="4.2"/><circle cx="2135.8" cy="1145.4" r="4.2"/><circle cx="2150.5" cy="1152.3" r="4.2"/><circle cx="2165.1" cy="1154.4" r="4.2"/><circle cx="2179.7" cy="1160.3" r="4.2"/><circle cx="2194.3" cy="1161.3" r="4.2"/><circle cx="2208.9" cy="1161.3" r="4.2"/><circle cx="2223.5" cy="1159.2" r="4.2"/><circle cx="2238.2" cy="1152.3" r="4.2"/><circle cx="2252.8" cy="1154.4" r="4.2"/><circle cx="2267.4" cy="1152.3" r="4.2"/><circle cx="2282" cy="1134.1" r="4.2"/><circle cx="2296.6" cy="1141" r="4.2"/><circle cx="2311.2" cy="1152.3" r="4.2"/><circle cx="2325.9" cy="1138.7" r="4.2"/><circle cx="2340.5" cy="1130.7" r="4.2"/><circle cx="2355.1" cy="1130.7" r="4.2"/><circle cx="2369.7" cy="1150" r="4.2"/><circle cx="2384.3" cy="1147.7" r="4.2"/><circle cx="2398.9" cy="1144.3" r="4.2"/><circle cx="2413.5" cy="1119.4" r="4.2"/><circle cx="2428.2" cy="1150" r="4.2"/><circle cx="2442.8" cy="1131.7" r="4.2"/><circle cx="2457.4" cy="1138.7" r="4.2"/><circle cx="2472" cy="1117.1" r="4.2"/><circle cx="2486.6" cy="1137.7" r="4.2"/><circle cx="2501.2" cy="1116.1" r="4.2"/><circle cx="2515.9" cy="1109.4" r="4.2"/><circle cx="2530.5" cy="1147.7" r="4.2"/><circle cx="2545.1" cy="1107.3" r="4.2"/><circle cx="2559.7" cy="1151.3" r="4.2"/><circle cx="2574.3" cy="1152.3" r="4.2"/><circle cx="2588.9" cy="1154.4" r="4.2"/><circle cx="2603.6" cy="1152.3" r="4.2"/><circle cx="2618.2" cy="1152.3" r="4.2"/><circle cx="2632.8" cy="1149" r="4.2"/><circle cx="2647.4" cy="1142.3" r="4.2"/><circle cx="2662" cy="1134.1" r="4.2"/><circle cx="2676.6" cy="1143.6" r="4.2"/><circle cx="2691.3" cy="1145.6" r="4.2"/><circle cx="2705.9" cy="1144.3" r="4.2"/><circle cx="2720.5" cy="1150" r="4.2"/><circle cx="2735.1" cy="1150" r="4.2"/><circle cx="2749.7" cy="1147.7" r="4.2"/><circle cx="2764.3" cy="1141" r="4.2"/><circle cx="2779" cy="1140" r="4.2"/><circle cx="2793.6" cy="1123" r="4.2"/><circle cx="2808.2" cy="1114" r="4.2"/><circle cx="2822.8" cy="1135.3" r="4.2"/><circle cx="2837.4" cy="1134.1" r="4.2"/><circle cx="2852" cy="1143.3" r="4.2"/><circle cx="2866.6" cy="1131.7" r="4.2"/><circle cx="2881.3" cy="1127.4" r="4.2"/><circle cx="2895.9" cy="1136.6" r="4.2"/><circle cx="2910.5" cy="1123" r="4.2"/><circle cx="2925.1" cy="1137.7" r="4.2"/><circle cx="2939.7" cy="1125.1" r="4.2"/><circle cx="2954.3" cy="1106" r="4.2"/><circle cx="2969" cy="1118.4" r="4.2"/><circle cx="2983.6" cy="1137.7" r="4.2"/><circle cx="2998.2" cy="1138.7" r="4.2"/><circle cx="3012" cy="1135.4" r="4.2"/>
</g>
<g fill="#000" clip-path="url(#cp1)">
<circle cx="381.9" cy="2225.2" r="4.2"/><circle cx="396.5" cy="2205.6" r="4.2"/><circle cx="396.5" cy="2264.5" r="4.2"/><circle cx="455" cy="2294.1" r="4.2"/><circle cx="469.6" cy="2290.5" r="4.2"/><circle cx="484.2" cy="2287.1" r="4.2"/><circle cx="498.8" cy="2279.1" r="4.2"/><circle cx="513.5" cy="2259.1" r="4.2"/><circle cx="528.1" cy="2256.5" r="4.2"/><circle cx="542.7" cy="2249.8" r="4.2"/><circle cx="557.3" cy="2235.2" r="4.2"/><circle cx="571.9" cy="2192.3" r="4.2"/><circle cx="586.5" cy="2218.5" r="4.2"/><circle cx="601.1" cy="2252.4" r="4.2"/><circle cx="615.8" cy="2276.8" r="4.2"/><circle cx="630.4" cy="2244.2" r="4.2"/><circle cx="645" cy="2195.9" r="4.2"/><circle cx="645" cy="2282.7" r="4.2"/><circle cx="659.6" cy="2192.5" r="4.2"/><circle cx="674.2" cy="2221.8" r="4.2"/><circle cx="688.8" cy="2224.1" r="4.2"/><circle cx="703.5" cy="2264.5" r="4.2"/><circle cx="718.1" cy="2283.8" r="4.2"/><circle cx="732.7" cy="2296.4" r="4.2"/><circle cx="747.3" cy="2298.4" r="4.2"/><circle cx="761.9" cy="2299.4" r="4.2"/><circle cx="776.5" cy="2302" r="4.2"/><circle cx="791.2" cy="2276.1" r="4.2"/><circle cx="805.8" cy="2300.2" r="4.2"/><circle cx="820.4" cy="2302" r="4.2"/><circle cx="835" cy="2302.8" r="4.2"/><circle cx="849.6" cy="2304.8" r="4.2"/><circle cx="864.2" cy="2304.8" r="4.2"/><circle cx="878.9" cy="2304.8" r="4.2"/><circle cx="893.5" cy="2304.8" r="4.2"/><circle cx="908.1" cy="2304.8" r="4.2"/><circle cx="922.7" cy="2303" r="4.2"/><circle cx="937.3" cy="2299.4" r="4.2"/><circle cx="951.9" cy="2295.1" r="4.2"/><circle cx="966.6" cy="2298.2" r="4.2"/><circle cx="981.2" cy="2299.4" r="4.2"/><circle cx="995.8" cy="2300.5" r="4.2"/><circle cx="1010.4" cy="2304.8" r="4.2"/><circle cx="1025" cy="2304.8" r="4.2"/><circle cx="1039.6" cy="2300.5" r="4.2"/><circle cx="1054.2" cy="2300.5" r="4.2"/><circle cx="1068.9" cy="2304.8" r="4.2"/><circle cx="1083.5" cy="2303.8" r="4.2"/><circle cx="1098.1" cy="2303" r="4.2"/><circle cx="1112.7" cy="2303.8" r="4.2"/><circle cx="1127.3" cy="2304.8" r="4.2"/><circle cx="1141.9" cy="2298.4" r="4.2"/><circle cx="1156.6" cy="2300.5" r="4.2"/><circle cx="1171.2" cy="2303" r="4.2"/><circle cx="1185.8" cy="2303" r="4.2"/><circle cx="1200.4" cy="2303" r="4.2"/><circle cx="1215" cy="2296.1" r="4.2"/><circle cx="922.7" cy="2229.5" r="4.2"/><circle cx="937.3" cy="2230.8" r="4.2"/><circle cx="951.9" cy="2217.2" r="4.2"/><circle cx="966.6" cy="2201.5" r="4.2"/><circle cx="995.8" cy="2194.6" r="4.2"/><circle cx="1215" cy="2194.8" r="4.2"/><circle cx="1229.6" cy="2185.6" r="4.2"/><circle cx="1244.3" cy="2181.2" r="4.2"/><circle cx="1258.9" cy="2206.9" r="4.2"/><circle cx="1258.9" cy="2296.4" r="4.2"/><circle cx="1273.5" cy="2298.2" r="4.2"/><circle cx="1288.1" cy="2300.5" r="4.2"/><circle cx="1302.7" cy="2300.5" r="4.2"/><circle cx="1317.3" cy="2300.5" r="4.2"/><circle cx="1332" cy="2296.4" r="4.2"/><circle cx="1346.6" cy="2295.1" r="4.2"/><circle cx="1346.6" cy="2239.8" r="4.2"/><circle cx="1361.2" cy="2295.1" r="4.2"/><circle cx="1375.8" cy="2299.4" r="4.2"/><circle cx="1390.4" cy="2298.2" r="4.2"/><circle cx="1405" cy="2296.4" r="4.2"/><circle cx="1419.7" cy="2299.4" r="4.2"/><circle cx="1434.3" cy="2298.2" r="4.2"/><circle cx="1448.9" cy="2293.8" r="4.2"/><circle cx="1463.5" cy="2292.5" r="4.2"/><circle cx="1478.1" cy="2285.8" r="4.2"/><circle cx="1492.7" cy="2289.4" r="4.2"/><circle cx="1507.3" cy="2287.1" r="4.2"/><circle cx="1522" cy="2296.4" r="4.2"/><circle cx="1536.6" cy="2296.4" r="4.2"/><circle cx="1551.2" cy="2296.4" r="4.2"/><circle cx="1565.8" cy="2293.8" r="4.2"/><circle cx="1580.4" cy="2289.4" r="4.2"/><circle cx="1595" cy="2287.1" r="4.2"/><circle cx="1609.7" cy="2275.8" r="4.2"/><circle cx="1624.3" cy="2271.2" r="4.2"/><circle cx="1638.9" cy="2276.8" r="4.2"/><circle cx="1653.5" cy="2289.4" r="4.2"/><circle cx="1668.1" cy="2292.5" r="4.2"/><circle cx="1682.7" cy="2293.8" r="4.2"/><circle cx="1697.4" cy="2296.4" r="4.2"/><circle cx="1712" cy="2296.4" r="4.2"/><circle cx="1726.6" cy="2293.8" r="4.2"/><circle cx="1741.2" cy="2289.4" r="4.2"/><circle cx="1755.8" cy="2285.8" r="4.2"/><circle cx="1770.4" cy="2289.4" r="4.2"/><circle cx="1785.1" cy="2289.4" r="4.2"/><circle cx="1799.7" cy="2291.5" r="4.2"/><circle cx="1814.3" cy="2288.4" r="4.2"/><circle cx="1828.9" cy="2287.4" r="4.2"/><circle cx="1843.5" cy="2287.1" r="4.2"/><circle cx="1858.1" cy="2280.4" r="4.2"/><circle cx="1872.8" cy="2282.7" r="4.2"/><circle cx="1887.4" cy="2283.8" r="4.2"/><circle cx="1902" cy="2287.1" r="4.2"/><circle cx="1916.6" cy="2287.1" r="4.2"/><circle cx="1931.2" cy="2287.1" r="4.2"/><circle cx="1945.8" cy="2284.8" r="4.2"/><circle cx="1960.4" cy="2284.8" r="4.2"/><circle cx="1975.1" cy="2277.9" r="4.2"/><circle cx="1989.7" cy="2273.5" r="4.2"/><circle cx="2004.3" cy="2270.1" r="4.2"/><circle cx="2018.9" cy="2265.8" r="4.2"/><circle cx="2033.5" cy="2262.2" r="4.2"/><circle cx="2048.1" cy="2271.2" r="4.2"/><circle cx="2062.8" cy="2268.9" r="4.2"/><circle cx="2077.4" cy="2265.8" r="4.2"/><circle cx="2092" cy="2264.5" r="4.2"/><circle cx="2106.6" cy="2252.2" r="4.2"/><circle cx="2121.2" cy="2251.1" r="4.2"/><circle cx="2135.8" cy="2268.9" r="4.2"/><circle cx="2150.5" cy="2275.8" r="4.2"/><circle cx="2165.1" cy="2277.9" r="4.2"/><circle cx="2179.7" cy="2283.8" r="4.2"/><circle cx="2194.3" cy="2284.8" r="4.2"/><circle cx="2208.9" cy="2284.8" r="4.2"/><circle cx="2223.5" cy="2282.7" r="4.2"/><circle cx="2238.2" cy="2275.8" r="4.2"/><circle cx="2252.8" cy="2277.9" r="4.2"/><circle cx="2267.4" cy="2275.8" r="4.2"/><circle cx="2282" cy="2257.6" r="4.2"/><circle cx="2296.6" cy="2264.5" r="4.2"/><circle cx="2311.2" cy="2275.8" r="4.2"/><circle cx="2325.9" cy="2262.2" r="4.2"/><circle cx="2340.5" cy="2254.2" r="4.2"/><circle cx="2355.1" cy="2254.2" r="4.2"/><circle cx="2369.7" cy="2273.5" r="4.2"/><circle cx="2384.3" cy="2271.2" r="4.2"/><circle cx="2398.9" cy="2267.8" r="4.2"/><circle cx="2413.5" cy="2242.9" r="4.2"/><circle cx="2428.2" cy="2273.5" r="4.2"/><circle cx="2442.8" cy="2255.2" r="4.2"/><circle cx="2457.4" cy="2262.2" r="4.2"/><circle cx="2472" cy="2240.6" r="4.2"/><circle cx="2486.6" cy="2261.2" r="4.2"/><circle cx="2501.2" cy="2239.6" r="4.2"/><circle cx="2515.9" cy="2232.9" r="4.2"/><circle cx="2530.5" cy="2271.2" r="4.2"/><circle cx="2545.1" cy="2230.8" r="4.2"/><circle cx="2559.7" cy="2274.8" r="4.2"/><circle cx="2574.3" cy="2275.8" r="4.2"/><circle cx="2588.9" cy="2277.9" r="4.2"/><circle cx="2603.6" cy="2275.8" r="4.2"/><circle cx="2618.2" cy="2275.8" r="4.2"/><circle cx="2632.8" cy="2272.5" r="4.2"/><circle cx="2647.4" cy="2265.8" r="4.2"/><circle cx="2662" cy="2257.6" r="4.2"/><circle cx="2676.6" cy="2267.1" r="4.2"/><circle cx="2691.3" cy="2269.1" r="4.2"/><circle cx="2705.9" cy="2267.8" r="4.2"/><circle cx="2720.5" cy="2273.5" r="4.2"/><circle cx="2735.1" cy="2273.5" r="4.2"/><circle cx="2749.7" cy="2271.2" r="4.2"/><circle cx="2764.3" cy="2264.5" r="4.2"/><circle cx="2779" cy="2263.5" r="4.2"/><circle cx="2793.6" cy="2246.5" r="4.2"/><circle cx="2808.2" cy="2237.5" r="4.2"/><circle cx="2822.8" cy="2258.8" r="4.2"/><circle cx="2837.4" cy="2257.6" r="4.2"/><circle cx="2852" cy="2266.8" r="4.2"/><circle cx="2866.6" cy="2255.2" r="4.2"/><circle cx="2881.3" cy="2250.9" r="4.2"/><circle cx="2895.9" cy="2260.1" r="4.2"/><circle cx="2910.5" cy="2246.5" r="4.2"/><circle cx="2925.1" cy="2261.2" r="4.2"/><circle cx="2939.7" cy="2248.6" r="4.2"/><circle cx="2954.3" cy="2229.5" r="4.2"/><circle cx="2969" cy="2241.9" r="4.2"/><circle cx="2983.6" cy="2261.2" r="4.2"/><circle cx="2998.2" cy="2262.2" r="4.2"/><circle cx="3012" cy="2258.9" r="4.2"/>
</g>
<g fill="#000" clip-path="url(#cp2)">
<circle cx="381.9" cy="3355.3" r="4.2"/><circle cx="396.5" cy="3335.7" r="4.2"/><circle cx="396.5" cy="3394.6" r="4.2"/><circle cx="455" cy="3424.2" r="4.2"/><circle cx="469.6" cy="3420.6" r="4.2"/><circle cx="484.2" cy="3417.2" r="4.2"/><circle cx="498.8" cy="3409.2" r="4.2"/><circle cx="513.5" cy="3389.2" r="4.2"/><circle cx="528.1" cy="3386.6" r="4.2"/><circle cx="542.7" cy="3379.9" r="4.2"/><circle cx="557.3" cy="3365.3" r="4.2"/><circle cx="571.9" cy="3322.4" r="4.2"/><circle cx="586.5" cy="3348.6" r="4.2"/><circle cx="601.1" cy="3382.5" r="4.2"/><circle cx="615.8" cy="3406.9" r="4.2"/><circle cx="630.4" cy="3374.3" r="4.2"/><circle cx="645" cy="3326" r="4.2"/><circle cx="645" cy="3412.8" r="4.2"/><circle cx="659.6" cy="3322.6" r="4.2"/><circle cx="674.2" cy="3351.9" r="4.2"/><circle cx="688.8" cy="3354.2" r="4.2"/><circle cx="703.5" cy="3394.6" r="4.2"/><circle cx="718.1" cy="3413.9" r="4.2"/><circle cx="732.7" cy="3426.5" r="4.2"/><circle cx="747.3" cy="3428.5" r="4.2"/><circle cx="761.9" cy="3429.5" r="4.2"/><circle cx="776.5" cy="3432.1" r="4.2"/><circle cx="791.2" cy="3406.2" r="4.2"/><circle cx="805.8" cy="3430.3" r="4.2"/><circle cx="820.4" cy="3432.1" r="4.2"/><circle cx="835" cy="3432.9" r="4.2"/><circle cx="849.6" cy="3434.9" r="4.2"/><circle cx="864.2" cy="3434.9" r="4.2"/><circle cx="878.9" cy="3434.9" r="4.2"/><circle cx="893.5" cy="3434.9" r="4.2"/><circle cx="908.1" cy="3434.9" r="4.2"/><circle cx="922.7" cy="3433.1" r="4.2"/><circle cx="937.3" cy="3429.5" r="4.2"/><circle cx="951.9" cy="3425.2" r="4.2"/><circle cx="966.6" cy="3428.3" r="4.2"/><circle cx="981.2" cy="3429.5" r="4.2"/><circle cx="995.8" cy="3430.6" r="4.2"/><circle cx="1010.4" cy="3434.9" r="4.2"/><circle cx="1025" cy="3434.9" r="4.2"/><circle cx="1039.6" cy="3430.6" r="4.2"/><circle cx="1054.2" cy="3430.6" r="4.2"/><circle cx="1068.9" cy="3434.9" r="4.2"/><circle cx="1083.5" cy="3433.9" r="4.2"/><circle cx="1098.1" cy="3433.1" r="4.2"/><circle cx="1112.7" cy="3433.9" r="4.2"/><circle cx="1127.3" cy="3434.9" r="4.2"/><circle cx="1141.9" cy="3428.5" r="4.2"/><circle cx="1156.6" cy="3430.6" r="4.2"/><circle cx="1171.2" cy="3433.1" r="4.2"/><circle cx="1185.8" cy="3433.1" r="4.2"/><circle cx="1200.4" cy="3433.1" r="4.2"/><circle cx="1215" cy="3426.2" r="4.2"/><circle cx="922.7" cy="3359.6" r="4.2"/><circle cx="937.3" cy="3360.9" r="4.2"/><circle cx="951.9" cy="3347.3" r="4.2"/><circle cx="966.6" cy="3331.6" r="4.2"/><circle cx="995.8" cy="3324.7" r="4.2"/><circle cx="1215" cy="3324.9" r="4.2"/><circle cx="1229.6" cy="3315.7" r="4.2"/><circle cx="1244.3" cy="3311.3" r="4.2"/><circle cx="1258.9" cy="3337" r="4.2"/><circle cx="1258.9" cy="3426.5" r="4.2"/><circle cx="1273.5" cy="3428.3" r="4.2"/><circle cx="1288.1" cy="3430.6" r="4.2"/><circle cx="1302.7" cy="3430.6" r="4.2"/><circle cx="1317.3" cy="3430.6" r="4.2"/><circle cx="1332" cy="3426.5" r="4.2"/><circle cx="1346.6" cy="3425.2" r="4.2"/><circle cx="1346.6" cy="3369.9" r="4.2"/><circle cx="1361.2" cy="3425.2" r="4.2"/><circle cx="1375.8" cy="3429.5" r="4.2"/><circle cx="1390.4" cy="3428.3" r="4.2"/><circle cx="1405" cy="3426.5" r="4.2"/><circle cx="1419.7" cy="3429.5" r="4.2"/><circle cx="1434.3" cy="3428.3" r="4.2"/><circle cx="1448.9" cy="3423.9" r="4.2"/><circle cx="1463.5" cy="3422.6" r="4.2"/><circle cx="1478.1" cy="3415.9" r="4.2"/><circle cx="1492.7" cy="3419.5" r="4.2"/><circle cx="1507.3" cy="3417.2" r="4.2"/><circle cx="1522" cy="3426.5" r="4.2"/><circle cx="1536.6" cy="3426.5" r="4.2"/><circle cx="1551.2" cy="3426.5" r="4.2"/><circle cx="1565.8" cy="3423.9" r="4.2"/><circle cx="1580.4" cy="3419.5" r="4.2"/><circle cx="1595" cy="3417.2" r="4.2"/><circle cx="1609.7" cy="3405.9" r="4.2"/><circle cx="1624.3" cy="3401.3" r="4.2"/><circle cx="1638.9" cy="3406.9" r="4.2"/><circle cx="1653.5" cy="3419.5" r="4.2"/><circle cx="1668.1" cy="3422.6" r="4.2"/><circle cx="1682.7" cy="3423.9" r="4.2"/><circle cx="1697.4" cy="3426.5" r="4.2"/><circle cx="1712" cy="3426.5" r="4.2"/><circle cx="1726.6" cy="3423.9" r="4.2"/><circle cx="1741.2" cy="3419.5" r="4.2"/><circle cx="1755.8" cy="3415.9" r="4.2"/><circle cx="1770.4" cy="3419.5" r="4.2"/><circle cx="1785.1" cy="3419.5" r="4.2"/><circle cx="1799.7" cy="3421.6" r="4.2"/><circle cx="1814.3" cy="3418.5" r="4.2"/><circle cx="1828.9" cy="3417.5" r="4.2"/><circle cx="1843.5" cy="3417.2" r="4.2"/><circle cx="1858.1" cy="3410.5" r="4.2"/><circle cx="1872.8" cy="3412.8" r="4.2"/><circle cx="1887.4" cy="3413.9" r="4.2"/><circle cx="1902" cy="3417.2" r="4.2"/><circle cx="1916.6" cy="3417.2" r="4.2"/><circle cx="1931.2" cy="3417.2" r="4.2"/><circle cx="1945.8" cy="3414.9" r="4.2"/><circle cx="1960.4" cy="3414.9" r="4.2"/><circle cx="1975.1" cy="3408" r="4.2"/><circle cx="1989.7" cy="3403.6" r="4.2"/><circle cx="2004.3" cy="3400.2" r="4.2"/><circle cx="2018.9" cy="3395.9" r="4.2"/><circle cx="2033.5" cy="3392.3" r="4.2"/><circle cx="2048.1" cy="3401.3" r="4.2"/><circle cx="2062.8" cy="3399" r="4.2"/><circle cx="2077.4" cy="3395.9" r="4.2"/><circle cx="2092" cy="3394.6" r="4.2"/><circle cx="2106.6" cy="3382.3" r="4.2"/><circle cx="2121.2" cy="3381.2" r="4.2"/><circle cx="2135.8" cy="3399" r="4.2"/><circle cx="2150.5" cy="3405.9" r="4.2"/><circle cx="2165.1" cy="3408" r="4.2"/><circle cx="2179.7" cy="3413.9" r="4.2"/><circle cx="2194.3" cy="3414.9" r="4.2"/><circle cx="2208.9" cy="3414.9" r="4.2"/><circle cx="2223.5" cy="3412.8" r="4.2"/><circle cx="2238.2" cy="3405.9" r="4.2"/><circle cx="2252.8" cy="3408" r="4.2"/><circle cx="2267.4" cy="3405.9" r="4.2"/><circle cx="2282" cy="3387.7" r="4.2"/><circle cx="2296.6" cy="3394.6" r="4.2"/><circle cx="2311.2" cy="3405.9" r="4.2"/><circle cx="2325.9" cy="3392.3" r="4.2"/><circle cx="2340.5" cy="3384.3" r="4.2"/><circle cx="2355.1" cy="3384.3" r="4.2"/><circle cx="2369.7" cy="3403.6" r="4.2"/><circle cx="2384.3" cy="3401.3" r="4.2"/><circle cx="2398.9" cy="3397.9" r="4.2"/><circle cx="2413.5" cy="3373" r="4.2"/><circle cx="2428.2" cy="3403.6" r="4.2"/><circle cx="2442.8" cy="3385.3" r="4.2"/><circle cx="2457.4" cy="3392.3" r="4.2"/><circle cx="2472" cy="3370.7" r="4.2"/><circle cx="2486.6" cy="3391.3" r="4.2"/><circle cx="2501.2" cy="3369.7" r="4.2"/><circle cx="2515.9" cy="3363" r="4.2"/><circle cx="2530.5" cy="3401.3" r="4.2"/><circle cx="2545.1" cy="3360.9" r="4.2"/><circle cx="2559.7" cy="3404.9" r="4.2"/><circle cx="2574.3" cy="3405.9" r="4.2"/><circle cx="2588.9" cy="3408" r="4.2"/><circle cx="2603.6" cy="3405.9" r="4.2"/><circle cx="2618.2" cy="3405.9" r="4.2"/><circle cx="2632.8" cy="3402.6" r="4.2"/><circle cx="2647.4" cy="3395.9" r="4.2"/><circle cx="2662" cy="3387.7" r="4.2"/><circle cx="2676.6" cy="3397.2" r="4.2"/><circle cx="2691.3" cy="3399.2" r="4.2"/><circle cx="2705.9" cy="3397.9" r="4.2"/><circle cx="2720.5" cy="3403.6" r="4.2"/><circle cx="2735.1" cy="3403.6" r="4.2"/><circle cx="2749.7" cy="3401.3" r="4.2"/><circle cx="2764.3" cy="3394.6" r="4.2"/><circle cx="2779" cy="3393.6" r="4.2"/><circle cx="2793.6" cy="3376.6" r="4.2"/><circle cx="2808.2" cy="3367.6" r="4.2"/><circle cx="2822.8" cy="3388.9" r="4.2"/><circle cx="2837.4" cy="3387.7" r="4.2"/><circle cx="2852" cy="3396.9" r="4.2"/><circle cx="2866.6" cy="3385.3" r="4.2"/><circle cx="2881.3" cy="3381" r="4.2"/><circle cx="2895.9" cy="3390.2" r="4.2"/><circle cx="2910.5" cy="3376.6" r="4.2"/><circle cx="2925.1" cy="3391.3" r="4.2"/><circle cx="2939.7" cy="3378.7" r="4.2"/><circle cx="2954.3" cy="3359.6" r="4.2"/><circle cx="2969" cy="3372" r="4.2"/><circle cx="2983.6" cy="3391.3" r="4.2"/><circle cx="2998.2" cy="3392.3" r="4.2"/><circle cx="3012" cy="3389" r="4.2"/>
</g>
<g fill="#000" clip-path="url(#cp3)">
<circle cx="381.9" cy="4478.7" r="4.2"/><circle cx="396.5" cy="4459.1" r="4.2"/><circle cx="396.5" cy="4518" r="4.2"/><circle cx="455" cy="4547.6" r="4.2"/><circle cx="469.6" cy="4544" r="4.2"/><circle cx="484.2" cy="4540.6" r="4.2"/><circle cx="498.8" cy="4532.6" r="4.2"/><circle cx="513.5" cy="4512.6" r="4.2"/><circle cx="528.1" cy="4510" r="4.2"/><circle cx="542.7" cy="4503.3" r="4.2"/><circle cx="557.3" cy="4488.7" r="4.2"/><circle cx="571.9" cy="4445.8" r="4.2"/><circle cx="586.5" cy="4472" r="4.2"/><circle cx="601.1" cy="4505.9" r="4.2"/><circle cx="615.8" cy="4530.3" r="4.2"/><circle cx="630.4" cy="4497.7" r="4.2"/><circle cx="645" cy="4449.4" r="4.2"/><circle cx="645" cy="4536.2" r="4.2"/><circle cx="659.6" cy="4446" r="4.2"/><circle cx="674.2" cy="4475.3" r="4.2"/><circle cx="688.8" cy="4477.6" r="4.2"/><circle cx="703.5" cy="4518" r="4.2"/><circle cx="718.1" cy="4537.3" r="4.2"/><circle cx="732.7" cy="4549.9" r="4.2"/><circle cx="747.3" cy="4551.9" r="4.2"/><circle cx="761.9" cy="4552.9" r="4.2"/><circle cx="776.5" cy="4555.5" r="4.2"/><circle cx="791.2" cy="4529.6" r="4.2"/><circle cx="805.8" cy="4553.7" r="4.2"/><circle cx="820.4" cy="4555.5" r="4.2"/><circle cx="835" cy="4556.3" r="4.2"/><circle cx="849.6" cy="4558.3" r="4.2"/><circle cx="864.2" cy="4558.3" r="4.2"/><circle cx="878.9" cy="4558.3" r="4.2"/><circle cx="893.5" cy="4558.3" r="4.2"/><circle cx="908.1" cy="4558.3" r="4.2"/><circle cx="922.7" cy="4556.5" r="4.2"/><circle cx="937.3" cy="4552.9" r="4.2"/><circle cx="951.9" cy="4548.6" r="4.2"/><circle cx="966.6" cy="4551.7" r="4.2"/><circle cx="981.2" cy="4552.9" r="4.2"/><circle cx="995.8" cy="4554" r="4.2"/><circle cx="1010.4" cy="4558.3" r="4.2"/><circle cx="1025" cy="4558.3" r="4.2"/><circle cx="1039.6" cy="4554" r="4.2"/><circle cx="1054.2" cy="4554" r="4.2"/><circle cx="1068.9" cy="4558.3" r="4.2"/><circle cx="1083.5" cy="4557.3" r="4.2"/><circle cx="1098.1" cy="4556.5" r="4.2"/><circle cx="1112.7" cy="4557.3" r="4.2"/><circle cx="1127.3" cy="4558.3" r="4.2"/><circle cx="1141.9" cy="4551.9" r="4.2"/><circle cx="1156.6" cy="4554" r="4.2"/><circle cx="1171.2" cy="4556.5" r="4.2"/><circle cx="1185.8" cy="4556.5" r="4.2"/><circle cx="1200.4" cy="4556.5" r="4.2"/><circle cx="1215" cy="4549.6" r="4.2"/><circle cx="922.7" cy="4483" r="4.2"/><circle cx="937.3" cy="4484.3" r="4.2"/><circle cx="951.9" cy="4470.7" r="4.2"/><circle cx="966.6" cy="4455" r="4.2"/><circle cx="995.8" cy="4448.1" r="4.2"/><circle cx="1215" cy="4448.3" r="4.2"/><circle cx="1229.6" cy="4439.1" r="4.2"/><circle cx="1244.3" cy="4434.7" r="4.2"/><circle cx="1258.9" cy="4460.4" r="4.2"/><circle cx="1258.9" cy="4549.9" r="4.2"/><circle cx="1273.5" cy="4551.7" r="4.2"/><circle cx="1288.1" cy="4554" r="4.2"/><circle cx="1302.7" cy="4554" r="4.2"/><circle cx="1317.3" cy="4554" r="4.2"/><circle cx="1332" cy="4549.9" r="4.2"/><circle cx="1346.6" cy="4548.6" r="4.2"/><circle cx="1346.6" cy="4493.3" r="4.2"/><circle cx="1361.2" cy="4548.6" r="4.2"/><circle cx="1375.8" cy="4552.9" r="4.2"/><circle cx="1390.4" cy="4551.7" r="4.2"/><circle cx="1405" cy="4549.9" r="4.2"/><circle cx="1419.7" cy="4552.9" r="4.2"/><circle cx="1434.3" cy="4551.7" r="4.2"/><circle cx="1448.9" cy="4547.3" r="4.2"/><circle cx="1463.5" cy="4546" r="4.2"/><circle cx="1478.1" cy="4539.3" r="4.2"/><circle cx="1492.7" cy="4542.9" r="4.2"/><circle cx="1507.3" cy="4540.6" r="4.2"/><circle cx="1522" cy="4549.9" r="4.2"/><circle cx="1536.6" cy="4549.9" r="4.2"/><circle cx="1551.2" cy="4549.9" r="4.2"/><circle cx="1565.8" cy="4547.3" r="4.2"/><circle cx="1580.4" cy="4542.9" r="4.2"/><circle cx="1595" cy="4540.6" r="4.2"/><circle cx="1609.7" cy="4529.3" r="4.2"/><circle cx="1624.3" cy="4524.7" r="4.2"/><circle cx="1638.9" cy="4530.3" r="4.2"/><circle cx="1653.5" cy="4542.9" r="4.2"/><circle cx="1668.1" cy="4546" r="4.2"/><circle cx="1682.7" cy="4547.3" r="4.2"/><circle cx="1697.4" cy="4549.9" r="4.2"/><circle cx="1712" cy="4549.9" r="4.2"/><circle cx="1726.6" cy="4547.3" r="4.2"/><circle cx="1741.2" cy="4542.9" r="4.2"/><circle cx="1755.8" cy="4539.3" r="4.2"/><circle cx="1770.4" cy="4542.9" r="4.2"/><circle cx="1785.1" cy="4542.9" r="4.2"/><circle cx="1799.7" cy="4545" r="4.2"/><circle cx="1814.3" cy="4541.9" r="4.2"/><circle cx="1828.9" cy="4540.9" r="4.2"/><circle cx="1843.5" cy="4540.6" r="4.2"/><circle cx="1858.1" cy="4533.9" r="4.2"/><circle cx="1872.8" cy="4536.2" r="4.2"/><circle cx="1887.4" cy="4537.3" r="4.2"/><circle cx="1902" cy="4540.6" r="4.2"/><circle cx="1916.6" cy="4540.6" r="4.2"/><circle cx="1931.2" cy="4540.6" r="4.2"/><circle cx="1945.8" cy="4538.3" r="4.2"/><circle cx="1960.4" cy="4538.3" r="4.2"/><circle cx="1975.1" cy="4531.4" r="4.2"/><circle cx="1989.7" cy="4527" r="4.2"/><circle cx="2004.3" cy="4523.6" r="4.2"/><circle cx="2018.9" cy="4519.3" r="4.2"/><circle cx="2033.5" cy="4515.7" r="4.2"/><circle cx="2048.1" cy="4524.7" r="4.2"/><circle cx="2062.8" cy="4522.4" r="4.2"/><circle cx="2077.4" cy="4519.3" r="4.2"/><circle cx="2092" cy="4518" r="4.2"/><circle cx="2106.6" cy="4505.7" r="4.2"/><circle cx="2121.2" cy="4504.6" r="4.2"/><circle cx="2135.8" cy="4522.4" r="4.2"/><circle cx="2150.5" cy="4529.3" r="4.2"/><circle cx="2165.1" cy="4531.4" r="4.2"/><circle cx="2179.7" cy="4537.3" r="4.2"/><circle cx="2194.3" cy="4538.3" r="4.2"/><circle cx="2208.9" cy="4538.3" r="4.2"/><circle cx="2223.5" cy="4536.2" r="4.2"/><circle cx="2238.2" cy="4529.3" r="4.2"/><circle cx="2252.8" cy="4531.4" r="4.2"/><circle cx="2267.4" cy="4529.3" r="4.2"/><circle cx="2282" cy="4511.1" r="4.2"/><circle cx="2296.6" cy="4518" r="4.2"/><circle cx="2311.2" cy="4529.3" r="4.2"/><circle cx="2325.9" cy="4515.7" r="4.2"/><circle cx="2340.5" cy="4507.7" r="4.2"/><circle cx="2355.1" cy="4507.7" r="4.2"/><circle cx="2369.7" cy="4527" r="4.2"/><circle cx="2384.3" cy="4524.7" r="4.2"/><circle cx="2398.9" cy="4521.3" r="4.2"/><circle cx="2413.5" cy="4496.4" r="4.2"/><circle cx="2428.2" cy="4527" r="4.2"/><circle cx="2442.8" cy="4508.7" r="4.2"/><circle cx="2457.4" cy="4515.7" r="4.2"/><circle cx="2472" cy="4494.1" r="4.2"/><circle cx="2486.6" cy="4514.7" r="4.2"/><circle cx="2501.2" cy="4493.1" r="4.2"/><circle cx="2515.9" cy="4486.4" r="4.2"/><circle cx="2530.5" cy="4524.7" r="4.2"/><circle cx="2545.1" cy="4484.3" r="4.2"/><circle cx="2559.7" cy="4528.3" r="4.2"/><circle cx="2574.3" cy="4529.3" r="4.2"/><circle cx="2588.9" cy="4531.4" r="4.2"/><circle cx="2603.6" cy="4529.3" r="4.2"/><circle cx="2618.2" cy="4529.3" r="4.2"/><circle cx="2632.8" cy="4526" r="4.2"/><circle cx="2647.4" cy="4519.3" r="4.2"/><circle cx="2662" cy="4511.1" r="4.2"/><circle cx="2676.6" cy="4520.6" r="4.2"/><circle cx="2691.3" cy="4522.6" r="4.2"/><circle cx="2705.9" cy="4521.3" r="4.2"/><circle cx="2720.5" cy="4527" r="4.2"/><circle cx="2735.1" cy="4527" r="4.2"/><circle cx="2749.7" cy="4524.7" r="4.2"/><circle cx="2764.3" cy="4518" r="4.2"/><circle cx="2779" cy="4517" r="4.2"/><circle cx="2793.6" cy="4500" r="4.2"/><circle cx="2808.2" cy="4491" r="4.2"/><circle cx="2822.8" cy="4512.3" r="4.2"/><circle cx="2837.4" cy="4511.1" r="4.2"/><circle cx="2852" cy="4520.3" r="4.2"/><circle cx="2866.6" cy="4508.7" r="4.2"/><circle cx="2881.3" cy="4504.4" r="4.2"/><circle cx="2895.9" cy="4513.6" r="4.2"/><circle cx="2910.5" cy="4500" r="4.2"/><circle cx="2925.1" cy="4514.7" r="4.2"/><circle cx="2939.7" cy="4502.1" r="4.2"/><circle cx="2954.3" cy="4483" r="4.2"/><circle cx="2969" cy="4495.4" r="4.2"/><circle cx="2983.6" cy="4514.7" r="4.2"/><circle cx="2998.2" cy="4515.7" r="4.2"/><circle cx="3012" cy="4512.4" r="4.2"/>
</g>
<g shape-rendering="crispEdges">
<rect x="3126.1" y="1179.8" width="139.6" height="14.5" fill="#00008F"/>
<rect x="3126.1" y="1165.9" width="139.6" height="14.5" fill="#00009F"/>
<rect x="3126.1" y="1152" width="139.6" height="14.5" fill="#0000AF"/>
<rect x="3126.1" y="1138.1" width="139.6" height="14.5" fill="#0000BF"/>
<rect x="3126.1" y="1124.2" width="139.6" height="14.5" fill="#0000CF"/>
<rect x="3126.1" y="1110.3" width="139.6" height="14.5" fill="#0000DF"/>
<rect x="3126.1" y="1096.4" width="139.6" height="14.5" fill="#0000EF"/>
<rect x="3126.1" y="1082.5" width="139.6" height="14.5" fill="#0000FF"/>
<rect x="3126.1" y="1068.5" width="139.6" height="14.5" fill="#0010FF"/>
<rect x="3126.1" y="1054.6" width="139.6" height="14.5" fill="#0020FF"/>
<rect x="3126.1" y="1040.7" width="139.6" height="14.5" fill="#0030FF"/>
<rect x="3126.1" y="1026.8" width="139.6" height="14.5" fill="#0040FF"/>
<rect x="3126.1" y="1012.9" width="139.6" height="14.5" fill="#0050FF"/>
<rect x="3126.1" y="999" width="139.6" height="14.5" fill="#0060FF"/>
<rect x="3126.1" y="985.1" width="139.6" height="14.5" fill="#0070FF"/>
<rect x="3126.1" y="971.2" width="139.6" height="14.5" fill="#0080FF"/>
<rect x="3126.1" y="957.3" width="139.6" height="14.5" fill="#008FFF"/>
<rect x="3126.1" y="943.4" width="139.6" height="14.5" fill="#009FFF"/>
<rect x="3126.1" y="929.5" width="139.6" height="14.5" fill="#00AFFF"/>
<rect x="3126.1" y="915.6" width="139.6" height="14.5" fill="#00BFFF"/>
<rect x="3126.1" y="901.7" width="139.6" height="14.5" fill="#00CFFF"/>
<rect x="3126.1" y="887.8" width="139.6" height="14.5" fill="#00DFFF"/>
<rect x="3126.1" y="873.9" width="139.6" height="14.5" fill="#00EFFF"/>
<rect x="3126.1" y="860" width="139.6" height="14.5" fill="#00FFFF"/>
<rect x="3126.1" y="846" width="139.6" height="14.5" fill="#10FFEF"/>
<rect x="3126.1" y="832.1" width="139.6" height="14.5" fill="#20FFDF"/>
<rect x="3126.1" y="818.2" width="139.6" height="14.5" fill="#30FFCF"/>
<rect x="3126.1" y="804.3" width="139.6" height="14.5" fill="#40FFBF"/>
<rect x="3126.1" y="790.4" width="139.6" height="14.5" fill="#50FFAF"/>
<rect x="3126.1" y="776.5" width="139.6" height="14.5" fill="#60FF9F"/>
<rect x="3126.1" y="762.6" width="139.6" height="14.5" fill="#70FF8F"/>
<rect x="3126.1" y="748.7" width="139.6" height="14.5" fill="#80FF80"/>
<rect x="3126.1" y="734.8" width="139.6" height="14.5" fill="#8FFF70"/>
<rect x="3126.1" y="720.9" width="139.6" height="14.5" fill="#9FFF60"/>
<rect x="3126.1" y="707" width="139.6" height="14.5" fill="#AFFF50"/>
<rect x="3126.1" y="693.1" width="139.6" height="14.5" fill="#BFFF40"/>
<rect x="3126.1" y="679.2" width="139.6" height="14.5" fill="#CFFF30"/>
<rect x="3126.1" y="665.3" width="139.6" height="14.5" fill="#DFFF20"/>
<rect x="3126.1" y="651.4" width="139.6" height="14.5" fill="#EFFF10"/>
<rect x="3126.1" y="637.5" width="139.6" height="14.5" fill="#FFFF00"/>
<rect x="3126.1" y="623.5" width="139.6" height="14.5" fill="#FFEF00"/>
<rect x="3126.1" y="609.6" width="139.6" height="14.5" fill="#FFDF00"/>
<rect x="3126.1" y="595.7" width="139.6" height="14.5" fill="#FFCF00"/>
<rect x="3126.1" y="581.8" width="139.6" height="14.5" fill="#FFBF00"/>
<rect x="3126.1" y="567.9" width="139.6" height="14.5" fill="#FFAF00"/>
<rect x="3126.1" y="554" width="139.6" height="14.5" fill="#FF9F00"/>
<rect x="3126.1" y="540.1" width="139.6" height="14.5" fill="#FF8F00"/>
<rect x="3126.1" y="526.2" width="139.6" height="14.5" fill="#FF8000"/>
<rect x="3126.1" y="512.3" width="139.6" height="14.5" fill="#FF7000"/>
<rect x="3126.1" y="498.4" width="139.6" height="14.5" fill="#FF6000"/>
<rect x="3126.1" y="484.5" width="139.6" height="14.5" fill="#FF5000"/>
<rect x="3126.1" y="470.6" width="139.6" height="14.5" fill="#FF4000"/>
<rect x="3126.1" y="456.7" width="139.6" height="14.5" fill="#FF3000"/>
<rect x="3126.1" y="442.8" width="139.6" height="14.5" fill="#FF2000"/>
<rect x="3126.1" y="428.9" width="139.6" height="14.5" fill="#FF1000"/>
<rect x="3126.1" y="415" width="139.6" height="14.5" fill="#FF0000"/>
<rect x="3126.1" y="401" width="139.6" height="14.5" fill="#EF0000"/>
<rect x="3126.1" y="387.1" width="139.6" height="14.5" fill="#DF0000"/>
<rect x="3126.1" y="373.2" width="139.6" height="14.5" fill="#CF0000"/>
<rect x="3126.1" y="359.3" width="139.6" height="14.5" fill="#BF0000"/>
<rect x="3126.1" y="345.4" width="139.6" height="14.5" fill="#AF0000"/>
<rect x="3126.1" y="331.5" width="139.6" height="14.5" fill="#9F0000"/>
<rect x="3126.1" y="317.6" width="139.6" height="14.5" fill="#8F0000"/>
<rect x="3126.1" y="303.7" width="139.6" height="14.5" fill="#800000"/>
</g>
<path d="M3265.7 1014.9h-10M3265.7 837.3h-10M3265.7 659.7h-10M3265.7 482.1h-10" stroke="#262626" stroke-width="2.2" fill="none"/>
<rect x="3126.1" y="303.7" width="139.6" height="890" fill="none" stroke="#262626" stroke-width="2.35"/>
<g fill="#262626" font-size="36" letter-spacing="1.2">
<text x="3286.7" y="1205.1">0</text>
<text x="3286.7" y="1027.5">2</text>
<text x="3286.7" y="849.9">4</text>
<text x="3286.7" y="672.3">6</text>
<text x="3286.7" y="494.7">8</text>
<text x="3286.7" y="317.1">10</text>
</g>
<g shape-rendering="crispEdges">
<rect x="3126.1" y="2309.6" width="139.6" height="14.6" fill="#00008F"/>
<rect x="3126.1" y="2295.6" width="139.6" height="14.6" fill="#00009F"/>
<rect x="3126.1" y="2281.6" width="139.6" height="14.6" fill="#0000AF"/>
<rect x="3126.1" y="2267.6" width="139.6" height="14.6" fill="#0000BF"/>
<rect x="3126.1" y="2253.6" width="139.6" height="14.6" fill="#0000CF"/>
<rect x="3126.1" y="2239.6" width="139.6" height="14.6" fill="#0000DF"/>
<rect x="3126.1" y="2225.6" width="139.6" height="14.6" fill="#0000EF"/>
<rect x="3126.1" y="2211.6" width="139.6" height="14.6" fill="#0000FF"/>
<rect x="3126.1" y="2197.6" width="139.6" height="14.6" fill="#0010FF"/>
<rect x="3126.1" y="2183.6" width="139.6" height="14.6" fill="#0020FF"/>
<rect x="3126.1" y="2169.7" width="139.6" height="14.6" fill="#0030FF"/>
<rect x="3126.1" y="2155.7" width="139.6" height="14.6" fill="#0040FF"/>
<rect x="3126.1" y="2141.7" width="139.6" height="14.6" fill="#0050FF"/>
<rect x="3126.1" y="2127.7" width="139.6" height="14.6" fill="#0060FF"/>
<rect x="3126.1" y="2113.7" width="139.6" height="14.6" fill="#0070FF"/>
<rect x="3126.1" y="2099.7" width="139.6" height="14.6" fill="#0080FF"/>
<rect x="3126.1" y="2085.7" width="139.6" height="14.6" fill="#008FFF"/>
<rect x="3126.1" y="2071.7" width="139.6" height="14.6" fill="#009FFF"/>
<rect x="3126.1" y="2057.7" width="139.6" height="14.6" fill="#00AFFF"/>
<rect x="3126.1" y="2043.7" width="139.6" height="14.6" fill="#00BFFF"/>
<rect x="3126.1" y="2029.7" width="139.6" height="14.6" fill="#00CFFF"/>
<rect x="3126.1" y="2015.7" width="139.6" height="14.6" fill="#00DFFF"/>
<rect x="3126.1" y="2001.7" width="139.6" height="14.6" fill="#00EFFF"/>
<rect x="3126.1" y="1987.7" width="139.6" height="14.6" fill="#00FFFF"/>
<rect x="3126.1" y="1973.7" width="139.6" height="14.6" fill="#10FFEF"/>
<rect x="3126.1" y="1959.7" width="139.6" height="14.6" fill="#20FFDF"/>
<rect x="3126.1" y="1945.7" width="139.6" height="14.6" fill="#30FFCF"/>
<rect x="3126.1" y="1931.7" width="139.6" height="14.6" fill="#40FFBF"/>
<rect x="3126.1" y="1917.7" width="139.6" height="14.6" fill="#50FFAF"/>
<rect x="3126.1" y="1903.7" width="139.6" height="14.6" fill="#60FF9F"/>
<rect x="3126.1" y="1889.7" width="139.6" height="14.6" fill="#70FF8F"/>
<rect x="3126.1" y="1875.8" width="139.6" height="14.6" fill="#80FF80"/>
<rect x="3126.1" y="1861.8" width="139.6" height="14.6" fill="#8FFF70"/>
<rect x="3126.1" y="1847.8" width="139.6" height="14.6" fill="#9FFF60"/>
<rect x="3126.1" y="1833.8" width="139.6" height="14.6" fill="#AFFF50"/>
<rect x="3126.1" y="1819.8" width="139.6" height="14.6" fill="#BFFF40"/>
<rect x="3126.1" y="1805.8" width="139.6" height="14.6" fill="#CFFF30"/>
<rect x="3126.1" y="1791.8" width="139.6" height="14.6" fill="#DFFF20"/>
<rect x="3126.1" y="1777.8" width="139.6" height="14.6" fill="#EFFF10"/>
<rect x="3126.1" y="1763.8" width="139.6" height="14.6" fill="#FFFF00"/>
<rect x="3126.1" y="1749.8" width="139.6" height="14.6" fill="#FFEF00"/>
<rect x="3126.1" y="1735.8" width="139.6" height="14.6" fill="#FFDF00"/>
<rect x="3126.1" y="1721.8" width="139.6" height="14.6" fill="#FFCF00"/>
<rect x="3126.1" y="1707.8" width="139.6" height="14.6" fill="#FFBF00"/>
<rect x="3126.1" y="1693.8" width="139.6" height="14.6" fill="#FFAF00"/>
<rect x="3126.1" y="1679.8" width="139.6" height="14.6" fill="#FF9F00"/>
<rect x="3126.1" y="1665.8" width="139.6" height="14.6" fill="#FF8F00"/>
<rect x="3126.1" y="1651.8" width="139.6" height="14.6" fill="#FF8000"/>
<rect x="3126.1" y="1637.8" width="139.6" height="14.6" fill="#FF7000"/>
<rect x="3126.1" y="1623.8" width="139.6" height="14.6" fill="#FF6000"/>
<rect x="3126.1" y="1609.8" width="139.6" height="14.6" fill="#FF5000"/>
<rect x="3126.1" y="1595.8" width="139.6" height="14.6" fill="#FF4000"/>
<rect x="3126.1" y="1581.8" width="139.6" height="14.6" fill="#FF3000"/>
<rect x="3126.1" y="1567.9" width="139.6" height="14.6" fill="#FF2000"/>
<rect x="3126.1" y="1553.9" width="139.6" height="14.6" fill="#FF1000"/>
<rect x="3126.1" y="1539.9" width="139.6" height="14.6" fill="#FF0000"/>
<rect x="3126.1" y="1525.9" width="139.6" height="14.6" fill="#EF0000"/>
<rect x="3126.1" y="1511.9" width="139.6" height="14.6" fill="#DF0000"/>
<rect x="3126.1" y="1497.9" width="139.6" height="14.6" fill="#CF0000"/>
<rect x="3126.1" y="1483.9" width="139.6" height="14.6" fill="#BF0000"/>
<rect x="3126.1" y="1469.9" width="139.6" height="14.6" fill="#AF0000"/>
<rect x="3126.1" y="1455.9" width="139.6" height="14.6" fill="#9F0000"/>
<rect x="3126.1" y="1441.9" width="139.6" height="14.6" fill="#8F0000"/>
<rect x="3126.1" y="1427.9" width="139.6" height="14.6" fill="#800000"/>
</g>
<path d="M3265.7 2210.7h-10M3265.7 2099h-10M3265.7 1987.3h-10M3265.7 1875.6h-10M3265.7 1763.8h-10M3265.7 1652.1h-10M3265.7 1540.4h-10" stroke="#262626" stroke-width="2.2" fill="none"/>
<rect x="3126.1" y="1427.9" width="139.6" height="895.7" fill="none" stroke="#262626" stroke-width="2.35"/>
<g fill="#262626" font-size="36" letter-spacing="1.2">
<text x="3286.7" y="2335">-60</text>
<text x="3286.7" y="2223.3">-50</text>
<text x="3286.7" y="2111.6">-40</text>
<text x="3286.7" y="1999.9">-30</text>
<text x="3286.7" y="1888.2">-20</text>
<text x="3286.7" y="1776.4">-10</text>
<text x="3286.7" y="1664.7">0</text>
<text x="3286.7" y="1553">10</text>
<text x="3286.7" y="1441.3">20</text>
</g>
<g shape-rendering="crispEdges">
<rect x="3126.1" y="3432.5" width="139.6" height="14.6" fill="#00008F"/>
<rect x="3126.1" y="3418.5" width="139.6" height="14.6" fill="#00009F"/>
<rect x="3126.1" y="3404.5" width="139.6" height="14.6" fill="#0000AF"/>
<rect x="3126.1" y="3390.6" width="139.6" height="14.6" fill="#0000BF"/>
<rect x="3126.1" y="3376.6" width="139.6" height="14.6" fill="#0000CF"/>
<rect x="3126.1" y="3362.6" width="139.6" height="14.6" fill="#0000DF"/>
<rect x="3126.1" y="3348.6" width="139.6" height="14.6" fill="#0000EF"/>
<rect x="3126.1" y="3334.6" width="139.6" height="14.6" fill="#0000FF"/>
<rect x="3126.1" y="3320.6" width="139.6" height="14.6" fill="#0010FF"/>
<rect x="3126.1" y="3306.6" width="139.6" height="14.6" fill="#0020FF"/>
<rect x="3126.1" y="3292.6" width="139.6" height="14.6" fill="#0030FF"/>
<rect x="3126.1" y="3278.7" width="139.6" height="14.6" fill="#0040FF"/>
<rect x="3126.1" y="3264.7" width="139.6" height="14.6" fill="#0050FF"/>
<rect x="3126.1" y="3250.7" width="139.6" height="14.6" fill="#0060FF"/>
<rect x="3126.1" y="3236.7" width="139.6" height="14.6" fill="#0070FF"/>
<rect x="3126.1" y="3222.7" width="139.6" height="14.6" fill="#0080FF"/>
<rect x="3126.1" y="3208.7" width="139.6" height="14.6" fill="#008FFF"/>
<rect x="3126.1" y="3194.7" width="139.6" height="14.6" fill="#009FFF"/>
<rect x="3126.1" y="3180.7" width="139.6" height="14.6" fill="#00AFFF"/>
<rect x="3126.1" y="3166.8" width="139.6" height="14.6" fill="#00BFFF"/>
<rect x="3126.1" y="3152.8" width="139.6" height="14.6" fill="#00CFFF"/>
<rect x="3126.1" y="3138.8" width="139.6" height="14.6" fill="#00DFFF"/>
<rect x="3126.1" y="3124.8" width="139.6" height="14.6" fill="#00EFFF"/>
<rect x="3126.1" y="3110.8" width="139.6" height="14.6" fill="#00FFFF"/>
<rect x="3126.1" y="3096.8" width="139.6" height="14.6" fill="#10FFEF"/>
<rect x="3126.1" y="3082.8" width="139.6" height="14.6" fill="#20FFDF"/>
<rect x="3126.1" y="3068.8" width="139.6" height="14.6" fill="#30FFCF"/>
<rect x="3126.1" y="3054.8" width="139.6" height="14.6" fill="#40FFBF"/>
<rect x="3126.1" y="3040.9" width="139.6" height="14.6" fill="#50FFAF"/>
<rect x="3126.1" y="3026.9" width="139.6" height="14.6" fill="#60FF9F"/>
<rect x="3126.1" y="3012.9" width="139.6" height="14.6" fill="#70FF8F"/>
<rect x="3126.1" y="2998.9" width="139.6" height="14.6" fill="#80FF80"/>
<rect x="3126.1" y="2984.9" width="139.6" height="14.6" fill="#8FFF70"/>
<rect x="3126.1" y="2970.9" width="139.6" height="14.6" fill="#9FFF60"/>
<rect x="3126.1" y="2956.9" width="139.6" height="14.6" fill="#AFFF50"/>
<rect x="3126.1" y="2943" width="139.6" height="14.6" fill="#BFFF40"/>
<rect x="3126.1" y="2929" width="139.6" height="14.6" fill="#CFFF30"/>
<rect x="3126.1" y="2915" width="139.6" height="14.6" fill="#DFFF20"/>
<rect x="3126.1" y="2901" width="139.6" height="14.6" fill="#EFFF10"/>
<rect x="3126.1" y="2887" width="139.6" height="14.6" fill="#FFFF00"/>
<rect x="3126.1" y="2873" width="139.6" height="14.6" fill="#FFEF00"/>
<rect x="3126.1" y="2859" width="139.6" height="14.6" fill="#FFDF00"/>
<rect x="3126.1" y="2845" width="139.6" height="14.6" fill="#FFCF00"/>
<rect x="3126.1" y="2831.1" width="139.6" height="14.6" fill="#FFBF00"/>
<rect x="3126.1" y="2817.1" width="139.6" height="14.6" fill="#FFAF00"/>
<rect x="3126.1" y="2803.1" width="139.6" height="14.6" fill="#FF9F00"/>
<rect x="3126.1" y="2789.1" width="139.6" height="14.6" fill="#FF8F00"/>
<rect x="3126.1" y="2775.1" width="139.6" height="14.6" fill="#FF8000"/>
<rect x="3126.1" y="2761.1" width="139.6" height="14.6" fill="#FF7000"/>
<rect x="3126.1" y="2747.1" width="139.6" height="14.6" fill="#FF6000"/>
<rect x="3126.1" y="2733.1" width="139.6" height="14.6" fill="#FF5000"/>
<rect x="3126.1" y="2719.2" width="139.6" height="14.6" fill="#FF4000"/>
<rect x="3126.1" y="2705.2" width="139.6" height="14.6" fill="#FF3000"/>
<rect x="3126.1" y="2691.2" width="139.6" height="14.6" fill="#FF2000"/>
<rect x="3126.1" y="2677.2" width="139.6" height="14.6" fill="#FF1000"/>
<rect x="3126.1" y="2663.2" width="139.6" height="14.6" fill="#FF0000"/>
<rect x="3126.1" y="2649.2" width="139.6" height="14.6" fill="#EF0000"/>
<rect x="3126.1" y="2635.2" width="139.6" height="14.6" fill="#DF0000"/>
<rect x="3126.1" y="2621.2" width="139.6" height="14.6" fill="#CF0000"/>
<rect x="3126.1" y="2607.2" width="139.6" height="14.6" fill="#BF0000"/>
<rect x="3126.1" y="2593.3" width="139.6" height="14.6" fill="#AF0000"/>
<rect x="3126.1" y="2579.3" width="139.6" height="14.6" fill="#9F0000"/>
<rect x="3126.1" y="2565.3" width="139.6" height="14.6" fill="#8F0000"/>
<rect x="3126.1" y="2551.3" width="139.6" height="14.6" fill="#800000"/>
</g>
<path d="M3265.7 3222h-10M3265.7 2998.7h-10M3265.7 2775.4h-10" stroke="#262626" stroke-width="2.2" fill="none"/>
<rect x="3126.1" y="2551.3" width="139.6" height="895.2" fill="none" stroke="#262626" stroke-width="2.35"/>
<g fill="#262626" font-size="36" letter-spacing="1.2">
<text x="3286.7" y="3457.9">-10</text>
<text x="3286.7" y="3234.6">-5</text>
<text x="3286.7" y="3011.3">0</text>
<text x="3286.7" y="2788">5</text>
<text x="3286.7" y="2564.7">10</text>
</g>
<g shape-rendering="crispEdges">
<rect x="3126.1" y="4557.2" width="139.6" height="14.5" fill="#00008F"/>
<rect x="3126.1" y="4543.3" width="139.6" height="14.5" fill="#00009F"/>
<rect x="3126.1" y="4529.4" width="139.6" height="14.5" fill="#0000AF"/>
<rect x="3126.1" y="4515.5" width="139.6" height="14.5" fill="#0000BF"/>
<rect x="3126.1" y="4501.6" width="139.6" height="14.5" fill="#0000CF"/>
<rect x="3126.1" y="4487.7" width="139.6" height="14.5" fill="#0000DF"/>
<rect x="3126.1" y="4473.7" width="139.6" height="14.5" fill="#0000EF"/>
<rect x="3126.1" y="4459.8" width="139.6" height="14.5" fill="#0000FF"/>
<rect x="3126.1" y="4445.9" width="139.6" height="14.5" fill="#0010FF"/>
<rect x="3126.1" y="4432" width="139.6" height="14.5" fill="#0020FF"/>
<rect x="3126.1" y="4418.1" width="139.6" height="14.5" fill="#0030FF"/>
<rect x="3126.1" y="4404.2" width="139.6" height="14.5" fill="#0040FF"/>
<rect x="3126.1" y="4390.3" width="139.6" height="14.5" fill="#0050FF"/>
<rect x="3126.1" y="4376.4" width="139.6" height="14.5" fill="#0060FF"/>
<rect x="3126.1" y="4362.5" width="139.6" height="14.5" fill="#0070FF"/>
<rect x="3126.1" y="4348.6" width="139.6" height="14.5" fill="#0080FF"/>
<rect x="3126.1" y="4334.7" width="139.6" height="14.5" fill="#008FFF"/>
<rect x="3126.1" y="4320.8" width="139.6" height="14.5" fill="#009FFF"/>
<rect x="3126.1" y="4306.9" width="139.6" height="14.5" fill="#00AFFF"/>
<rect x="3126.1" y="4292.9" width="139.6" height="14.5" fill="#00BFFF"/>
<rect x="3126.1" y="4279" width="139.6" height="14.5" fill="#00CFFF"/>
<rect x="3126.1" y="4265.1" width="139.6" height="14.5" fill="#00DFFF"/>
<rect x="3126.1" y="4251.2" width="139.6" height="14.5" fill="#00EFFF"/>
<rect x="3126.1" y="4237.3" width="139.6" height="14.5" fill="#00FFFF"/>
<rect x="3126.1" y="4223.4" width="139.6" height="14.5" fill="#10FFEF"/>
<rect x="3126.1" y="4209.5" width="139.6" height="14.5" fill="#20FFDF"/>
<rect x="3126.1" y="4195.6" width="139.6" height="14.5" fill="#30FFCF"/>
<rect x="3126.1" y="4181.7" width="139.6" height="14.5" fill="#40FFBF"/>
<rect x="3126.1" y="4167.8" width="139.6" height="14.5" fill="#50FFAF"/>
<rect x="3126.1" y="4153.9" width="139.6" height="14.5" fill="#60FF9F"/>
<rect x="3126.1" y="4140" width="139.6" height="14.5" fill="#70FF8F"/>
<rect x="3126.1" y="4126.1" width="139.6" height="14.5" fill="#80FF80"/>
<rect x="3126.1" y="4112.1" width="139.6" height="14.5" fill="#8FFF70"/>
<rect x="3126.1" y="4098.2" width="139.6" height="14.5" fill="#9FFF60"/>
<rect x="3126.1" y="4084.3" width="139.6" height="14.5" fill="#AFFF50"/>
<rect x="3126.1" y="4070.4" width="139.6" height="14.5" fill="#BFFF40"/>
<rect x="3126.1" y="4056.5" width="139.6" height="14.5" fill="#CFFF30"/>
<rect x="3126.1" y="4042.6" width="139.6" height="14.5" fill="#DFFF20"/>
<rect x="3126.1" y="4028.7" width="139.6" height="14.5" fill="#EFFF10"/>
<rect x="3126.1" y="4014.8" width="139.6" height="14.5" fill="#FFFF00"/>
<rect x="3126.1" y="4000.9" width="139.6" height="14.5" fill="#FFEF00"/>
<rect x="3126.1" y="3987" width="139.6" height="14.5" fill="#FFDF00"/>
<rect x="3126.1" y="3973.1" width="139.6" height="14.5" fill="#FFCF00"/>
<rect x="3126.1" y="3959.2" width="139.6" height="14.5" fill="#FFBF00"/>
<rect x="3126.1" y="3945.2" width="139.6" height="14.5" fill="#FFAF00"/>
<rect x="3126.1" y="3931.3" width="139.6" height="14.5" fill="#FF9F00"/>
<rect x="3126.1" y="3917.4" width="139.6" height="14.5" fill="#FF8F00"/>
<rect x="3126.1" y="3903.5" width="139.6" height="14.5" fill="#FF8000"/>
<rect x="3126.1" y="3889.6" width="139.6" height="14.5" fill="#FF7000"/>
<rect x="3126.1" y="3875.7" width="139.6" height="14.5" fill="#FF6000"/>
<rect x="3126.1" y="3861.8" width="139.6" height="14.5" fill="#FF5000"/>
<rect x="3126.1" y="3847.9" width="139.6" height="14.5" fill="#FF4000"/>
<rect x="3126.1" y="3834" width="139.6" height="14.5" fill="#FF3000"/>
<rect x="3126.1" y="3820.1" width="139.6" height="14.5" fill="#FF2000"/>
<rect x="3126.1" y="3806.2" width="139.6" height="14.5" fill="#FF1000"/>
<rect x="3126.1" y="3792.3" width="139.6" height="14.5" fill="#FF0000"/>
<rect x="3126.1" y="3778.4" width="139.6" height="14.5" fill="#EF0000"/>
<rect x="3126.1" y="3764.4" width="139.6" height="14.5" fill="#DF0000"/>
<rect x="3126.1" y="3750.5" width="139.6" height="14.5" fill="#CF0000"/>
<rect x="3126.1" y="3736.6" width="139.6" height="14.5" fill="#BF0000"/>
<rect x="3126.1" y="3722.7" width="139.6" height="14.5" fill="#AF0000"/>
<rect x="3126.1" y="3708.8" width="139.6" height="14.5" fill="#9F0000"/>
<rect x="3126.1" y="3694.9" width="139.6" height="14.5" fill="#8F0000"/>
<rect x="3126.1" y="3681" width="139.6" height="14.5" fill="#800000"/>
</g>
<path d="M3265.7 4458.9h-10M3265.7 4347.9h-10M3265.7 4236.9h-10M3265.7 4125.9h-10M3265.7 4014.8h-10M3265.7 3903.8h-10M3265.7 3792.8h-10" stroke="#262626" stroke-width="2.2" fill="none"/>
<rect x="3126.1" y="3681" width="139.6" height="890.1" fill="none" stroke="#262626" stroke-width="2.35"/>
<g fill="#262626" font-size="36" letter-spacing="1.2">
<text x="3286.7" y="4582.5">-4</text>
<text x="3286.7" y="4471.5">-3</text>
<text x="3286.7" y="4360.5">-2</text>
<text x="3286.7" y="4249.5">-1</text>
<text x="3286.7" y="4138.5">0</text>
<text x="3286.7" y="4027.4">1</text>
<text x="3286.7" y="3916.4">2</text>
<text x="3286.7" y="3805.4">3</text>
<text x="3286.7" y="3694.4">4</text>
</g>
<text transform="translate(3394.5 870.7) rotate(-90)" fill="#262626" font-size="39"><tspan x="-2" y="0" letter-spacing="0.06">Scatter Type</tspan></text>
<text transform="translate(3406.6 2251.5) rotate(-90)" fill="#262626" font-size="39"><tspan x="0" y="0" letter-spacing="-0.45">Average Reflectivity when present, dBZ</tspan></text>
<text transform="translate(3456.2 2179.9) rotate(-90)" fill="#262626" font-size="39"><tspan x="-4" y="0" letter-spacing="-0.56">10*log10(0.5*(Z</tspan><tspan x="306.5" y="12.9" font-size="31.5" letter-spacing="0.70">Ka</tspan><tspan x="363.1" y="0">+</tspan><tspan x="407.8" y="0">Z</tspan><tspan x="433.7" y="12.9" font-size="31.5">W</tspan><tspan x="465.3" y="0">))</tspan></text>
<text transform="translate(3406.6 3213.9) rotate(-90)" fill="#262626" font-size="39"><tspan x="-3" y="0" letter-spacing="-0.52">Dual Wavelength Ratio</tspan></text>
<text transform="translate(3456.6 3164.8) rotate(-90)" fill="#262626" font-size="39"><tspan x="-2" y="0" letter-spacing="-0.81">dBZ</tspan><tspan x="79.6" y="12.9" font-size="31.5" letter-spacing="1.70">Ka</tspan><tspan x="136.9" y="0">-</tspan><tspan x="163.2" y="0" letter-spacing="-0.76">dBZ</tspan><tspan x="244.5" y="12.9" font-size="31.5">W</tspan></text>
<text transform="translate(3380.4 4498.7) rotate(-90)" fill="#262626" font-size="39"><tspan x="-1" y="0" letter-spacing="-0.39">Weighted Doppler Velocity, m/s</tspan></text>
<text transform="translate(3430.6 4452.2) rotate(-90)" fill="#262626" font-size="39"><tspan x="-3" y="0" letter-spacing="-1.02">(V</tspan><tspan x="40.3" y="12.9" font-size="31.5" letter-spacing="0.70">Ka</tspan><tspan x="85.2" y="0" letter-spacing="-1.10">*Z</tspan><tspan x="136.3" y="12.9" font-size="31.5" letter-spacing="0.30">Ka</tspan><tspan x="191.8" y="0">+</tspan><tspan x="236" y="0">V</tspan><tspan x="263.7" y="12.9" font-size="31.5">W</tspan><tspan x="294.2" y="0" letter-spacing="-1.20">*Z</tspan><tspan x="343.8" y="12.9" font-size="31.5">W</tspan><tspan x="374.9" y="0" letter-spacing="-0.10">))/(Z</tspan><tspan x="466.3" y="12.9" font-size="31.5">Ka</tspan><tspan x="521.7" y="0">+</tspan><tspan x="566.3" y="0">Z</tspan><tspan x="592.9" y="12.9" font-size="31.5">W</tspan><tspan x="624.2" y="0" letter-spacing="-0.42">))</tspan></text>
</svg></body></html>
